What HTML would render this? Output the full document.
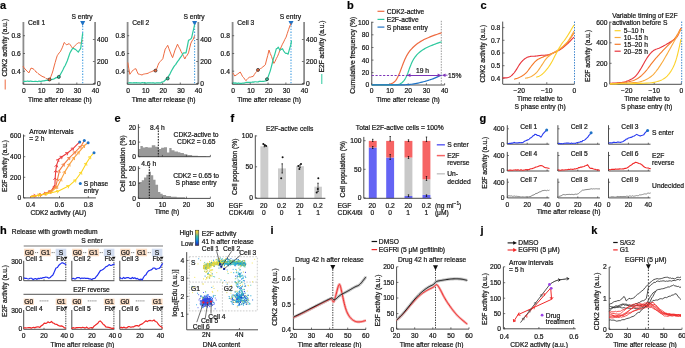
<!DOCTYPE html>
<html><head><meta charset="utf-8"><style>
html,body{margin:0;padding:0;background:#fff;}
body{width:685px;height:348px;overflow:hidden;}
svg{display:block;font-family:"Liberation Sans", sans-serif;will-change:transform;}
text{stroke:#222;stroke-width:0.22px;}
</style></head><body>
<svg width="685" height="348" viewBox="0 0 685 348">
<rect width="685" height="348" fill="#fff"/>
<text x="0.00" y="8.94" font-size="11" font-weight="bold" fill="#000">a</text>
<line x1="23.40" y1="22.00" x2="23.40" y2="84.30" stroke="#8c8c8c" stroke-width="1.8"/>
<line x1="95.10" y1="22.00" x2="95.10" y2="84.30" stroke="#8c8c8c" stroke-width="1.8"/>
<line x1="23.20" y1="84.30" x2="94.70" y2="84.30" stroke="#3a3a3a" stroke-width="0.9"/>
<text x="28.00" y="24.70" font-size="6.7" fill="#111">Cell 1</text>
<text x="20.70" y="38.10" font-size="6.7" text-anchor="end" fill="#111">0.8</text>
<line x1="23.20" y1="35.70" x2="25.00" y2="35.70" stroke="#3a3a3a" stroke-width="0.7"/>
<text x="20.70" y="55.90" font-size="6.7" text-anchor="end" fill="#111">0.6</text>
<line x1="23.20" y1="53.50" x2="25.00" y2="53.50" stroke="#3a3a3a" stroke-width="0.7"/>
<text x="20.70" y="73.60" font-size="6.7" text-anchor="end" fill="#111">0.4</text>
<line x1="23.20" y1="71.20" x2="25.00" y2="71.20" stroke="#3a3a3a" stroke-width="0.7"/>
<text x="97.00" y="41.90" font-size="6.7" fill="#111">400</text>
<line x1="92.90" y1="39.50" x2="94.70" y2="39.50" stroke="#3a3a3a" stroke-width="0.7"/>
<text x="97.00" y="63.90" font-size="6.7" fill="#111">200</text>
<line x1="92.90" y1="61.50" x2="94.70" y2="61.50" stroke="#3a3a3a" stroke-width="0.7"/>
<text x="97.00" y="85.90" font-size="6.7" fill="#111">0</text>
<line x1="92.90" y1="83.50" x2="94.70" y2="83.50" stroke="#3a3a3a" stroke-width="0.7"/>
<text x="23.90" y="93.00" font-size="6.7" text-anchor="middle" fill="#111">0</text>
<line x1="23.20" y1="84.30" x2="23.20" y2="82.50" stroke="#3a3a3a" stroke-width="0.7"/>
<text x="41.78" y="93.00" font-size="6.7" text-anchor="middle" fill="#111">10</text>
<line x1="41.08" y1="84.30" x2="41.08" y2="82.50" stroke="#3a3a3a" stroke-width="0.7"/>
<text x="59.65" y="93.00" font-size="6.7" text-anchor="middle" fill="#111">20</text>
<line x1="58.95" y1="84.30" x2="58.95" y2="82.50" stroke="#3a3a3a" stroke-width="0.7"/>
<text x="77.53" y="93.00" font-size="6.7" text-anchor="middle" fill="#111">30</text>
<line x1="76.83" y1="84.30" x2="76.83" y2="82.50" stroke="#3a3a3a" stroke-width="0.7"/>
<text x="95.40" y="93.00" font-size="6.7" text-anchor="middle" fill="#111">40</text>
<line x1="94.70" y1="84.30" x2="94.70" y2="82.50" stroke="#3a3a3a" stroke-width="0.7"/>
<text x="59.95" y="101.60" font-size="6.7" text-anchor="middle" fill="#111">Time after release (h)</text>
<line x1="127.60" y1="22.00" x2="127.60" y2="84.30" stroke="#8c8c8c" stroke-width="1.8"/>
<line x1="198.30" y1="22.00" x2="198.30" y2="84.30" stroke="#8c8c8c" stroke-width="1.8"/>
<line x1="127.40" y1="84.30" x2="197.90" y2="84.30" stroke="#3a3a3a" stroke-width="0.9"/>
<text x="132.20" y="24.70" font-size="6.7" fill="#111">Cell 2</text>
<text x="124.90" y="38.10" font-size="6.7" text-anchor="end" fill="#111">0.8</text>
<line x1="127.40" y1="35.70" x2="129.20" y2="35.70" stroke="#3a3a3a" stroke-width="0.7"/>
<text x="124.90" y="55.90" font-size="6.7" text-anchor="end" fill="#111">0.6</text>
<line x1="127.40" y1="53.50" x2="129.20" y2="53.50" stroke="#3a3a3a" stroke-width="0.7"/>
<text x="124.90" y="73.60" font-size="6.7" text-anchor="end" fill="#111">0.4</text>
<line x1="127.40" y1="71.20" x2="129.20" y2="71.20" stroke="#3a3a3a" stroke-width="0.7"/>
<text x="200.20" y="41.90" font-size="6.7" fill="#111">400</text>
<line x1="196.10" y1="39.50" x2="197.90" y2="39.50" stroke="#3a3a3a" stroke-width="0.7"/>
<text x="200.20" y="63.90" font-size="6.7" fill="#111">200</text>
<line x1="196.10" y1="61.50" x2="197.90" y2="61.50" stroke="#3a3a3a" stroke-width="0.7"/>
<text x="200.20" y="85.90" font-size="6.7" fill="#111">0</text>
<line x1="196.10" y1="83.50" x2="197.90" y2="83.50" stroke="#3a3a3a" stroke-width="0.7"/>
<text x="128.10" y="93.00" font-size="6.7" text-anchor="middle" fill="#111">0</text>
<line x1="127.40" y1="84.30" x2="127.40" y2="82.50" stroke="#3a3a3a" stroke-width="0.7"/>
<text x="145.72" y="93.00" font-size="6.7" text-anchor="middle" fill="#111">10</text>
<line x1="145.03" y1="84.30" x2="145.03" y2="82.50" stroke="#3a3a3a" stroke-width="0.7"/>
<text x="163.35" y="93.00" font-size="6.7" text-anchor="middle" fill="#111">20</text>
<line x1="162.65" y1="84.30" x2="162.65" y2="82.50" stroke="#3a3a3a" stroke-width="0.7"/>
<text x="180.97" y="93.00" font-size="6.7" text-anchor="middle" fill="#111">30</text>
<line x1="180.28" y1="84.30" x2="180.28" y2="82.50" stroke="#3a3a3a" stroke-width="0.7"/>
<text x="198.60" y="93.00" font-size="6.7" text-anchor="middle" fill="#111">40</text>
<line x1="197.90" y1="84.30" x2="197.90" y2="82.50" stroke="#3a3a3a" stroke-width="0.7"/>
<text x="163.65" y="101.60" font-size="6.7" text-anchor="middle" fill="#111">Time after release (h)</text>
<line x1="232.60" y1="22.00" x2="232.60" y2="84.30" stroke="#8c8c8c" stroke-width="1.8"/>
<line x1="304.10" y1="22.00" x2="304.10" y2="84.30" stroke="#8c8c8c" stroke-width="1.8"/>
<line x1="232.40" y1="84.30" x2="303.70" y2="84.30" stroke="#3a3a3a" stroke-width="0.9"/>
<text x="237.20" y="24.70" font-size="6.7" fill="#111">Cell 3</text>
<text x="229.90" y="38.10" font-size="6.7" text-anchor="end" fill="#111">0.8</text>
<line x1="232.40" y1="35.70" x2="234.20" y2="35.70" stroke="#3a3a3a" stroke-width="0.7"/>
<text x="229.90" y="55.90" font-size="6.7" text-anchor="end" fill="#111">0.6</text>
<line x1="232.40" y1="53.50" x2="234.20" y2="53.50" stroke="#3a3a3a" stroke-width="0.7"/>
<text x="229.90" y="73.60" font-size="6.7" text-anchor="end" fill="#111">0.4</text>
<line x1="232.40" y1="71.20" x2="234.20" y2="71.20" stroke="#3a3a3a" stroke-width="0.7"/>
<text x="306.00" y="41.90" font-size="6.7" fill="#111">400</text>
<line x1="301.90" y1="39.50" x2="303.70" y2="39.50" stroke="#3a3a3a" stroke-width="0.7"/>
<text x="306.00" y="63.90" font-size="6.7" fill="#111">200</text>
<line x1="301.90" y1="61.50" x2="303.70" y2="61.50" stroke="#3a3a3a" stroke-width="0.7"/>
<text x="306.00" y="85.90" font-size="6.7" fill="#111">0</text>
<line x1="301.90" y1="83.50" x2="303.70" y2="83.50" stroke="#3a3a3a" stroke-width="0.7"/>
<text x="233.10" y="93.00" font-size="6.7" text-anchor="middle" fill="#111">0</text>
<line x1="232.40" y1="84.30" x2="232.40" y2="82.50" stroke="#3a3a3a" stroke-width="0.7"/>
<text x="250.92" y="93.00" font-size="6.7" text-anchor="middle" fill="#111">10</text>
<line x1="250.22" y1="84.30" x2="250.22" y2="82.50" stroke="#3a3a3a" stroke-width="0.7"/>
<text x="268.75" y="93.00" font-size="6.7" text-anchor="middle" fill="#111">20</text>
<line x1="268.05" y1="84.30" x2="268.05" y2="82.50" stroke="#3a3a3a" stroke-width="0.7"/>
<text x="286.57" y="93.00" font-size="6.7" text-anchor="middle" fill="#111">30</text>
<line x1="285.88" y1="84.30" x2="285.88" y2="82.50" stroke="#3a3a3a" stroke-width="0.7"/>
<text x="304.40" y="93.00" font-size="6.7" text-anchor="middle" fill="#111">40</text>
<line x1="303.70" y1="84.30" x2="303.70" y2="82.50" stroke="#3a3a3a" stroke-width="0.7"/>
<text x="269.05" y="101.60" font-size="6.7" text-anchor="middle" fill="#111">Time after release (h)</text>
<line x1="82.70" y1="26.00" x2="82.70" y2="84.30" stroke="#3d9be0" stroke-width="1.1" stroke-dasharray="1.3,1.5"/>
<path d="M80.20,21.00 L85.20,21.00 L82.70,26.00 Z" fill="#1f73c6"/>
<text x="71.50" y="19.40" font-size="6.7" fill="#111">S entry</text>
<line x1="194.60" y1="26.00" x2="194.60" y2="84.30" stroke="#3d9be0" stroke-width="1.1" stroke-dasharray="1.3,1.5"/>
<path d="M192.10,21.00 L197.10,21.00 L194.60,26.00 Z" fill="#1f73c6"/>
<text x="183.40" y="19.40" font-size="6.7" fill="#111">S entry</text>
<line x1="291.00" y1="26.00" x2="291.00" y2="84.30" stroke="#3d9be0" stroke-width="1.1" stroke-dasharray="1.3,1.5"/>
<path d="M288.50,21.00 L293.50,21.00 L291.00,26.00 Z" fill="#1f73c6"/>
<text x="279.80" y="19.40" font-size="6.7" fill="#111">S entry</text>
<text transform="translate(4.40,47.70) rotate(-90)" y="2.40" font-size="6.7" text-anchor="middle" fill="#111">CDK2 activity (a.u.)</text>
<line x1="5.20" y1="79.50" x2="5.20" y2="89.50" stroke="#ee6a40" stroke-width="1.0"/>
<text transform="translate(322.00,46.50) rotate(-90)" y="2.40" font-size="6.7" text-anchor="middle" fill="#111">E2F activity (a.u.)</text>
<line x1="321.80" y1="74.00" x2="321.80" y2="84.00" stroke="#2ec99e" stroke-width="1.0"/>
<polyline points="23.00,66.02 24.00,67.90 25.00,68.92 26.00,70.03 27.00,71.10 28.00,72.07 29.00,72.83 30.00,70.26 31.00,68.11 32.00,68.40 33.00,68.77 34.00,69.45 35.00,70.56 36.00,72.04 37.00,72.42 38.00,73.49 39.00,74.29 40.00,74.97 41.00,75.59 42.00,76.29 43.00,76.76 44.00,77.10 45.00,77.53 46.00,78.54 47.00,78.80 48.00,79.04 49.50,79.96 50.85,76.70 52.20,73.16 53.20,69.90 54.20,65.96 55.20,62.42 56.20,58.94 57.20,55.76 58.20,54.25 59.20,52.81 60.20,51.86 61.20,49.92 62.20,47.86 63.20,45.30 64.20,42.48 65.40,43.57 66.60,44.86 67.90,44.26 69.20,43.62 70.37,44.93 71.53,46.74 72.70,48.39 74.00,46.74 75.30,45.29 76.30,44.36 77.30,43.59 78.30,42.82 79.30,42.88 80.30,42.93 81.30,43.35 82.30,40.10" fill="none" stroke="#ee6a40" stroke-width="1.0" stroke-linejoin="round"/>
<polyline points="23.00,81.27 24.00,81.32 25.00,81.44 26.00,81.30 27.00,81.21 28.00,81.08 29.00,81.46 30.00,81.11 31.00,81.11 32.00,81.45 33.00,81.52 34.00,81.49 35.00,81.29 36.00,81.40 37.00,81.49 38.00,81.53 39.00,81.03 40.00,81.42 41.00,81.38 42.00,81.07 43.00,80.95 44.00,80.86 45.00,80.60 46.00,80.41 47.00,80.35 48.00,80.46 49.00,80.44 50.03,79.95 51.07,79.53 52.10,79.45 53.13,79.14 54.17,78.84 55.20,78.16 56.20,77.66 57.20,77.70 58.20,76.98 59.20,76.90 60.20,74.84 61.20,73.05 62.20,71.18 63.20,69.32 64.20,67.08 65.20,65.46 66.20,63.26 67.20,60.96 68.50,57.29 69.80,53.32 71.25,50.62 72.70,48.26 74.00,48.68 75.30,49.35 76.30,50.13 77.30,51.18 78.30,52.13 79.50,50.05 80.70,48.29 81.70,40.79 82.70,33.10" fill="none" stroke="#2ec99e" stroke-width="1.2" stroke-linejoin="round"/>
<circle cx="49.50" cy="79.50" r="1.5" fill="#ee6a40" stroke="#222" stroke-width="0.7"/>
<circle cx="58.80" cy="76.90" r="1.5" fill="#2ec99e" stroke="#222" stroke-width="0.7"/>
<polyline points="127.80,62.41 128.80,68.51 129.80,74.30 131.00,72.69 132.20,71.14 133.40,69.88 134.65,69.10 135.90,68.71 137.10,71.66 138.30,74.13 139.53,74.29 140.77,74.61 142.00,75.02 143.23,74.25 144.47,73.98 145.70,73.73 146.92,73.57 148.15,73.23 149.38,72.44 150.60,72.04 151.80,71.51 153.00,70.96 154.20,70.63 155.45,69.65 156.70,68.92 157.90,65.39 159.10,62.69 160.33,61.52 161.57,60.11 162.80,58.78 164.00,53.73 165.20,49.13 166.45,47.39 167.70,45.29 168.90,48.68 170.10,51.84 171.35,54.94 172.60,57.66 173.80,53.94 175.00,50.10 176.25,47.29 177.50,44.20 178.70,46.78 179.90,48.86 181.10,51.59 182.33,53.79 183.57,56.29 184.80,58.98 186.03,56.57 187.27,55.12 188.50,52.86 189.70,47.82 190.90,43.09 192.10,40.86 193.30,39.16 194.60,35.70" fill="none" stroke="#ee6a40" stroke-width="1.0" stroke-linejoin="round"/>
<polyline points="127.80,82.71 128.84,82.96 129.88,82.70 130.91,82.81 131.95,82.88 132.99,83.00 134.03,82.64 135.06,83.00 136.10,82.62 137.14,82.87 138.18,82.86 139.21,82.92 140.25,83.16 141.29,82.81 142.33,82.62 143.36,82.78 144.40,82.65 145.43,82.95 146.45,83.14 147.47,82.85 148.50,82.89 149.53,82.78 150.55,82.81 151.57,82.97 152.60,82.93 153.62,82.86 154.65,83.14 155.67,83.03 156.70,82.78 157.97,82.86 159.23,82.86 160.50,82.99 161.60,82.15 162.70,81.92 163.80,81.52 165.10,80.23 166.40,79.03 167.70,77.98 168.92,75.64 170.15,73.58 171.38,70.94 172.60,68.85 173.62,67.17 174.63,65.62 175.65,64.65 176.67,62.87 177.68,61.33 178.70,60.16 179.80,58.34 180.90,56.91 182.00,55.29 183.10,53.21 184.55,52.91 186.00,52.92 187.25,46.96 188.50,40.32 189.53,39.84 190.57,39.12 191.60,37.83 192.60,33.41 193.60,29.20 194.60,24.70" fill="none" stroke="#2ec99e" stroke-width="1.2" stroke-linejoin="round"/>
<circle cx="155.50" cy="70.60" r="1.5" fill="#ee6a40" stroke="#222" stroke-width="0.7"/>
<circle cx="167.70" cy="78.50" r="1.5" fill="#2ec99e" stroke="#222" stroke-width="0.7"/>
<polyline points="232.80,72.89 233.80,74.42 234.80,76.03 236.25,75.00 237.70,73.97 238.95,73.04 240.20,72.01 241.40,74.17 242.60,76.61 243.67,77.58 244.73,79.19 245.80,80.67 247.00,79.60 248.20,78.33 249.40,77.02 250.63,77.13 251.87,76.61 253.10,76.51 254.33,74.54 255.57,72.72 256.80,71.34 258.03,70.07 259.27,69.61 260.50,68.51 261.70,67.95 262.90,66.78 264.10,65.96 265.30,64.84 266.53,59.98 267.77,55.31 269.00,50.04 270.25,53.53 271.50,56.40 272.70,60.05 273.90,63.40 275.13,61.28 276.37,58.47 277.60,56.23 278.80,53.23 280.00,49.77 281.20,46.96 282.43,44.19 283.65,41.97 284.88,39.31 286.10,37.12 287.33,33.30 288.57,29.59 289.80,26.04 291.00,23.40" fill="none" stroke="#ee6a40" stroke-width="1.0" stroke-linejoin="round"/>
<polyline points="232.80,82.67 233.95,83.08 235.10,82.95 236.25,83.11 237.40,83.36 238.55,82.97 239.70,83.36 240.78,83.35 241.86,83.28 242.93,83.11 244.01,83.12 245.09,82.72 246.17,82.47 247.24,82.38 248.32,82.47 249.40,82.43 250.49,82.46 251.58,82.26 252.67,81.96 253.76,82.14 254.84,81.76 255.93,81.76 257.02,82.02 258.11,81.93 259.20,81.35 260.26,81.41 261.31,81.47 262.37,81.32 263.43,81.35 264.49,81.21 265.54,80.99 266.60,80.70 267.80,77.74 269.00,74.38 270.20,71.11 271.27,67.09 272.33,63.01 273.40,58.72 274.85,54.11 276.30,48.81 277.30,48.40 278.30,47.18 280.00,50.28 281.25,49.37 282.50,48.70 283.70,50.98 284.90,52.64 285.97,53.47 287.03,53.36 288.10,54.16 289.55,48.84 291.00,44.12 291.50,40.60" fill="none" stroke="#2ec99e" stroke-width="1.2" stroke-linejoin="round"/>
<circle cx="258.00" cy="69.90" r="1.5" fill="#ee6a40" stroke="#222" stroke-width="0.7"/>
<circle cx="267.00" cy="79.20" r="1.5" fill="#2ec99e" stroke="#222" stroke-width="0.7"/>
<text x="347.00" y="8.94" font-size="11" font-weight="bold" fill="#000">b</text>
<line x1="371.70" y1="21.70" x2="371.70" y2="85.00" stroke="#7a7a7a" stroke-width="1.3"/>
<line x1="371.70" y1="85.00" x2="444.60" y2="85.00" stroke="#3a3a3a" stroke-width="0.9"/>
<text x="369.20" y="24.70" font-size="6.7" text-anchor="end" fill="#111">100</text>
<line x1="371.70" y1="22.30" x2="373.50" y2="22.30" stroke="#3a3a3a" stroke-width="0.7"/>
<text x="369.20" y="37.20" font-size="6.7" text-anchor="end" fill="#111">80</text>
<line x1="371.70" y1="34.80" x2="373.50" y2="34.80" stroke="#3a3a3a" stroke-width="0.7"/>
<text x="369.20" y="49.90" font-size="6.7" text-anchor="end" fill="#111">60</text>
<line x1="371.70" y1="47.50" x2="373.50" y2="47.50" stroke="#3a3a3a" stroke-width="0.7"/>
<text x="369.20" y="62.50" font-size="6.7" text-anchor="end" fill="#111">40</text>
<line x1="371.70" y1="60.10" x2="373.50" y2="60.10" stroke="#3a3a3a" stroke-width="0.7"/>
<text x="369.20" y="75.00" font-size="6.7" text-anchor="end" fill="#111">20</text>
<line x1="371.70" y1="72.60" x2="373.50" y2="72.60" stroke="#3a3a3a" stroke-width="0.7"/>
<text x="369.20" y="87.40" font-size="6.7" text-anchor="end" fill="#111">0</text>
<line x1="371.70" y1="85.00" x2="373.50" y2="85.00" stroke="#3a3a3a" stroke-width="0.7"/>
<text x="371.70" y="93.10" font-size="6.7" text-anchor="middle" fill="#111">0</text>
<line x1="371.70" y1="85.00" x2="371.70" y2="83.20" stroke="#3a3a3a" stroke-width="0.7"/>
<text x="389.93" y="93.10" font-size="6.7" text-anchor="middle" fill="#111">10</text>
<line x1="389.93" y1="85.00" x2="389.93" y2="83.20" stroke="#3a3a3a" stroke-width="0.7"/>
<text x="408.16" y="93.10" font-size="6.7" text-anchor="middle" fill="#111">20</text>
<line x1="408.16" y1="85.00" x2="408.16" y2="83.20" stroke="#3a3a3a" stroke-width="0.7"/>
<text x="426.39" y="93.10" font-size="6.7" text-anchor="middle" fill="#111">30</text>
<line x1="426.39" y1="85.00" x2="426.39" y2="83.20" stroke="#3a3a3a" stroke-width="0.7"/>
<text x="444.62" y="93.10" font-size="6.7" text-anchor="middle" fill="#111">40</text>
<line x1="444.62" y1="85.00" x2="444.62" y2="83.20" stroke="#3a3a3a" stroke-width="0.7"/>
<text x="408.00" y="101.70" font-size="6.7" text-anchor="middle" fill="#111">Time after release (h)</text>
<text transform="translate(352.20,55.30) rotate(-90)" y="2.40" font-size="6.7" text-anchor="middle" fill="#111">Cumulative frequency (%)</text>
<line x1="441.30" y1="20.80" x2="441.30" y2="85.00" stroke="#555" stroke-width="0.6" stroke-dasharray="1.5,1.2"/>
<line x1="377.50" y1="11.30" x2="384.40" y2="11.30" stroke="#ee6a40" stroke-width="1.2"/>
<text x="386.70" y="13.70" font-size="6.7" fill="#111">CDK2-active</text>
<line x1="377.50" y1="19.40" x2="384.40" y2="19.40" stroke="#2ec99e" stroke-width="1.2"/>
<text x="386.70" y="21.80" font-size="6.7" fill="#111">E2F-active</text>
<line x1="377.50" y1="27.10" x2="384.40" y2="27.10" stroke="#1f73c6" stroke-width="1.2"/>
<text x="386.70" y="29.50" font-size="6.7" fill="#111">S phase entry</text>
<polyline points="371.70,84.80 371.91,84.80 372.32,84.80 372.95,84.80 373.78,84.80 374.82,84.80 376.06,84.80 377.52,84.80 379.18,84.80 380.70,84.80 382.08,84.79 383.32,84.78 384.43,84.77 385.38,84.75 386.20,84.73 386.88,84.71 387.42,84.69 387.98,84.62 388.56,84.52 389.16,84.39 389.79,84.21 390.43,84.00 391.10,83.75 391.79,83.46 392.51,83.14 393.19,82.75 393.84,82.30 394.46,81.79 395.04,81.21 395.60,80.57 396.13,79.88 396.62,79.11 397.08,78.29 397.53,77.45 397.96,76.60 398.38,75.74 398.79,74.86 399.18,73.98 399.56,73.08 399.92,72.16 400.28,71.24 400.63,70.31 400.98,69.38 401.32,68.45 401.68,67.52 402.02,66.59 402.37,65.65 402.72,64.72 403.08,63.78 403.44,62.84 403.82,61.91 404.21,60.97 404.62,60.03 405.04,59.09 405.47,58.16 405.92,57.22 406.38,56.28 406.87,55.36 407.40,54.45 407.95,53.56 408.53,52.69 409.14,51.83 409.78,50.98 410.45,50.16 411.15,49.34 411.88,48.55 412.64,47.76 413.43,46.99 414.25,46.23 415.10,45.49 415.97,44.76 416.88,44.05 417.82,43.35 418.78,42.67 419.78,42.01 420.80,41.37 421.85,40.75 422.93,40.15 424.03,39.58 425.17,39.02 426.33,38.48 427.52,37.95 428.75,37.43 430.00,36.92 431.28,36.41 432.59,35.91 433.93,35.42 435.30,34.94 436.70,34.46 437.92,34.05 438.98,33.69 439.85,33.39 440.55,33.16 441.08,32.98 441.43,32.86 441.60,32.80" fill="none" stroke="#ee6a40" stroke-width="1.2" stroke-linejoin="round"/>
<polyline points="371.70,84.80 372.08,84.80 372.84,84.80 373.98,84.80 375.50,84.80 377.40,84.80 379.67,84.80 382.33,84.80 385.37,84.80 388.07,84.80 390.43,84.79 392.46,84.78 394.14,84.77 395.49,84.75 396.51,84.73 397.18,84.71 397.52,84.69 397.89,84.62 398.28,84.52 398.71,84.39 399.17,84.21 399.65,84.00 400.17,83.75 400.71,83.46 401.29,83.14 401.85,82.75 402.40,82.30 402.94,81.79 403.46,81.21 403.98,80.57 404.48,79.88 404.96,79.11 405.44,78.29 405.90,77.43 406.34,76.55 406.77,75.64 407.18,74.71 407.58,73.74 407.96,72.75 408.32,71.72 408.68,70.68 409.04,69.62 409.42,68.57 409.81,67.52 410.22,66.48 410.64,65.43 411.07,64.38 411.52,63.33 411.98,62.28 412.47,61.25 413.00,60.26 413.55,59.30 414.13,58.37 414.74,57.47 415.38,56.60 416.05,55.76 416.75,54.94 417.48,54.16 418.24,53.40 419.03,52.68 419.85,51.98 420.70,51.30 421.57,50.66 422.48,50.04 423.42,49.46 424.38,48.88 425.38,48.33 426.40,47.79 427.45,47.26 428.53,46.75 429.63,46.26 430.77,45.78 431.93,45.32 433.04,44.88 434.08,44.48 435.07,44.10 436.00,43.75 436.88,43.43 437.69,43.13 438.45,42.87 439.15,42.63 439.76,42.42 440.29,42.25 440.73,42.10 441.08,41.98 441.34,41.89 441.51,41.83 441.60,41.80" fill="none" stroke="#2ec99e" stroke-width="1.2" stroke-linejoin="round"/>
<polyline points="371.70,84.90 372.14,84.90 373.03,84.90 374.35,84.90 376.12,84.90 378.33,84.90 380.99,84.90 384.08,84.90 387.62,84.90 390.75,84.90 393.48,84.90 395.80,84.90 397.72,84.90 399.24,84.90 400.35,84.90 401.05,84.90 401.35,84.90 401.76,84.89 402.28,84.88 402.91,84.85 403.64,84.82 404.49,84.78 405.45,84.74 406.51,84.68 407.69,84.62 408.89,84.53 410.12,84.40 411.38,84.25 412.67,84.07 413.98,83.86 415.33,83.62 416.70,83.35 418.10,83.05 419.47,82.74 420.81,82.43 422.12,82.11 423.40,81.79 424.65,81.46 425.88,81.12 427.07,80.77 428.23,80.42 429.39,80.05 430.56,79.66 431.72,79.25 432.88,78.82 434.04,78.37 435.21,77.90 436.37,77.41 437.53,76.89 438.55,76.45 439.42,76.06 440.15,75.74 440.73,75.48 441.16,75.29 441.45,75.16 441.60,75.10" fill="none" stroke="#1f73c6" stroke-width="1.2" stroke-linejoin="round"/>
<line x1="371.70" y1="75.50" x2="441.30" y2="75.50" stroke="#7d35b8" stroke-width="1.0" stroke-dasharray="2.2,1.6"/>
<line x1="407.00" y1="75.50" x2="441.30" y2="75.50" stroke="#7d35b8" stroke-width="1.0"/>
<path d="M406.8,75.2 L410.5,73.4 L410.5,77.0 Z" fill="#7d35b8"/>
<path d="M441.3,75.2 L437.6,73.4 L437.6,77.0 Z" fill="#7d35b8"/>
<path d="M441.8,75.2 L445.5,73.4 L445.5,77.0 Z" fill="#7d35b8"/>
<line x1="445.00" y1="75.20" x2="447.50" y2="75.20" stroke="#7d35b8" stroke-width="0.9"/>
<text x="422.60" y="73.00" font-size="6.7" text-anchor="middle" fill="#111">19 h</text>
<text x="448.10" y="77.60" font-size="6.7" fill="#111">15%</text>
<text x="480.50" y="8.94" font-size="11" font-weight="bold" fill="#000">c</text>
<line x1="502.70" y1="21.60" x2="502.70" y2="84.00" stroke="#3a3a3a" stroke-width="0.9"/>
<line x1="502.70" y1="84.30" x2="574.50" y2="84.30" stroke="#3a3a3a" stroke-width="0.9"/>
<text x="500.20" y="30.00" font-size="6.7" text-anchor="end" fill="#111">0.8</text>
<line x1="502.70" y1="27.60" x2="504.50" y2="27.60" stroke="#3a3a3a" stroke-width="0.7"/>
<text x="500.20" y="42.70" font-size="6.7" text-anchor="end" fill="#111">0.7</text>
<line x1="502.70" y1="40.30" x2="504.50" y2="40.30" stroke="#3a3a3a" stroke-width="0.7"/>
<text x="500.20" y="55.40" font-size="6.7" text-anchor="end" fill="#111">0.6</text>
<line x1="502.70" y1="53.00" x2="504.50" y2="53.00" stroke="#3a3a3a" stroke-width="0.7"/>
<text x="500.20" y="68.10" font-size="6.7" text-anchor="end" fill="#111">0.5</text>
<line x1="502.70" y1="65.70" x2="504.50" y2="65.70" stroke="#3a3a3a" stroke-width="0.7"/>
<text x="500.20" y="80.70" font-size="6.7" text-anchor="end" fill="#111">0.4</text>
<line x1="502.70" y1="78.30" x2="504.50" y2="78.30" stroke="#3a3a3a" stroke-width="0.7"/>
<text x="519.30" y="92.60" font-size="6.7" text-anchor="middle" fill="#111">−20</text>
<line x1="519.30" y1="84.00" x2="519.30" y2="82.20" stroke="#3a3a3a" stroke-width="0.7"/>
<text x="546.80" y="92.60" font-size="6.7" text-anchor="middle" fill="#111">−10</text>
<line x1="546.80" y1="84.00" x2="546.80" y2="82.20" stroke="#3a3a3a" stroke-width="0.7"/>
<text x="574.40" y="92.60" font-size="6.7" text-anchor="middle" fill="#111">0</text>
<line x1="574.40" y1="84.00" x2="574.40" y2="82.20" stroke="#3a3a3a" stroke-width="0.7"/>
<line x1="574.50" y1="21.60" x2="574.50" y2="84.00" stroke="#1f73c6" stroke-width="0.9" stroke-dasharray="1.4,1.3"/>
<text x="539.80" y="100.90" font-size="6.7" text-anchor="middle" fill="#111">Time relative to</text>
<text x="540.10" y="109.00" font-size="6.7" text-anchor="middle" fill="#111">S phase entry (h)</text>
<text transform="translate(483.00,53.70) rotate(-90)" y="2.40" font-size="6.7" text-anchor="middle" fill="#111">CDK2 activity (a.u.)</text>
<polyline points="502.40,77.90 502.49,77.90 502.67,77.90 502.93,77.90 503.29,77.90 503.74,77.90 504.27,77.90 504.89,77.90 505.61,77.90 506.29,77.86 506.95,77.78 507.58,77.66 508.19,77.49 508.77,77.29 509.32,77.05 509.85,76.76 510.35,76.44 510.85,76.07 511.35,75.67 511.85,75.24 512.35,74.76 512.85,74.25 513.35,73.70 513.85,73.11 514.35,72.49 514.85,71.83 515.35,71.14 515.85,70.42 516.35,69.66 516.85,68.87 517.35,68.05 517.85,67.19 518.35,66.31 518.87,65.45 519.40,64.63 519.94,63.84 520.51,63.08 521.08,62.36 521.68,61.67 522.29,61.01 522.91,60.39 523.54,59.81 524.17,59.28 524.80,58.79 525.43,58.36 526.06,57.97 526.70,57.62 527.33,57.33 527.97,57.08 528.62,56.86 529.29,56.67 529.97,56.51 530.66,56.39 531.37,56.29 532.09,56.23 532.83,56.20 533.58,56.20 534.31,56.18 535.03,56.15 535.73,56.11 536.42,56.04 537.09,55.97 537.75,55.87 538.39,55.76 539.01,55.64 539.65,55.53 540.31,55.43 540.98,55.36 541.67,55.29 542.37,55.25 543.09,55.22 543.83,55.20 544.58,55.20 545.33,55.17 546.08,55.11 546.83,55.01 547.59,54.89 548.35,54.73 549.11,54.54 549.87,54.33 550.63,54.08 551.41,53.80 552.20,53.51 553.00,53.19 553.82,52.86 554.65,52.50 555.50,52.12 556.36,51.71 557.24,51.29 558.11,50.83 558.99,50.33 559.86,49.80 560.74,49.23 561.61,48.62 562.49,47.98 563.36,47.31 564.24,46.59 565.11,45.86 565.97,45.11 566.83,44.33 567.69,43.54 568.54,42.73 569.39,41.89 570.23,41.04 571.07,40.16 571.80,39.40 572.43,38.74 572.95,38.19 573.37,37.76 573.69,37.43 573.90,37.21 574.00,37.10" fill="none" stroke="#e8343c" stroke-width="1.1" stroke-linejoin="round"/>
<polyline points="514.10,79.30 514.19,79.27 514.38,79.21 514.66,79.11 515.04,78.99 515.51,78.83 516.07,78.64 516.73,78.42 517.48,78.17 518.23,77.89 518.98,77.58 519.73,77.24 520.48,76.86 521.23,76.46 521.98,76.02 522.73,75.55 523.48,75.05 524.21,74.50 524.93,73.90 525.64,73.26 526.33,72.57 527.01,71.82 527.68,71.03 528.33,70.19 528.97,69.31 529.60,68.44 530.24,67.58 530.87,66.75 531.50,65.93 532.13,65.13 532.76,64.34 533.39,63.58 534.01,62.83 534.65,62.12 535.31,61.47 535.98,60.86 536.67,60.29 537.37,59.78 538.09,59.31 538.83,58.89 539.58,58.51 540.33,58.15 541.08,57.81 541.83,57.48 542.59,57.17 543.35,56.87 544.11,56.59 544.87,56.33 545.63,56.08 546.39,55.81 547.15,55.53 547.91,55.23 548.67,54.92 549.42,54.59 550.17,54.25 550.92,53.89 551.67,53.51 552.42,53.14 553.17,52.76 553.92,52.39 554.67,52.01 555.42,51.64 556.17,51.26 556.92,50.89 557.67,50.51 558.44,50.09 559.22,49.62 560.02,49.10 560.83,48.53 561.66,47.91 562.50,47.25 563.36,46.53 564.24,45.77 565.11,44.95 565.97,44.06 566.83,43.12 567.69,42.11 568.54,41.04 569.39,39.91 570.23,38.73 571.07,37.48 571.80,36.38 572.43,35.44 572.95,34.66 573.37,34.04 573.69,33.57 573.90,33.26 574.00,33.10" fill="none" stroke="#f57a2a" stroke-width="1.1" stroke-linejoin="round"/>
<polyline points="525.10,78.30 525.18,78.28 525.34,78.25 525.58,78.21 525.90,78.14 526.30,78.07 526.77,77.97 527.33,77.86 527.97,77.74 528.62,77.57 529.29,77.35 529.97,77.08 530.66,76.77 531.37,76.41 532.09,76.00 532.83,75.55 533.58,75.05 534.31,74.50 535.03,73.90 535.73,73.26 536.42,72.57 537.09,71.82 537.75,71.03 538.39,70.19 539.01,69.31 539.64,68.40 540.26,67.49 540.89,66.56 541.51,65.62 542.14,64.66 542.76,63.69 543.39,62.70 544.01,61.70 544.64,60.76 545.27,59.89 545.90,59.08 546.53,58.33 547.16,57.64 547.80,57.01 548.43,56.45 549.07,55.95 549.70,55.47 550.34,55.00 550.97,54.54 551.60,54.11 552.23,53.68 552.86,53.28 553.49,52.89 554.11,52.51 554.75,52.12 555.41,51.71 556.08,51.28 556.77,50.84 557.47,50.38 558.19,49.90 558.92,49.41 559.67,48.89 560.43,48.35 561.18,47.78 561.93,47.18 562.69,46.55 563.45,45.89 564.21,45.20 564.97,44.48 565.73,43.73 566.49,42.91 567.23,42.04 567.97,41.10 568.70,40.10 569.43,39.04 570.14,37.91 570.85,36.73 571.55,35.48 572.16,34.38 572.69,33.44 573.12,32.66 573.47,32.04 573.74,31.57 573.91,31.26 574.00,31.10" fill="none" stroke="#f9aa3c" stroke-width="1.1" stroke-linejoin="round"/>
<polyline points="536.20,77.30 536.28,77.27 536.43,77.21 536.67,77.11 536.98,76.99 537.37,76.83 537.84,76.64 538.39,76.42 539.01,76.17 539.64,75.88 540.26,75.53 540.89,75.14 541.51,74.71 542.14,74.22 542.76,73.69 543.39,73.11 544.01,72.49 544.64,71.83 545.27,71.14 545.90,70.42 546.53,69.66 547.16,68.87 547.80,68.05 548.43,67.19 549.07,66.31 549.70,65.37 550.34,64.40 550.97,63.37 551.60,62.30 552.23,61.19 552.86,60.03 553.49,58.83 554.11,57.58 554.74,56.34 555.36,55.12 555.99,53.91 556.61,52.72 557.24,51.54 557.86,50.37 558.49,49.22 559.11,48.08 559.74,46.99 560.36,45.95 560.99,44.96 561.61,44.02 562.24,43.12 562.86,42.27 563.49,41.48 564.11,40.73 564.78,39.86 565.49,38.89 566.24,37.81 567.03,36.62 567.87,35.31 568.75,33.90 569.67,32.37 570.63,30.73 571.47,29.30 572.20,28.07 572.80,27.05 573.28,26.23 573.64,25.61 573.88,25.20 574.00,25.00" fill="none" stroke="#fcd22a" stroke-width="1.1" stroke-linejoin="round"/>
<line x1="609.80" y1="21.60" x2="609.80" y2="84.10" stroke="#3a3a3a" stroke-width="0.9"/>
<line x1="609.80" y1="84.30" x2="681.70" y2="84.30" stroke="#3a3a3a" stroke-width="0.9"/>
<text x="607.50" y="24.60" font-size="6.7" text-anchor="end" fill="#111">600</text>
<line x1="609.80" y1="22.20" x2="611.60" y2="22.20" stroke="#3a3a3a" stroke-width="0.7"/>
<text x="607.50" y="45.20" font-size="6.7" text-anchor="end" fill="#111">400</text>
<line x1="609.80" y1="42.80" x2="611.60" y2="42.80" stroke="#3a3a3a" stroke-width="0.7"/>
<text x="607.50" y="65.70" font-size="6.7" text-anchor="end" fill="#111">200</text>
<line x1="609.80" y1="63.30" x2="611.60" y2="63.30" stroke="#3a3a3a" stroke-width="0.7"/>
<text x="607.50" y="86.50" font-size="6.7" text-anchor="end" fill="#111">0</text>
<line x1="609.80" y1="84.10" x2="611.60" y2="84.10" stroke="#3a3a3a" stroke-width="0.7"/>
<text x="626.70" y="92.60" font-size="6.7" text-anchor="middle" fill="#111">−20</text>
<line x1="626.70" y1="84.10" x2="626.70" y2="82.30" stroke="#3a3a3a" stroke-width="0.7"/>
<text x="654.20" y="92.60" font-size="6.7" text-anchor="middle" fill="#111">−10</text>
<line x1="654.20" y1="84.10" x2="654.20" y2="82.30" stroke="#3a3a3a" stroke-width="0.7"/>
<text x="681.40" y="92.60" font-size="6.7" text-anchor="middle" fill="#111">0</text>
<line x1="681.40" y1="84.10" x2="681.40" y2="82.30" stroke="#3a3a3a" stroke-width="0.7"/>
<line x1="681.70" y1="21.60" x2="681.70" y2="84.10" stroke="#1f73c6" stroke-width="0.9" stroke-dasharray="1.4,1.3"/>
<text x="647.00" y="100.90" font-size="6.7" text-anchor="middle" fill="#111">Time relative to</text>
<text x="646.70" y="109.00" font-size="6.7" text-anchor="middle" fill="#111">S phase entry (h)</text>
<text transform="translate(588.00,55.90) rotate(-90)" y="2.40" font-size="6.7" text-anchor="middle" fill="#111">E2F activity (a.u.)</text>
<text x="612.20" y="18.00" font-size="6.7" fill="#111">Variable timing of E2F</text>
<text x="612.20" y="24.90" font-size="6.7" fill="#111">activation before S</text>
<line x1="614.60" y1="30.70" x2="620.70" y2="30.70" stroke="#fcd22a" stroke-width="1.2"/>
<text x="623.70" y="33.10" font-size="6.7" fill="#111">5–10 h</text>
<line x1="614.60" y1="37.50" x2="620.70" y2="37.50" stroke="#f9aa3c" stroke-width="1.2"/>
<text x="623.70" y="39.90" font-size="6.7" fill="#111">10–15 h</text>
<line x1="614.60" y1="44.30" x2="620.70" y2="44.30" stroke="#f57a2a" stroke-width="1.2"/>
<text x="623.70" y="46.70" font-size="6.7" fill="#111">15–20 h</text>
<line x1="614.60" y1="51.20" x2="620.70" y2="51.20" stroke="#e8343c" stroke-width="1.2"/>
<text x="623.70" y="53.60" font-size="6.7" fill="#111">20–25 h</text>
<polyline points="610.00,83.30 610.17,83.29 610.52,83.27 611.04,83.24 611.73,83.21 612.60,83.16 613.64,83.10 614.86,83.04 616.24,82.96 617.55,82.88 618.78,82.78 619.93,82.66 621.00,82.54 621.99,82.40 622.90,82.25 623.73,82.09 624.48,81.91 625.26,81.70 626.07,81.44 626.92,81.14 627.80,80.81 628.72,80.43 629.66,80.01 630.64,79.55 631.66,79.05 632.64,78.47 633.58,77.82 634.50,77.08 635.38,76.27 636.23,75.38 637.04,74.41 637.83,73.36 638.58,72.24 639.33,71.08 640.08,69.89 640.83,68.67 641.58,67.41 642.33,66.12 643.08,64.80 643.83,63.44 644.58,62.06 645.33,60.73 646.08,59.47 646.83,58.28 647.58,57.15 648.33,56.08 649.08,55.08 649.83,54.14 650.58,53.26 651.33,52.47 652.08,51.75 652.83,51.11 653.59,50.54 654.35,50.06 655.11,49.65 655.87,49.33 656.63,49.08 657.39,48.81 658.15,48.52 658.91,48.22 659.67,47.90 660.42,47.57 661.17,47.21 661.92,46.84 662.67,46.46 663.46,46.04 664.27,45.59 665.11,45.12 665.99,44.61 666.89,44.07 667.83,43.51 668.80,42.91 669.80,42.29 670.74,41.69 671.62,41.13 672.43,40.60 673.19,40.10 673.89,39.63 674.52,39.19 675.09,38.79 675.61,38.41 676.11,37.94 676.61,37.38 677.10,36.72 677.58,35.96 678.05,35.11 678.52,34.16 678.98,33.12 679.43,31.98 679.82,30.99 680.16,30.13 680.44,29.42 680.66,28.85 680.83,28.43 680.94,28.14 681.00,28.00" fill="none" stroke="#e8343c" stroke-width="1.1" stroke-linejoin="round"/>
<polyline points="610.00,83.90 610.30,83.87 610.90,83.81 611.79,83.71 612.98,83.59 614.48,83.43 616.27,83.24 618.36,83.03 620.74,82.78 622.96,82.52 625.00,82.25 626.88,81.97 628.58,81.68 630.10,81.38 631.46,81.08 632.64,80.76 633.66,80.44 634.67,80.04 635.68,79.58 636.68,79.05 637.69,78.45 638.70,77.78 639.70,77.04 640.70,76.24 641.70,75.36 642.70,74.42 643.70,73.42 644.70,72.35 645.70,71.22 646.70,70.03 647.70,68.77 648.70,67.44 649.70,66.06 650.70,64.70 651.70,63.38 652.71,62.09 653.72,60.83 654.72,59.61 655.73,58.42 656.74,57.26 657.76,56.14 658.77,55.03 659.78,53.93 660.78,52.85 661.79,51.78 662.80,50.72 663.80,49.68 664.80,48.66 665.80,47.64 666.77,46.66 667.71,45.72 668.62,44.80 669.50,43.92 670.35,43.07 671.18,42.26 671.97,41.48 672.73,40.73 673.49,39.91 674.23,39.03 674.97,38.09 675.70,37.08 676.43,36.01 677.14,34.88 677.85,33.68 678.55,32.42 679.16,31.31 679.69,30.37 680.12,29.58 680.47,28.95 680.74,28.47 680.91,28.16 681.00,28.00" fill="none" stroke="#f57a2a" stroke-width="1.1" stroke-linejoin="round"/>
<polyline points="610.00,83.90 610.42,83.88 611.28,83.84 612.55,83.79 614.25,83.71 616.38,83.62 618.92,83.51 621.90,83.38 625.30,83.23 628.40,83.06 631.20,82.87 633.70,82.66 635.90,82.44 637.80,82.19 639.40,81.93 640.70,81.65 641.70,81.35 642.70,81.01 643.70,80.63 644.70,80.21 645.70,79.74 646.70,79.24 647.70,78.70 648.70,78.11 649.70,77.49 650.70,76.77 651.70,75.95 652.71,75.04 653.72,74.03 654.72,72.93 655.73,71.74 656.74,70.44 657.76,69.06 658.77,67.62 659.78,66.15 660.78,64.62 661.79,63.05 662.80,61.44 663.80,59.78 664.80,58.08 665.80,56.33 666.77,54.62 667.71,52.96 668.62,51.35 669.50,49.78 670.35,48.25 671.18,46.78 671.97,45.34 672.73,43.96 673.49,42.59 674.23,41.23 674.97,39.90 675.70,38.58 676.43,37.28 677.14,35.99 677.85,34.73 678.55,33.48 679.16,32.38 679.69,31.44 680.12,30.66 680.47,30.04 680.74,29.57 680.91,29.26 681.00,29.10" fill="none" stroke="#f9aa3c" stroke-width="1.1" stroke-linejoin="round"/>
<polyline points="610.00,83.90 610.55,83.89 611.65,83.88 613.30,83.86 615.50,83.84 618.25,83.81 621.55,83.77 625.40,83.72 629.80,83.68 633.84,83.61 637.52,83.52 640.83,83.41 643.79,83.29 646.39,83.14 648.62,82.98 650.49,82.80 652.01,82.60 653.45,82.37 654.84,82.11 656.16,81.81 657.42,81.49 658.61,81.13 659.74,80.74 660.80,80.32 661.80,79.88 662.77,79.37 663.71,78.82 664.61,78.21 665.49,77.54 666.33,76.83 667.14,76.06 667.92,75.24 668.67,74.36 669.41,73.42 670.13,72.42 670.84,71.35 671.53,70.22 672.21,69.03 672.88,67.77 673.53,66.44 674.17,65.06 674.80,63.51 675.42,61.81 676.03,59.96 676.64,57.94 677.24,55.77 677.83,53.45 678.41,50.97 678.99,48.33 679.49,46.02 679.92,44.05 680.28,42.40 680.57,41.08 680.78,40.09 680.93,39.43 681.00,39.10" fill="none" stroke="#fcd22a" stroke-width="1.1" stroke-linejoin="round"/>
<text x="0.00" y="121.54" font-size="11" font-weight="bold" fill="#000">d</text>
<line x1="23.50" y1="134.50" x2="23.50" y2="197.90" stroke="#3a3a3a" stroke-width="0.9"/>
<line x1="23.50" y1="197.90" x2="95.90" y2="197.90" stroke="#3a3a3a" stroke-width="0.9"/>
<text x="21.20" y="138.30" font-size="6.7" text-anchor="end" fill="#111">600</text>
<line x1="23.50" y1="135.90" x2="25.30" y2="135.90" stroke="#3a3a3a" stroke-width="0.7"/>
<text x="21.20" y="159.10" font-size="6.7" text-anchor="end" fill="#111">400</text>
<line x1="23.50" y1="156.70" x2="25.30" y2="156.70" stroke="#3a3a3a" stroke-width="0.7"/>
<text x="21.20" y="179.70" font-size="6.7" text-anchor="end" fill="#111">200</text>
<line x1="23.50" y1="177.30" x2="25.30" y2="177.30" stroke="#3a3a3a" stroke-width="0.7"/>
<text x="21.20" y="200.30" font-size="6.7" text-anchor="end" fill="#111">0</text>
<line x1="23.50" y1="197.90" x2="25.30" y2="197.90" stroke="#3a3a3a" stroke-width="0.7"/>
<text x="30.70" y="206.70" font-size="6.7" text-anchor="middle" fill="#111">0.4</text>
<line x1="30.70" y1="197.90" x2="30.70" y2="196.10" stroke="#3a3a3a" stroke-width="0.7"/>
<text x="59.50" y="206.70" font-size="6.7" text-anchor="middle" fill="#111">0.6</text>
<line x1="59.50" y1="197.90" x2="59.50" y2="196.10" stroke="#3a3a3a" stroke-width="0.7"/>
<text x="88.30" y="206.70" font-size="6.7" text-anchor="middle" fill="#111">0.8</text>
<line x1="88.30" y1="197.90" x2="88.30" y2="196.10" stroke="#3a3a3a" stroke-width="0.7"/>
<text x="58.30" y="215.10" font-size="6.7" text-anchor="middle" fill="#111">CDK2 activity (AU)</text>
<text transform="translate(4.70,166.00) rotate(-90)" y="2.40" font-size="6.7" text-anchor="middle" fill="#111">E2F activity (a.u.)</text>
<text x="29.30" y="134.10" font-size="6.7" fill="#111">Arrow intervals</text>
<text x="29.30" y="141.30" font-size="6.7" fill="#111">= 2 h</text>
<circle cx="80.30" cy="183.40" r="1.5" fill="#1f73c6" stroke="none" stroke-width="0.6"/>
<text x="83.80" y="185.70" font-size="6.7" fill="#111">S phase</text>
<text x="83.80" y="193.00" font-size="6.7" fill="#111">entry</text>
<polyline points="30.60,196.60 36.00,195.60 41.80,194.70 46.50,193.00 51.10,191.00 54.90,185.40 55.20,177.90 55.80,170.40 56.70,164.90 58.60,159.30 62.30,156.50 67.90,152.70 73.50,148.10 79.70,141.90" fill="none" stroke="#ea3a3c" stroke-width="1.1" stroke-linejoin="round"/>
<polyline points="34.24,197.64 36.00,195.60 33.66,194.25" fill="none" stroke="#ea3a3c" stroke-width="0.9"/>
<polyline points="40.19,196.87 41.80,194.70 39.37,193.53" fill="none" stroke="#ea3a3c" stroke-width="0.9"/>
<polyline points="45.20,195.37 46.50,193.00 43.93,192.17" fill="none" stroke="#ea3a3c" stroke-width="0.9"/>
<polyline points="50.71,193.67 51.10,191.00 48.40,191.12" fill="none" stroke="#ea3a3c" stroke-width="0.9"/>
<polyline points="55.92,187.90 54.90,185.40 52.64,186.87" fill="none" stroke="#ea3a3c" stroke-width="0.9"/>
<polyline points="56.79,180.08 55.20,177.90 53.36,179.87" fill="none" stroke="#ea3a3c" stroke-width="0.9"/>
<polyline points="57.27,172.66 55.80,170.40 53.85,172.27" fill="none" stroke="#ea3a3c" stroke-width="0.9"/>
<polyline points="57.86,167.34 56.70,164.90 54.52,166.50" fill="none" stroke="#ea3a3c" stroke-width="0.9"/>
<polyline points="58.88,161.99 58.60,159.30 56.01,160.08" fill="none" stroke="#ea3a3c" stroke-width="0.9"/>
<polyline points="61.60,159.11 62.30,156.50 59.61,156.30" fill="none" stroke="#ea3a3c" stroke-width="0.9"/>
<polyline points="67.27,155.33 67.90,152.70 65.20,152.57" fill="none" stroke="#ea3a3c" stroke-width="0.9"/>
<polyline points="73.13,150.77 73.50,148.10 70.80,148.24" fill="none" stroke="#ea3a3c" stroke-width="0.9"/>
<polyline points="30.60,196.60 41.80,194.70 51.10,191.00 55.80,186.30 57.60,178.80 59.50,170.40 64.20,163.90 69.80,157.40 75.40,151.80 81.00,146.20 84.30,140.60" fill="none" stroke="#f47a40" stroke-width="1.1" stroke-linejoin="round"/>
<polyline points="40.25,196.91 41.80,194.70 39.34,193.59" fill="none" stroke="#f47a40" stroke-width="0.9"/>
<polyline points="50.20,193.55 51.10,191.00 48.43,190.59" fill="none" stroke="#f47a40" stroke-width="0.9"/>
<polyline points="56.34,188.95 55.80,186.30 53.30,187.33" fill="none" stroke="#f47a40" stroke-width="0.9"/>
<polyline points="58.80,181.22 57.60,178.80 55.45,180.44" fill="none" stroke="#f47a40" stroke-width="0.9"/>
<polyline points="60.23,173.00 59.50,170.40 57.08,171.61" fill="none" stroke="#f47a40" stroke-width="0.9"/>
<polyline points="64.26,166.60 64.20,163.90 61.56,164.46" fill="none" stroke="#f47a40" stroke-width="0.9"/>
<polyline points="69.65,160.10 69.80,157.40 67.12,157.76" fill="none" stroke="#f47a40" stroke-width="0.9"/>
<polyline points="75.15,154.49 75.40,151.80 72.71,152.05" fill="none" stroke="#f47a40" stroke-width="0.9"/>
<polyline points="81.05,148.90 81.00,146.20 78.36,146.76" fill="none" stroke="#f47a40" stroke-width="0.9"/>
<polyline points="30.60,196.60 41.80,194.70 52.10,191.00 57.60,186.30 61.40,178.80 65.10,171.40 69.80,163.90 74.40,157.40 79.10,151.80 84.70,145.30 88.10,142.80" fill="none" stroke="#f9a040" stroke-width="1.1" stroke-linejoin="round"/>
<polyline points="40.22,196.89 41.80,194.70 39.35,193.56" fill="none" stroke="#f9a040" stroke-width="0.9"/>
<polyline points="51.07,193.50 52.10,191.00 49.46,190.46" fill="none" stroke="#f9a040" stroke-width="0.9"/>
<polyline points="57.71,189.00 57.60,186.30 54.97,186.91" fill="none" stroke="#f9a040" stroke-width="0.9"/>
<polyline points="62.00,181.43 61.40,178.80 58.93,179.88" fill="none" stroke="#f9a040" stroke-width="0.9"/>
<polyline points="65.58,174.06 65.10,171.40 62.58,172.37" fill="none" stroke="#f9a040" stroke-width="0.9"/>
<polyline points="70.08,166.59 69.80,163.90 67.22,164.68" fill="none" stroke="#f9a040" stroke-width="0.9"/>
<polyline points="74.50,160.10 74.40,157.40 71.77,158.00" fill="none" stroke="#f9a040" stroke-width="0.9"/>
<polyline points="79.06,154.50 79.10,151.80 76.44,152.27" fill="none" stroke="#f9a040" stroke-width="0.9"/>
<polyline points="84.45,147.99 84.70,145.30 82.01,145.55" fill="none" stroke="#f9a040" stroke-width="0.9"/>
<polyline points="30.60,196.60 40.00,195.00 47.40,193.80 58.60,191.00 69.00,185.80 75.80,179.80 81.50,172.00 86.50,163.00 90.60,156.50 94.00,152.70" fill="none" stroke="#fcd41c" stroke-width="1.1" stroke-linejoin="round"/>
<polyline points="38.23,197.04 40.00,195.00 37.66,193.64" fill="none" stroke="#fcd41c" stroke-width="0.9"/>
<polyline points="45.73,195.92 47.40,193.80 45.00,192.55" fill="none" stroke="#fcd41c" stroke-width="0.9"/>
<polyline points="57.25,193.34 58.60,191.00 56.05,190.11" fill="none" stroke="#fcd41c" stroke-width="0.9"/>
<polyline points="68.20,188.38 69.00,185.80 66.32,185.49" fill="none" stroke="#fcd41c" stroke-width="0.9"/>
<polyline points="75.68,182.50 75.80,179.80 73.13,180.19" fill="none" stroke="#fcd41c" stroke-width="0.9"/>
<polyline points="81.83,174.68 81.50,172.00 78.93,172.83" fill="none" stroke="#fcd41c" stroke-width="0.9"/>
<polyline points="86.93,165.67 86.50,163.00 83.96,163.92" fill="none" stroke="#fcd41c" stroke-width="0.9"/>
<polyline points="90.77,159.19 90.60,156.50 87.98,157.17" fill="none" stroke="#fcd41c" stroke-width="0.9"/>
<circle cx="79.70" cy="141.90" r="1.5" fill="#1f73c6" stroke="none" stroke-width="0.6"/>
<circle cx="84.30" cy="140.60" r="1.5" fill="#1f73c6" stroke="none" stroke-width="0.6"/>
<circle cx="88.10" cy="142.80" r="1.5" fill="#1f73c6" stroke="none" stroke-width="0.6"/>
<circle cx="94.00" cy="152.70" r="1.5" fill="#1f73c6" stroke="none" stroke-width="0.6"/>
<text x="114.50" y="121.54" font-size="11" font-weight="bold" fill="#000">e</text>
<path d="M138.60,156.70 L138.60,149.00 L140.40,149.00 L140.40,146.10 L142.80,146.10 L142.80,147.60 L145.30,147.60 L145.30,147.00 L147.70,147.00 L147.70,147.60 L151.80,147.60 L151.80,145.30 L155.30,145.30 L155.30,146.70 L158.20,146.70 L158.20,149.00 L161.10,149.00 L161.10,147.80 L164.00,147.80 L164.00,147.30 L167.00,147.30 L167.00,152.50 L169.30,152.50 L169.30,148.10 L171.60,148.10 L171.60,150.20 L174.50,150.20 L174.50,151.40 L178.00,151.40 L178.00,152.30 L180.40,152.30 L180.40,153.10 L183.90,153.10 L183.90,154.30 L187.40,154.30 L187.40,155.10 L192.10,155.10 L192.10,155.80 L197.90,155.80 L197.90,156.30 L206.10,156.30 L206.10,156.70 Z" fill="#999999"/>
<path d="M138.60,198.40 L138.60,182.07 L141.75,182.07 L141.75,180.23 L144.05,180.23 L144.05,177.47 L146.34,177.47 L146.34,174.71 L148.64,174.71 L148.64,171.72 L150.94,171.72 L150.94,175.17 L153.24,175.17 L153.24,179.77 L155.54,179.77 L155.54,184.83 L158.07,184.83 L158.07,191.95 L160.37,191.95 L160.37,193.79 L162.67,193.79 L162.67,194.94 L166.11,194.94 L166.11,196.09 L170.94,196.09 L170.94,196.78 L176.69,196.78 L176.69,197.24 L184.97,197.24 L184.97,198.40 Z" fill="#999999"/>
<line x1="138.40" y1="124.20" x2="138.40" y2="156.70" stroke="#3a3a3a" stroke-width="0.9"/>
<line x1="138.40" y1="156.70" x2="210.40" y2="156.70" stroke="#3a3a3a" stroke-width="0.9"/>
<line x1="138.40" y1="166.20" x2="138.40" y2="198.40" stroke="#3a3a3a" stroke-width="0.9"/>
<line x1="138.40" y1="198.40" x2="210.40" y2="198.40" stroke="#3a3a3a" stroke-width="0.9"/>
<text x="136.10" y="129.80" font-size="6.7" text-anchor="end" fill="#111">20</text>
<line x1="138.40" y1="127.40" x2="140.20" y2="127.40" stroke="#3a3a3a" stroke-width="0.7"/>
<text x="136.10" y="144.50" font-size="6.7" text-anchor="end" fill="#111">10</text>
<line x1="138.40" y1="142.10" x2="140.20" y2="142.10" stroke="#3a3a3a" stroke-width="0.7"/>
<text x="136.10" y="159.10" font-size="6.7" text-anchor="end" fill="#111">0</text>
<line x1="138.40" y1="156.70" x2="140.20" y2="156.70" stroke="#3a3a3a" stroke-width="0.7"/>
<text x="136.10" y="170.80" font-size="6.7" text-anchor="end" fill="#111">20</text>
<line x1="138.40" y1="168.40" x2="140.20" y2="168.40" stroke="#3a3a3a" stroke-width="0.7"/>
<text x="136.10" y="185.80" font-size="6.7" text-anchor="end" fill="#111">10</text>
<line x1="138.40" y1="183.40" x2="140.20" y2="183.40" stroke="#3a3a3a" stroke-width="0.7"/>
<text x="136.10" y="200.80" font-size="6.7" text-anchor="end" fill="#111">0</text>
<line x1="138.40" y1="198.40" x2="140.20" y2="198.40" stroke="#3a3a3a" stroke-width="0.7"/>
<text x="138.40" y="206.60" font-size="6.7" text-anchor="middle" fill="#111">0</text>
<line x1="138.40" y1="198.40" x2="138.40" y2="196.60" stroke="#3a3a3a" stroke-width="0.7"/>
<line x1="138.40" y1="156.70" x2="138.40" y2="154.90" stroke="#3a3a3a" stroke-width="0.7"/>
<text x="162.40" y="206.60" font-size="6.7" text-anchor="middle" fill="#111">10</text>
<line x1="162.40" y1="198.40" x2="162.40" y2="196.60" stroke="#3a3a3a" stroke-width="0.7"/>
<line x1="162.40" y1="156.70" x2="162.40" y2="154.90" stroke="#3a3a3a" stroke-width="0.7"/>
<text x="186.40" y="206.60" font-size="6.7" text-anchor="middle" fill="#111">20</text>
<line x1="186.40" y1="198.40" x2="186.40" y2="196.60" stroke="#3a3a3a" stroke-width="0.7"/>
<line x1="186.40" y1="156.70" x2="186.40" y2="154.90" stroke="#3a3a3a" stroke-width="0.7"/>
<text x="210.40" y="206.60" font-size="6.7" text-anchor="middle" fill="#111">30</text>
<line x1="210.40" y1="198.40" x2="210.40" y2="196.60" stroke="#3a3a3a" stroke-width="0.7"/>
<line x1="210.40" y1="156.70" x2="210.40" y2="154.90" stroke="#3a3a3a" stroke-width="0.7"/>
<text x="167.00" y="214.10" font-size="6.7" text-anchor="middle" fill="#111">Time (h)</text>
<text transform="translate(122.60,163.60) rotate(-90)" y="2.40" font-size="6.7" text-anchor="middle" fill="#111">Cell population (%)</text>
<line x1="158.30" y1="130.50" x2="158.30" y2="156.70" stroke="#111" stroke-width="1.0" stroke-dasharray="1.6,1.2"/>
<text x="157.40" y="129.80" font-size="6.7" text-anchor="middle" fill="#111">8.4 h</text>
<line x1="149.30" y1="166.50" x2="149.30" y2="198.40" stroke="#111" stroke-width="1.0" stroke-dasharray="1.6,1.2"/>
<text x="148.70" y="166.10" font-size="6.7" text-anchor="middle" fill="#111">4.6 h</text>
<text x="196.10" y="136.80" font-size="6.7" text-anchor="middle" fill="#111">CDK2-active to</text>
<text x="196.30" y="144.30" font-size="6.7" text-anchor="middle" fill="#111">CDK2 = 0.65</text>
<text x="196.10" y="178.00" font-size="6.7" text-anchor="middle" fill="#111">CDK2 = 0.65 to</text>
<text x="196.10" y="185.40" font-size="6.7" text-anchor="middle" fill="#111">S phase entry</text>
<text x="230.50" y="121.54" font-size="11" font-weight="bold" fill="#000">f</text>
<text x="289.70" y="130.70" font-size="6.7" text-anchor="middle" fill="#111">E2F-active cells</text>
<rect x="260.40" y="146.30" width="7.90" height="52.00" fill="#cccccc"/>
<rect x="278.00" y="168.40" width="8.00" height="29.90" fill="#cccccc"/>
<rect x="296.00" y="166.20" width="7.90" height="32.10" fill="#cccccc"/>
<rect x="314.40" y="186.70" width="7.50" height="11.60" fill="#cccccc"/>
<line x1="255.30" y1="135.30" x2="255.30" y2="198.30" stroke="#3a3a3a" stroke-width="0.9"/>
<line x1="255.30" y1="198.30" x2="325.40" y2="198.30" stroke="#3a3a3a" stroke-width="0.9"/>
<text x="253.00" y="138.30" font-size="6.7" text-anchor="end" fill="#111">100</text>
<line x1="255.30" y1="135.90" x2="257.10" y2="135.90" stroke="#3a3a3a" stroke-width="0.7"/>
<text x="253.00" y="169.20" font-size="6.7" text-anchor="end" fill="#111">50</text>
<line x1="255.30" y1="166.80" x2="257.10" y2="166.80" stroke="#3a3a3a" stroke-width="0.7"/>
<text x="253.00" y="200.20" font-size="6.7" text-anchor="end" fill="#111">0</text>
<line x1="255.30" y1="197.80" x2="257.10" y2="197.80" stroke="#3a3a3a" stroke-width="0.7"/>
<text transform="translate(234.60,166.80) rotate(-90)" y="2.40" font-size="6.7" text-anchor="middle" fill="#111">Cell population (%)</text>
<line x1="264.40" y1="144.80" x2="264.40" y2="146.80" stroke="#111" stroke-width="0.7"/>
<line x1="263.70" y1="144.80" x2="265.10" y2="144.80" stroke="#111" stroke-width="0.8"/>
<line x1="263.70" y1="146.80" x2="265.10" y2="146.80" stroke="#111" stroke-width="0.8"/>
<circle cx="263.30" cy="144.10" r="1.0" fill="#111" stroke="none" stroke-width="0.6"/>
<circle cx="265.00" cy="145.20" r="1.0" fill="#111" stroke="none" stroke-width="0.6"/>
<circle cx="266.20" cy="145.90" r="1.0" fill="#111" stroke="none" stroke-width="0.6"/>
<line x1="282.20" y1="163.80" x2="282.20" y2="173.00" stroke="#111" stroke-width="0.7"/>
<line x1="281.50" y1="163.80" x2="282.90" y2="163.80" stroke="#111" stroke-width="0.8"/>
<line x1="281.50" y1="173.00" x2="282.90" y2="173.00" stroke="#111" stroke-width="0.8"/>
<circle cx="282.60" cy="157.20" r="1.0" fill="#111" stroke="none" stroke-width="0.6"/>
<circle cx="281.20" cy="178.20" r="1.0" fill="#111" stroke="none" stroke-width="0.6"/>
<line x1="300.00" y1="164.80" x2="300.00" y2="167.50" stroke="#111" stroke-width="0.7"/>
<line x1="299.30" y1="164.80" x2="300.70" y2="164.80" stroke="#111" stroke-width="0.8"/>
<line x1="299.30" y1="167.50" x2="300.70" y2="167.50" stroke="#111" stroke-width="0.8"/>
<circle cx="298.30" cy="166.00" r="1.0" fill="#111" stroke="none" stroke-width="0.6"/>
<circle cx="301.00" cy="164.10" r="1.0" fill="#111" stroke="none" stroke-width="0.6"/>
<circle cx="299.40" cy="169.00" r="1.0" fill="#111" stroke="none" stroke-width="0.6"/>
<line x1="318.00" y1="183.20" x2="318.00" y2="191.50" stroke="#111" stroke-width="0.7"/>
<line x1="317.30" y1="183.20" x2="318.70" y2="183.20" stroke="#111" stroke-width="0.8"/>
<line x1="317.30" y1="191.50" x2="318.70" y2="191.50" stroke="#111" stroke-width="0.8"/>
<circle cx="318.30" cy="178.20" r="1.0" fill="#111" stroke="none" stroke-width="0.6"/>
<circle cx="317.80" cy="189.00" r="1.0" fill="#111" stroke="none" stroke-width="0.6"/>
<circle cx="316.70" cy="192.40" r="1.0" fill="#111" stroke="none" stroke-width="0.6"/>
<text x="263.80" y="207.60" font-size="6.7" text-anchor="middle" fill="#111">20</text>
<text x="281.70" y="207.60" font-size="6.7" text-anchor="middle" fill="#111">0.2</text>
<text x="299.70" y="207.60" font-size="6.7" text-anchor="middle" fill="#111">20</text>
<text x="318.00" y="207.60" font-size="6.7" text-anchor="middle" fill="#111">0.2</text>
<text x="263.80" y="215.20" font-size="6.7" text-anchor="middle" fill="#111">0</text>
<text x="281.70" y="215.20" font-size="6.7" text-anchor="middle" fill="#111">0</text>
<text x="299.70" y="215.20" font-size="6.7" text-anchor="middle" fill="#111">1</text>
<text x="318.00" y="215.20" font-size="6.7" text-anchor="middle" fill="#111">1</text>
<text x="228.80" y="207.60" font-size="6.7" fill="#111">EGF</text>
<text x="228.80" y="215.20" font-size="6.7" fill="#111">CDK4/6i</text>
<text x="399.80" y="130.40" font-size="6.7" text-anchor="middle" fill="#111">Total E2F-active cells = 100%</text>
<rect x="368.80" y="147.50" width="7.90" height="50.80" fill="#6464f4"/>
<rect x="368.80" y="140.90" width="7.90" height="6.60" fill="#f66464"/>
<rect x="386.20" y="157.55" width="7.90" height="40.75" fill="#6464f4"/>
<rect x="386.20" y="140.90" width="7.90" height="16.65" fill="#f66464"/>
<rect x="404.50" y="196.00" width="7.90" height="2.30" fill="#6464f4"/>
<rect x="404.50" y="157.55" width="7.90" height="38.46" fill="#c8c8c8"/>
<rect x="404.50" y="140.90" width="7.90" height="16.65" fill="#f66464"/>
<rect x="422.50" y="194.86" width="7.90" height="3.44" fill="#6464f4"/>
<rect x="422.50" y="179.36" width="7.90" height="15.50" fill="#c8c8c8"/>
<rect x="422.50" y="140.90" width="7.90" height="38.46" fill="#f66464"/>
<line x1="363.80" y1="136.90" x2="363.80" y2="198.30" stroke="#3a3a3a" stroke-width="0.9"/>
<line x1="363.80" y1="198.30" x2="431.40" y2="198.30" stroke="#3a3a3a" stroke-width="0.9"/>
<text x="361.50" y="143.10" font-size="6.7" text-anchor="end" fill="#111">100</text>
<line x1="363.80" y1="140.70" x2="365.60" y2="140.70" stroke="#3a3a3a" stroke-width="0.7"/>
<text x="361.50" y="171.70" font-size="6.7" text-anchor="end" fill="#111">50</text>
<line x1="363.80" y1="169.30" x2="365.60" y2="169.30" stroke="#3a3a3a" stroke-width="0.7"/>
<text x="361.50" y="200.30" font-size="6.7" text-anchor="end" fill="#111">0</text>
<line x1="363.80" y1="197.90" x2="365.60" y2="197.90" stroke="#3a3a3a" stroke-width="0.7"/>
<text transform="translate(342.50,169.20) rotate(-90)" y="2.40" font-size="6.7" text-anchor="middle" fill="#111">Cell population (%)</text>
<line x1="372.70" y1="139.30" x2="372.70" y2="141.50" stroke="#111" stroke-width="0.7"/>
<line x1="372.00" y1="139.30" x2="373.40" y2="139.30" stroke="#111" stroke-width="0.8"/>
<line x1="372.00" y1="141.50" x2="373.40" y2="141.50" stroke="#111" stroke-width="0.8"/>
<line x1="390.20" y1="136.50" x2="390.20" y2="141.00" stroke="#111" stroke-width="0.7"/>
<line x1="389.50" y1="136.50" x2="390.90" y2="136.50" stroke="#111" stroke-width="0.8"/>
<line x1="389.50" y1="141.00" x2="390.90" y2="141.00" stroke="#111" stroke-width="0.8"/>
<line x1="408.50" y1="139.80" x2="408.50" y2="141.50" stroke="#111" stroke-width="0.7"/>
<line x1="407.80" y1="139.80" x2="409.20" y2="139.80" stroke="#111" stroke-width="0.8"/>
<line x1="407.80" y1="141.50" x2="409.20" y2="141.50" stroke="#111" stroke-width="0.8"/>
<line x1="426.50" y1="137.00" x2="426.50" y2="141.50" stroke="#111" stroke-width="0.7"/>
<line x1="425.80" y1="137.00" x2="427.20" y2="137.00" stroke="#111" stroke-width="0.8"/>
<line x1="425.80" y1="141.50" x2="427.20" y2="141.50" stroke="#111" stroke-width="0.8"/>
<line x1="372.70" y1="146.50" x2="372.70" y2="148.50" stroke="#111" stroke-width="0.7"/>
<line x1="372.00" y1="146.50" x2="373.40" y2="146.50" stroke="#111" stroke-width="0.8"/>
<line x1="372.00" y1="148.50" x2="373.40" y2="148.50" stroke="#111" stroke-width="0.8"/>
<line x1="390.20" y1="154.50" x2="390.20" y2="159.50" stroke="#111" stroke-width="0.7"/>
<line x1="389.50" y1="154.50" x2="390.90" y2="154.50" stroke="#111" stroke-width="0.8"/>
<line x1="389.50" y1="159.50" x2="390.90" y2="159.50" stroke="#111" stroke-width="0.8"/>
<line x1="408.50" y1="156.50" x2="408.50" y2="158.50" stroke="#111" stroke-width="0.7"/>
<line x1="407.80" y1="156.50" x2="409.20" y2="156.50" stroke="#111" stroke-width="0.8"/>
<line x1="407.80" y1="158.50" x2="409.20" y2="158.50" stroke="#111" stroke-width="0.8"/>
<line x1="426.50" y1="176.50" x2="426.50" y2="180.50" stroke="#111" stroke-width="0.7"/>
<line x1="425.80" y1="176.50" x2="427.20" y2="176.50" stroke="#111" stroke-width="0.8"/>
<line x1="425.80" y1="180.50" x2="427.20" y2="180.50" stroke="#111" stroke-width="0.8"/>
<line x1="408.50" y1="194.80" x2="408.50" y2="196.50" stroke="#111" stroke-width="0.7"/>
<line x1="407.80" y1="194.80" x2="409.20" y2="194.80" stroke="#111" stroke-width="0.8"/>
<line x1="407.80" y1="196.50" x2="409.20" y2="196.50" stroke="#111" stroke-width="0.8"/>
<line x1="426.50" y1="194.80" x2="426.50" y2="196.50" stroke="#111" stroke-width="0.7"/>
<line x1="425.80" y1="194.80" x2="427.20" y2="194.80" stroke="#111" stroke-width="0.8"/>
<line x1="425.80" y1="196.50" x2="427.20" y2="196.50" stroke="#111" stroke-width="0.8"/>
<text x="372.30" y="207.60" font-size="6.7" text-anchor="middle" fill="#111">20</text>
<text x="390.20" y="207.60" font-size="6.7" text-anchor="middle" fill="#111">0.2</text>
<text x="408.20" y="207.60" font-size="6.7" text-anchor="middle" fill="#111">20</text>
<text x="426.40" y="207.60" font-size="6.7" text-anchor="middle" fill="#111">0.2</text>
<text x="372.30" y="215.20" font-size="6.7" text-anchor="middle" fill="#111">0</text>
<text x="390.20" y="215.20" font-size="6.7" text-anchor="middle" fill="#111">0</text>
<text x="408.20" y="215.20" font-size="6.7" text-anchor="middle" fill="#111">1</text>
<text x="426.40" y="215.20" font-size="6.7" text-anchor="middle" fill="#111">1</text>
<text x="434.90" y="207.60" font-size="6.7" fill="#111">(ng ml</text>
<text x="453.60" y="205.12" font-size="4.8" fill="#111">−1</text>
<text x="459.00" y="207.60" font-size="6.7" fill="#111">)</text>
<text x="434.90" y="215.20" font-size="6.7" fill="#111">(μM)</text>
<line x1="436.80" y1="144.80" x2="444.90" y2="144.80" stroke="#6464f4" stroke-width="1.5"/>
<line x1="436.80" y1="155.60" x2="444.90" y2="155.60" stroke="#f66464" stroke-width="1.5"/>
<line x1="436.80" y1="173.80" x2="444.90" y2="173.80" stroke="#c8c8c8" stroke-width="1.5"/>
<text x="447.20" y="147.20" font-size="6.7" fill="#111">S enter</text>
<text x="447.20" y="158.20" font-size="6.7" fill="#111">E2F</text>
<text x="447.20" y="164.70" font-size="6.7" fill="#111">reverse</text>
<text x="447.20" y="176.00" font-size="6.7" fill="#111">Un-</text>
<text x="447.20" y="183.50" font-size="6.7" fill="#111">decided</text>
<text x="337.60" y="207.60" font-size="6.7" fill="#111">EGF</text>
<text x="337.60" y="215.20" font-size="6.7" fill="#111">CDK4/6i</text>
<text x="479.50" y="121.54" font-size="11" font-weight="bold" fill="#000">g</text>
<line x1="507.30" y1="125.20" x2="507.30" y2="144.20" stroke="#3a3a3a" stroke-width="0.9"/>
<line x1="507.30" y1="144.20" x2="549.30" y2="144.20" stroke="#3a3a3a" stroke-width="0.9"/>
<line x1="507.30" y1="128.80" x2="508.90" y2="128.80" stroke="#3a3a3a" stroke-width="0.7"/>
<line x1="507.30" y1="144.20" x2="507.30" y2="142.70" stroke="#3a3a3a" stroke-width="0.7"/>
<line x1="527.20" y1="144.20" x2="527.20" y2="142.70" stroke="#3a3a3a" stroke-width="0.7"/>
<line x1="547.10" y1="144.20" x2="547.10" y2="142.70" stroke="#3a3a3a" stroke-width="0.7"/>
<text x="528.70" y="128.90" font-size="6.7" text-anchor="middle" fill="#111">Cell 1</text>
<line x1="557.90" y1="125.20" x2="557.90" y2="144.20" stroke="#3a3a3a" stroke-width="0.9"/>
<line x1="557.90" y1="144.20" x2="599.90" y2="144.20" stroke="#3a3a3a" stroke-width="0.9"/>
<line x1="557.90" y1="128.80" x2="559.50" y2="128.80" stroke="#3a3a3a" stroke-width="0.7"/>
<line x1="557.90" y1="144.20" x2="557.90" y2="142.70" stroke="#3a3a3a" stroke-width="0.7"/>
<line x1="577.80" y1="144.20" x2="577.80" y2="142.70" stroke="#3a3a3a" stroke-width="0.7"/>
<line x1="597.70" y1="144.20" x2="597.70" y2="142.70" stroke="#3a3a3a" stroke-width="0.7"/>
<text x="579.30" y="128.90" font-size="6.7" text-anchor="middle" fill="#111">Cell 2</text>
<line x1="608.50" y1="125.20" x2="608.50" y2="144.20" stroke="#3a3a3a" stroke-width="0.9"/>
<line x1="608.50" y1="144.20" x2="650.50" y2="144.20" stroke="#3a3a3a" stroke-width="0.9"/>
<line x1="608.50" y1="128.80" x2="610.10" y2="128.80" stroke="#3a3a3a" stroke-width="0.7"/>
<line x1="608.50" y1="144.20" x2="608.50" y2="142.70" stroke="#3a3a3a" stroke-width="0.7"/>
<line x1="628.40" y1="144.20" x2="628.40" y2="142.70" stroke="#3a3a3a" stroke-width="0.7"/>
<line x1="648.30" y1="144.20" x2="648.30" y2="142.70" stroke="#3a3a3a" stroke-width="0.7"/>
<text x="629.90" y="128.90" font-size="6.7" text-anchor="middle" fill="#111">Cell 3</text>
<text x="504.40" y="131.40" font-size="6.7" text-anchor="end" fill="#111">400</text>
<text x="504.40" y="146.60" font-size="6.7" text-anchor="end" fill="#111">0</text>
<line x1="507.30" y1="151.90" x2="507.30" y2="171.00" stroke="#3a3a3a" stroke-width="0.9"/>
<line x1="507.30" y1="171.00" x2="549.30" y2="171.00" stroke="#3a3a3a" stroke-width="0.9"/>
<line x1="507.30" y1="155.50" x2="508.90" y2="155.50" stroke="#3a3a3a" stroke-width="0.7"/>
<line x1="507.30" y1="171.00" x2="507.30" y2="169.50" stroke="#3a3a3a" stroke-width="0.7"/>
<line x1="527.20" y1="171.00" x2="527.20" y2="169.50" stroke="#3a3a3a" stroke-width="0.7"/>
<line x1="547.10" y1="171.00" x2="547.10" y2="169.50" stroke="#3a3a3a" stroke-width="0.7"/>
<text x="528.70" y="155.60" font-size="6.7" text-anchor="middle" fill="#111">Cell 4</text>
<line x1="557.90" y1="151.90" x2="557.90" y2="171.00" stroke="#3a3a3a" stroke-width="0.9"/>
<line x1="557.90" y1="171.00" x2="599.90" y2="171.00" stroke="#3a3a3a" stroke-width="0.9"/>
<line x1="557.90" y1="155.50" x2="559.50" y2="155.50" stroke="#3a3a3a" stroke-width="0.7"/>
<line x1="557.90" y1="171.00" x2="557.90" y2="169.50" stroke="#3a3a3a" stroke-width="0.7"/>
<line x1="577.80" y1="171.00" x2="577.80" y2="169.50" stroke="#3a3a3a" stroke-width="0.7"/>
<line x1="597.70" y1="171.00" x2="597.70" y2="169.50" stroke="#3a3a3a" stroke-width="0.7"/>
<text x="579.30" y="155.60" font-size="6.7" text-anchor="middle" fill="#111">Cell 5</text>
<line x1="608.50" y1="151.90" x2="608.50" y2="171.00" stroke="#3a3a3a" stroke-width="0.9"/>
<line x1="608.50" y1="171.00" x2="650.50" y2="171.00" stroke="#3a3a3a" stroke-width="0.9"/>
<line x1="608.50" y1="155.50" x2="610.10" y2="155.50" stroke="#3a3a3a" stroke-width="0.7"/>
<line x1="608.50" y1="171.00" x2="608.50" y2="169.50" stroke="#3a3a3a" stroke-width="0.7"/>
<line x1="628.40" y1="171.00" x2="628.40" y2="169.50" stroke="#3a3a3a" stroke-width="0.7"/>
<line x1="648.30" y1="171.00" x2="648.30" y2="169.50" stroke="#3a3a3a" stroke-width="0.7"/>
<text x="629.90" y="155.60" font-size="6.7" text-anchor="middle" fill="#111">Cell 6</text>
<text x="504.40" y="158.10" font-size="6.7" text-anchor="end" fill="#111">400</text>
<text x="504.40" y="173.40" font-size="6.7" text-anchor="end" fill="#111">0</text>
<line x1="507.30" y1="178.60" x2="507.30" y2="197.90" stroke="#3a3a3a" stroke-width="0.9"/>
<line x1="507.30" y1="197.90" x2="549.30" y2="197.90" stroke="#3a3a3a" stroke-width="0.9"/>
<line x1="507.30" y1="182.20" x2="508.90" y2="182.20" stroke="#3a3a3a" stroke-width="0.7"/>
<line x1="507.30" y1="197.90" x2="507.30" y2="196.40" stroke="#3a3a3a" stroke-width="0.7"/>
<line x1="527.20" y1="197.90" x2="527.20" y2="196.40" stroke="#3a3a3a" stroke-width="0.7"/>
<line x1="547.10" y1="197.90" x2="547.10" y2="196.40" stroke="#3a3a3a" stroke-width="0.7"/>
<text x="528.70" y="182.30" font-size="6.7" text-anchor="middle" fill="#111">Cell 7</text>
<line x1="557.90" y1="178.60" x2="557.90" y2="197.90" stroke="#3a3a3a" stroke-width="0.9"/>
<line x1="557.90" y1="197.90" x2="599.90" y2="197.90" stroke="#3a3a3a" stroke-width="0.9"/>
<line x1="557.90" y1="182.20" x2="559.50" y2="182.20" stroke="#3a3a3a" stroke-width="0.7"/>
<line x1="557.90" y1="197.90" x2="557.90" y2="196.40" stroke="#3a3a3a" stroke-width="0.7"/>
<line x1="577.80" y1="197.90" x2="577.80" y2="196.40" stroke="#3a3a3a" stroke-width="0.7"/>
<line x1="597.70" y1="197.90" x2="597.70" y2="196.40" stroke="#3a3a3a" stroke-width="0.7"/>
<text x="579.30" y="182.30" font-size="6.7" text-anchor="middle" fill="#111">Cell 8</text>
<line x1="608.50" y1="178.60" x2="608.50" y2="197.90" stroke="#3a3a3a" stroke-width="0.9"/>
<line x1="608.50" y1="197.90" x2="650.50" y2="197.90" stroke="#3a3a3a" stroke-width="0.9"/>
<line x1="608.50" y1="182.20" x2="610.10" y2="182.20" stroke="#3a3a3a" stroke-width="0.7"/>
<line x1="608.50" y1="197.90" x2="608.50" y2="196.40" stroke="#3a3a3a" stroke-width="0.7"/>
<line x1="628.40" y1="197.90" x2="628.40" y2="196.40" stroke="#3a3a3a" stroke-width="0.7"/>
<line x1="648.30" y1="197.90" x2="648.30" y2="196.40" stroke="#3a3a3a" stroke-width="0.7"/>
<text x="629.90" y="182.30" font-size="6.7" text-anchor="middle" fill="#111">Cell 9</text>
<text x="504.40" y="184.80" font-size="6.7" text-anchor="end" fill="#111">400</text>
<text x="504.40" y="200.30" font-size="6.7" text-anchor="end" fill="#111">0</text>
<text x="507.30" y="206.60" font-size="6.7" text-anchor="middle" fill="#111">0</text>
<text x="527.20" y="206.60" font-size="6.7" text-anchor="middle" fill="#111">20</text>
<text x="547.10" y="206.60" font-size="6.7" text-anchor="middle" fill="#111">40</text>
<text x="557.90" y="206.60" font-size="6.7" text-anchor="middle" fill="#111">0</text>
<text x="577.80" y="206.60" font-size="6.7" text-anchor="middle" fill="#111">20</text>
<text x="597.70" y="206.60" font-size="6.7" text-anchor="middle" fill="#111">40</text>
<text x="608.50" y="206.60" font-size="6.7" text-anchor="middle" fill="#111">0</text>
<text x="628.40" y="206.60" font-size="6.7" text-anchor="middle" fill="#111">20</text>
<text x="648.30" y="206.60" font-size="6.7" text-anchor="middle" fill="#111">40</text>
<text x="568.60" y="214.20" font-size="6.7" text-anchor="middle" fill="#111">Time after release (h)</text>
<text transform="translate(485.00,162.80) rotate(-90)" y="2.40" font-size="6.7" text-anchor="middle" fill="#111">E2F activity (a.u.)</text>
<text x="652.10" y="134.50" font-size="6.7" fill="#111">S enter</text>
<text x="652.10" y="158.30" font-size="6.7" fill="#111">E2F</text>
<text x="652.10" y="164.60" font-size="6.7" fill="#111">reverse</text>
<text x="652.10" y="187.70" font-size="6.7" fill="#111">Undecided</text>
<polyline points="507.70,143.49 508.75,143.45 509.80,143.37 510.85,143.36 511.90,143.10 512.95,143.11 514.00,142.37 515.02,142.68 516.05,143.01 517.08,142.80 518.10,142.98 519.12,142.43 520.15,142.68 521.18,142.52 522.20,142.73 523.37,142.19 524.53,141.23 525.70,140.80 526.88,140.15 528.05,139.89 529.23,139.09 530.40,137.96 531.55,137.48 532.70,136.10 533.85,135.51 535.00,134.24 536.20,134.50 537.40,135.46 538.57,135.53 539.73,136.07 540.90,137.14 542.07,135.49 543.23,133.52 544.40,132.42 545.55,131.08 546.70,130.00" fill="none" stroke="#2a3cf0" stroke-width="1.1" stroke-linejoin="round"/>
<circle cx="546.70" cy="130.00" r="1.5" fill="#1f73c6" stroke="none" stroke-width="0.6"/>
<polyline points="557.90,143.52 558.95,143.19 560.00,143.71 561.05,143.53 562.10,143.73 563.15,143.68 564.20,143.26 565.25,143.30 566.30,143.17 567.35,143.15 568.40,143.10 569.45,143.26 570.50,143.47 571.55,143.05 572.60,143.52 573.65,143.29 574.70,143.27 575.71,143.35 576.73,142.84 577.74,142.46 578.76,142.30 579.77,142.19 580.79,141.46 581.80,141.83 582.95,140.47 584.10,140.27 585.25,139.64 586.40,138.36 587.58,137.43 588.75,135.66 589.92,134.33 591.10,132.80" fill="none" stroke="#2a3cf0" stroke-width="1.1" stroke-linejoin="round"/>
<circle cx="591.10" cy="132.80" r="1.5" fill="#1f73c6" stroke="none" stroke-width="0.6"/>
<polyline points="608.60,143.06 609.78,142.84 610.96,142.70 612.14,143.00 613.32,142.23 614.50,142.38 615.50,142.50 616.50,142.51 617.50,142.09 618.50,142.10 619.50,142.22 620.50,142.39 621.50,141.93 622.66,141.67 623.82,141.01 624.98,140.35 626.14,139.08 627.30,139.01 628.46,137.95 629.62,137.67 630.78,137.40 631.94,137.15 633.10,136.29 634.30,136.06 635.50,135.16 636.70,134.37 637.87,135.01 639.03,135.54 640.20,136.10 641.37,135.52 642.53,135.27 643.70,134.85 645.00,132.93 646.30,131.52 647.60,130.50" fill="none" stroke="#2a3cf0" stroke-width="1.1" stroke-linejoin="round"/>
<circle cx="647.60" cy="130.50" r="1.5" fill="#1f73c6" stroke="none" stroke-width="0.6"/>
<polyline points="507.70,170.54 508.71,170.20 509.73,170.09 510.75,169.96 511.76,170.19 512.77,170.33 513.79,170.05 514.80,170.01 515.82,169.73 516.84,170.31 517.85,169.67 518.87,169.98 519.88,170.20 520.89,169.68 521.91,170.08 522.92,170.21 523.94,169.97 524.96,170.06 525.97,169.56 526.99,169.77 528.00,169.55 529.00,169.70 530.00,168.97 531.00,168.74 532.00,168.78 533.00,168.33 534.00,168.08 535.00,167.37 536.18,167.01 537.36,166.80 538.54,166.25 539.72,165.73 540.90,165.43 542.05,165.73 543.20,166.36 544.35,167.27 545.50,167.72 546.50,167.79 547.50,168.00 548.50,168.19 549.50,168.60" fill="none" stroke="#f02828" stroke-width="1.1" stroke-linejoin="round"/>
<polyline points="557.90,169.91 558.95,169.97 560.00,170.25 561.05,170.23 562.10,169.80 563.15,170.03 564.20,169.94 565.25,169.81 566.30,169.71 567.35,169.71 568.40,169.35 569.45,169.52 570.50,169.15 571.55,169.21 572.60,169.34 573.65,169.21 574.70,168.86 575.73,169.02 576.75,168.53 577.77,168.19 578.80,167.51 579.83,167.60 580.85,167.10 581.88,167.11 582.90,166.67 584.08,166.45 585.25,165.85 586.42,165.48 587.60,164.69 588.75,166.45 589.90,168.07 590.91,168.36 591.92,168.26 592.93,168.83 593.94,169.08 594.95,169.18 595.96,169.61 596.97,169.83 597.98,169.75 598.99,169.99 600.00,170.20" fill="none" stroke="#f02828" stroke-width="1.1" stroke-linejoin="round"/>
<polyline points="608.60,169.27 609.63,169.68 610.66,169.70 611.69,169.33 612.72,169.42 613.75,169.39 614.78,169.34 615.81,168.90 616.84,169.27 617.86,169.08 618.89,169.09 619.92,168.86 620.95,168.95 621.98,169.00 623.01,168.85 624.04,168.86 625.07,168.32 626.10,168.36 627.28,167.72 628.46,167.03 629.64,165.88 630.82,165.37 632.00,164.49 633.17,163.45 634.33,163.11 635.50,162.31 636.67,162.54 637.85,162.94 639.03,163.42 640.20,163.68 641.35,164.56 642.50,165.32 643.65,166.50 644.80,167.32 645.98,167.72 647.16,167.94 648.34,167.94 649.52,168.64 650.70,168.60" fill="none" stroke="#f02828" stroke-width="1.1" stroke-linejoin="round"/>
<polyline points="507.70,195.55 508.71,195.89 509.73,195.86 510.75,196.02 511.76,195.87 512.77,196.43 513.79,196.17 514.80,196.00 515.82,196.46 516.84,196.16 517.85,196.53 518.87,196.45 519.88,196.68 520.89,197.00 521.91,196.96 522.92,196.74 523.94,197.08 524.96,197.02 525.97,196.89 526.99,196.79 528.00,197.17 529.00,196.74 530.00,196.62 531.00,196.23 532.00,195.58 533.00,195.00 534.00,194.98 535.00,193.95 536.00,193.53 537.00,193.35 538.00,192.88 539.00,192.05 540.00,191.89 541.00,191.57 542.00,190.71 543.07,190.65 544.14,190.41 545.21,190.35 546.29,190.73 547.36,190.22 548.43,190.52 549.50,190.10" fill="none" stroke="#8a8a8a" stroke-width="1.0" stroke-linejoin="round"/>
<polyline points="557.90,197.39 558.94,196.69 559.98,195.97 561.02,196.00 562.06,195.18 563.10,194.64 564.10,194.54 565.10,194.98 566.10,194.61 567.10,194.44 568.10,194.54 569.10,194.26 570.10,194.59 571.10,194.43 572.10,194.30 573.10,194.61 574.10,194.61 575.10,194.02 576.10,194.35 577.10,194.14 578.26,193.76 579.42,192.82 580.58,191.60 581.74,190.78 582.90,189.86 583.92,190.29 584.95,189.66 585.98,189.73 587.00,189.48 588.02,189.45 589.05,189.27 590.08,189.22 591.10,188.63 592.21,189.08 593.33,188.76 594.44,188.92 595.55,188.79 596.66,188.76 597.77,188.92 598.89,188.88 600.00,188.90" fill="none" stroke="#8a8a8a" stroke-width="1.0" stroke-linejoin="round"/>
<polyline points="608.60,197.00 609.63,197.23 610.67,197.07 611.70,196.64 612.74,196.74 613.77,196.84 614.81,197.11 615.84,197.05 616.88,196.76 617.91,196.34 618.95,196.83 619.98,196.54 621.02,196.60 622.05,196.65 623.08,196.55 624.12,196.40 625.15,196.65 626.19,196.24 627.22,196.19 628.26,196.47 629.29,195.96 630.33,195.99 631.36,196.32 632.40,195.73 633.43,196.23 634.47,196.08 635.50,195.85 636.51,195.55 637.53,195.70 638.54,195.59 639.55,194.85 640.57,194.88 641.58,194.73 642.59,194.50 643.61,194.18 644.62,193.86 645.63,193.96 646.65,193.92 647.66,193.20 648.67,193.11 649.69,193.32 650.70,192.90" fill="none" stroke="#8a8a8a" stroke-width="1.0" stroke-linejoin="round"/>
<text x="0.00" y="233.74" font-size="11" font-weight="bold" fill="#000">h</text>
<text x="11.80" y="234.20" font-size="6.7" fill="#111">Release with growth medium</text>
<text x="92.00" y="243.10" font-size="6.7" text-anchor="middle" fill="#111">S enter</text>
<line x1="23.70" y1="246.00" x2="163.00" y2="246.00" stroke="#777" stroke-width="1.2"/>
<text x="91.50" y="292.20" font-size="6.7" text-anchor="middle" fill="#111">E2F reverse</text>
<line x1="23.50" y1="294.40" x2="163.00" y2="294.40" stroke="#777" stroke-width="1.2"/>
<rect x="24.10" y="248.70" width="10.10" height="7.60" fill="#fadcc4"/>
<text x="29.15" y="254.80" font-size="6.7" text-anchor="middle" fill="#111">G0</text>
<rect x="39.90" y="248.70" width="11.10" height="7.60" fill="#fadcc4"/>
<text x="45.45" y="254.80" font-size="6.7" text-anchor="middle" fill="#111">G1</text>
<rect x="55.70" y="248.70" width="10.60" height="7.60" fill="#d3ddf0"/>
<text x="61.00" y="254.80" font-size="6.7" text-anchor="middle" fill="#111">S</text>
<line x1="35.20" y1="252.60" x2="38.70" y2="252.60" stroke="#444" stroke-width="0.8" stroke-dasharray="1,0.9"/>
<line x1="51.70" y1="252.60" x2="55.20" y2="252.60" stroke="#444" stroke-width="0.8" stroke-dasharray="1,0.9"/>
<rect x="23.70" y="298.60" width="10.10" height="6.40" fill="#fadcc4"/>
<text x="28.75" y="304.20" font-size="6.7" text-anchor="middle" fill="#111">G0</text>
<rect x="55.70" y="298.60" width="10.80" height="6.40" fill="#fadcc4"/>
<text x="61.10" y="304.20" font-size="6.7" text-anchor="middle" fill="#111">G1</text>
<line x1="39.70" y1="300.90" x2="48.70" y2="300.90" stroke="#444" stroke-width="0.8" stroke-dasharray="1,0.9"/>
<line x1="23.70" y1="260.80" x2="23.70" y2="280.70" stroke="#3a3a3a" stroke-width="0.9"/>
<line x1="23.70" y1="280.70" x2="66.30" y2="280.70" stroke="#3a3a3a" stroke-width="0.9"/>
<line x1="44.00" y1="280.70" x2="44.00" y2="279.20" stroke="#3a3a3a" stroke-width="0.7"/>
<line x1="65.80" y1="259.80" x2="65.80" y2="280.70" stroke="#111" stroke-width="0.8" stroke-dasharray="1.3,1"/>
<text x="25.50" y="260.70" font-size="6.7" fill="#111">Cell 1</text>
<text x="56.30" y="260.70" font-size="6.7" fill="#111">Fix</text>
<path d="M64.20,256.70 L67.40,256.70 L65.80,259.70 Z" fill="#111"/>
<line x1="23.70" y1="310.00" x2="23.70" y2="329.30" stroke="#3a3a3a" stroke-width="0.9"/>
<line x1="23.70" y1="329.30" x2="66.30" y2="329.30" stroke="#3a3a3a" stroke-width="0.9"/>
<line x1="44.00" y1="329.30" x2="44.00" y2="327.80" stroke="#3a3a3a" stroke-width="0.7"/>
<line x1="65.80" y1="309.00" x2="65.80" y2="329.30" stroke="#111" stroke-width="0.8" stroke-dasharray="1.3,1"/>
<text x="25.50" y="310.60" font-size="6.7" fill="#111">Cell 4</text>
<text x="56.30" y="310.60" font-size="6.7" fill="#111">Fix</text>
<path d="M64.20,306.60 L67.40,306.60 L65.80,309.60 Z" fill="#111"/>
<rect x="72.20" y="248.70" width="10.10" height="7.60" fill="#fadcc4"/>
<text x="77.25" y="254.80" font-size="6.7" text-anchor="middle" fill="#111">G0</text>
<rect x="88.00" y="248.70" width="11.10" height="7.60" fill="#fadcc4"/>
<text x="93.55" y="254.80" font-size="6.7" text-anchor="middle" fill="#111">G1</text>
<rect x="103.80" y="248.70" width="10.60" height="7.60" fill="#d3ddf0"/>
<text x="109.10" y="254.80" font-size="6.7" text-anchor="middle" fill="#111">S</text>
<line x1="83.30" y1="252.60" x2="86.80" y2="252.60" stroke="#444" stroke-width="0.8" stroke-dasharray="1,0.9"/>
<line x1="99.80" y1="252.60" x2="103.30" y2="252.60" stroke="#444" stroke-width="0.8" stroke-dasharray="1,0.9"/>
<rect x="71.80" y="298.60" width="10.10" height="6.40" fill="#fadcc4"/>
<text x="76.85" y="304.20" font-size="6.7" text-anchor="middle" fill="#111">G0</text>
<rect x="103.80" y="298.60" width="10.80" height="6.40" fill="#fadcc4"/>
<text x="109.20" y="304.20" font-size="6.7" text-anchor="middle" fill="#111">G1</text>
<line x1="87.80" y1="300.90" x2="96.80" y2="300.90" stroke="#444" stroke-width="0.8" stroke-dasharray="1,0.9"/>
<line x1="71.80" y1="260.80" x2="71.80" y2="280.70" stroke="#3a3a3a" stroke-width="0.9"/>
<line x1="71.80" y1="280.70" x2="114.40" y2="280.70" stroke="#3a3a3a" stroke-width="0.9"/>
<line x1="92.10" y1="280.70" x2="92.10" y2="279.20" stroke="#3a3a3a" stroke-width="0.7"/>
<line x1="113.90" y1="259.80" x2="113.90" y2="280.70" stroke="#111" stroke-width="0.8" stroke-dasharray="1.3,1"/>
<text x="73.60" y="260.70" font-size="6.7" fill="#111">Cell 2</text>
<text x="104.40" y="260.70" font-size="6.7" fill="#111">Fix</text>
<path d="M112.30,256.70 L115.50,256.70 L113.90,259.70 Z" fill="#111"/>
<line x1="71.80" y1="310.00" x2="71.80" y2="329.30" stroke="#3a3a3a" stroke-width="0.9"/>
<line x1="71.80" y1="329.30" x2="114.40" y2="329.30" stroke="#3a3a3a" stroke-width="0.9"/>
<line x1="92.10" y1="329.30" x2="92.10" y2="327.80" stroke="#3a3a3a" stroke-width="0.7"/>
<line x1="113.90" y1="309.00" x2="113.90" y2="329.30" stroke="#111" stroke-width="0.8" stroke-dasharray="1.3,1"/>
<text x="73.60" y="310.60" font-size="6.7" fill="#111">Cell 5</text>
<text x="104.40" y="310.60" font-size="6.7" fill="#111">Fix</text>
<path d="M112.30,306.60 L115.50,306.60 L113.90,309.60 Z" fill="#111"/>
<rect x="120.20" y="248.70" width="10.10" height="7.60" fill="#fadcc4"/>
<text x="125.25" y="254.80" font-size="6.7" text-anchor="middle" fill="#111">G0</text>
<rect x="136.00" y="248.70" width="11.10" height="7.60" fill="#fadcc4"/>
<text x="141.55" y="254.80" font-size="6.7" text-anchor="middle" fill="#111">G1</text>
<rect x="151.80" y="248.70" width="10.60" height="7.60" fill="#d3ddf0"/>
<text x="157.10" y="254.80" font-size="6.7" text-anchor="middle" fill="#111">S</text>
<line x1="131.30" y1="252.60" x2="134.80" y2="252.60" stroke="#444" stroke-width="0.8" stroke-dasharray="1,0.9"/>
<line x1="147.80" y1="252.60" x2="151.30" y2="252.60" stroke="#444" stroke-width="0.8" stroke-dasharray="1,0.9"/>
<rect x="119.80" y="298.60" width="10.10" height="6.40" fill="#fadcc4"/>
<text x="124.85" y="304.20" font-size="6.7" text-anchor="middle" fill="#111">G0</text>
<rect x="151.80" y="298.60" width="10.80" height="6.40" fill="#fadcc4"/>
<text x="157.20" y="304.20" font-size="6.7" text-anchor="middle" fill="#111">G1</text>
<line x1="135.80" y1="300.90" x2="144.80" y2="300.90" stroke="#444" stroke-width="0.8" stroke-dasharray="1,0.9"/>
<line x1="119.80" y1="260.80" x2="119.80" y2="280.70" stroke="#3a3a3a" stroke-width="0.9"/>
<line x1="119.80" y1="280.70" x2="162.40" y2="280.70" stroke="#3a3a3a" stroke-width="0.9"/>
<line x1="140.10" y1="280.70" x2="140.10" y2="279.20" stroke="#3a3a3a" stroke-width="0.7"/>
<line x1="161.90" y1="259.80" x2="161.90" y2="280.70" stroke="#111" stroke-width="0.8" stroke-dasharray="1.3,1"/>
<text x="121.60" y="260.70" font-size="6.7" fill="#111">Cell 3</text>
<text x="152.40" y="260.70" font-size="6.7" fill="#111">Fix</text>
<path d="M160.30,256.70 L163.50,256.70 L161.90,259.70 Z" fill="#111"/>
<line x1="119.80" y1="310.00" x2="119.80" y2="329.30" stroke="#3a3a3a" stroke-width="0.9"/>
<line x1="119.80" y1="329.30" x2="162.40" y2="329.30" stroke="#3a3a3a" stroke-width="0.9"/>
<line x1="140.10" y1="329.30" x2="140.10" y2="327.80" stroke="#3a3a3a" stroke-width="0.7"/>
<line x1="161.90" y1="309.00" x2="161.90" y2="329.30" stroke="#111" stroke-width="0.8" stroke-dasharray="1.3,1"/>
<text x="121.60" y="310.60" font-size="6.7" fill="#111">Cell 6</text>
<text x="152.40" y="310.60" font-size="6.7" fill="#111">Fix</text>
<path d="M160.30,306.60 L163.50,306.60 L161.90,309.60 Z" fill="#111"/>
<text x="22.30" y="263.80" font-size="6.7" text-anchor="end" fill="#111">300</text>
<text x="22.30" y="281.20" font-size="6.7" text-anchor="end" fill="#111">0</text>
<text x="22.30" y="312.90" font-size="6.7" text-anchor="end" fill="#111">300</text>
<text x="22.30" y="330.80" font-size="6.7" text-anchor="end" fill="#111">0</text>
<text x="23.70" y="337.70" font-size="6.7" text-anchor="middle" fill="#111">0</text>
<text x="44.00" y="337.70" font-size="6.7" text-anchor="middle" fill="#111">20</text>
<text x="64.30" y="337.70" font-size="6.7" text-anchor="middle" fill="#111">40</text>
<text x="71.80" y="337.70" font-size="6.7" text-anchor="middle" fill="#111">0</text>
<text x="92.10" y="337.70" font-size="6.7" text-anchor="middle" fill="#111">20</text>
<text x="112.40" y="337.70" font-size="6.7" text-anchor="middle" fill="#111">40</text>
<text x="119.80" y="337.70" font-size="6.7" text-anchor="middle" fill="#111">0</text>
<text x="140.10" y="337.70" font-size="6.7" text-anchor="middle" fill="#111">20</text>
<text x="160.40" y="337.70" font-size="6.7" text-anchor="middle" fill="#111">40</text>
<text x="82.40" y="346.90" font-size="6.7" text-anchor="middle" fill="#111">Time after release (h)</text>
<text transform="translate(4.80,291.00) rotate(-90)" y="2.40" font-size="6.7" text-anchor="middle" fill="#111">E2F activity (a.u.)</text>
<polyline points="23.70,277.71 24.95,278.34 26.20,278.25 27.45,278.78 28.70,278.99 30.15,278.25 31.60,278.27 33.05,279.61 34.50,278.84 35.75,278.53 37.00,279.39 38.25,278.33 39.50,278.60 40.70,278.06 41.90,278.31 43.10,277.58 44.40,277.55 45.70,277.15 47.25,277.23 48.80,278.16 50.25,277.46 51.70,275.95 52.75,275.19 53.80,273.14 54.90,270.55 56.00,268.00 57.45,267.50 58.90,265.16 60.30,264.08 61.70,262.87 63.00,262.97 64.30,263.63 65.15,263.94 66.00,265.20" fill="none" stroke="#2030f0" stroke-width="1.2" stroke-linejoin="round"/>
<polyline points="72.00,278.85 73.23,278.26 74.46,278.94 75.69,278.80 76.91,277.57 78.14,277.57 79.37,277.63 80.60,278.70 81.83,278.00 83.07,278.39 84.30,278.00 85.53,278.41 86.77,278.33 88.00,278.38 89.23,278.83 90.47,278.93 91.70,279.51 93.30,278.57 94.90,278.34 96.20,276.63 97.50,275.24 98.80,273.16 100.40,270.64 102.00,269.94 103.30,269.16 104.60,268.14 105.90,266.70 107.50,266.12 109.10,264.57 110.65,265.50 112.20,265.11 113.40,264.28 114.60,264.20" fill="none" stroke="#2030f0" stroke-width="1.2" stroke-linejoin="round"/>
<polyline points="119.80,277.35 121.07,278.53 122.33,278.73 123.60,277.38 124.87,278.45 126.13,277.87 127.40,277.48 128.67,277.69 129.93,278.40 131.20,278.56 132.42,277.45 133.64,278.44 134.87,277.72 136.09,278.86 137.31,278.41 138.53,279.37 139.76,279.65 140.98,279.07 142.20,279.95 143.40,277.51 144.60,275.77 145.93,274.85 147.27,272.30 148.60,270.85 150.17,270.23 151.73,269.60 153.30,267.98 154.63,267.98 155.97,269.39 157.30,268.72 158.85,268.49 160.40,267.19 161.60,264.82 162.80,263.40" fill="none" stroke="#2030f0" stroke-width="1.2" stroke-linejoin="round"/>
<polyline points="23.50,327.94 24.85,327.91 26.20,327.97 27.55,327.77 28.90,327.59 30.12,327.68 31.33,328.16 32.55,327.51 33.77,327.40 34.98,327.83 36.20,327.11 38.00,326.75 39.80,327.32 41.30,325.73 42.80,324.87 44.30,323.17 45.50,323.34 46.70,323.15 47.90,321.88 49.10,322.61 50.30,322.46 51.50,321.44 52.73,322.89 53.97,323.25 55.20,324.17 56.70,324.28 58.20,325.41 59.70,326.06 61.50,325.88 63.30,326.84 64.65,328.01 66.00,328.00" fill="none" stroke="#f02828" stroke-width="1.2" stroke-linejoin="round"/>
<polyline points="71.60,328.79 72.81,327.67 74.02,327.92 75.23,328.07 76.44,327.61 77.66,327.62 78.87,327.49 80.08,327.51 81.29,327.80 82.50,327.30 83.80,327.49 85.10,328.15 86.40,327.10 87.70,327.99 89.00,328.31 90.30,327.74 91.60,327.68 92.80,327.79 94.00,326.17 95.20,325.33 96.55,324.30 97.90,323.30 99.05,321.50 100.20,320.93 101.75,322.35 103.30,324.50 104.53,325.11 105.77,326.93 107.00,327.10 108.80,327.36 110.60,327.83 111.80,328.48 113.00,328.13 114.20,328.50" fill="none" stroke="#f02828" stroke-width="1.2" stroke-linejoin="round"/>
<polyline points="120.00,327.69 121.37,327.37 122.74,327.83 124.11,327.16 125.49,327.93 126.86,327.82 128.23,326.68 129.60,326.67 130.90,327.29 132.20,326.87 133.50,326.95 134.80,326.08 136.10,325.59 137.40,325.66 138.70,326.24 139.90,324.86 141.10,324.37 142.30,323.88 144.10,322.33 145.90,320.76 147.40,321.63 148.90,320.58 150.40,320.46 152.20,320.96 154.00,319.97 155.40,321.48 156.80,322.00 158.60,324.63 160.40,326.44 161.50,326.73 162.60,328.50" fill="none" stroke="#f02828" stroke-width="1.2" stroke-linejoin="round"/>
<text x="270.50" y="233.74" font-size="11" font-weight="bold" fill="#000">i</text>
<defs><linearGradient id="parula" x1="0" y1="1" x2="0" y2="0"><stop offset="0" stop-color="#352a87"/><stop offset="0.2" stop-color="#0f5cdd"/><stop offset="0.4" stop-color="#1aa0d0"/><stop offset="0.6" stop-color="#3cbc9c"/><stop offset="0.8" stop-color="#c8bd5a"/><stop offset="1" stop-color="#f9e020"/></linearGradient></defs>
<rect x="195.3" y="230.2" width="3.5" height="15.3" fill="url(#parula)" stroke="#222" stroke-width="0.5"/>
<text x="193.30" y="234.50" font-size="6.7" text-anchor="end" fill="#111">High</text>
<text x="193.30" y="246.30" font-size="6.7" text-anchor="end" fill="#111">Low</text>
<text x="201.70" y="236.40" font-size="6.7" fill="#111">E2F activity</text>
<text x="201.70" y="243.80" font-size="6.7" fill="#111">41 h after release</text>
<line x1="186.70" y1="252.10" x2="186.70" y2="329.80" stroke="#3a3a3a" stroke-width="0.9"/>
<line x1="186.70" y1="329.80" x2="258.00" y2="329.80" stroke="#3a3a3a" stroke-width="0.9"/>
<text x="184.20" y="262.90" font-size="6.7" text-anchor="end" fill="#111">4</text>
<line x1="186.70" y1="260.50" x2="188.50" y2="260.50" stroke="#3a3a3a" stroke-width="0.7"/>
<text x="184.20" y="280.60" font-size="6.7" text-anchor="end" fill="#111">3</text>
<line x1="186.70" y1="278.20" x2="188.50" y2="278.20" stroke="#3a3a3a" stroke-width="0.7"/>
<text x="184.20" y="298.90" font-size="6.7" text-anchor="end" fill="#111">2</text>
<line x1="186.70" y1="296.50" x2="188.50" y2="296.50" stroke="#3a3a3a" stroke-width="0.7"/>
<text x="184.20" y="316.60" font-size="6.7" text-anchor="end" fill="#111">1</text>
<line x1="186.70" y1="314.20" x2="188.50" y2="314.20" stroke="#3a3a3a" stroke-width="0.7"/>
<text x="206.20" y="337.10" font-size="6.7" text-anchor="middle" fill="#111">2N</text>
<line x1="206.20" y1="329.80" x2="206.20" y2="328.00" stroke="#3a3a3a" stroke-width="0.7"/>
<text x="239.40" y="337.10" font-size="6.7" text-anchor="middle" fill="#111">4N</text>
<line x1="239.40" y1="329.80" x2="239.40" y2="328.00" stroke="#3a3a3a" stroke-width="0.7"/>
<text x="221.40" y="346.70" font-size="6.7" text-anchor="middle" fill="#111">DNA content</text>
<text transform="translate(174.9,293) rotate(-90)" y="2.4" font-size="6.7" text-anchor="middle" fill="#111">log<tspan font-size="4.6" dy="1">10</tspan><tspan dy="-1">[Edu (a.u.)]</tspan></text>
<rect x="189.3" y="256.7" width="68" height="54.2" fill="none" stroke="#aaa" stroke-width="0.6" stroke-dasharray="1.6,1.4"/>
<line x1="189.30" y1="282.10" x2="257.30" y2="282.10" stroke="#aaa" stroke-width="0.6" stroke-dasharray="1.6,1.4"/>
<line x1="222.40" y1="282.10" x2="222.40" y2="310.90" stroke="#aaa" stroke-width="0.6" stroke-dasharray="1.6,1.4"/>
<rect x="216.76" y="263.84" width="1.0" height="1.0" fill="#f2e23a"/>
<rect x="225.77" y="261.12" width="1.0" height="1.0" fill="#18a8d8"/>
<rect x="204.59" y="265.74" width="1.0" height="1.0" fill="#f2e23a"/>
<rect x="221.04" y="262.23" width="1.0" height="1.0" fill="#3cbcb0"/>
<rect x="229.67" y="263.27" width="1.0" height="1.0" fill="#18a8d8"/>
<rect x="244.49" y="266.41" width="1.0" height="1.0" fill="#3cbcb0"/>
<rect x="209.13" y="265.54" width="1.0" height="1.0" fill="#40bca8"/>
<rect x="210.68" y="262.23" width="1.0" height="1.0" fill="#f2e23a"/>
<rect x="226.28" y="261.93" width="1.0" height="1.0" fill="#3cbcb0"/>
<rect x="231.92" y="260.33" width="1.0" height="1.0" fill="#c8c850"/>
<rect x="222.26" y="260.91" width="1.0" height="1.0" fill="#a8c45c"/>
<rect x="213.37" y="261.71" width="1.0" height="1.0" fill="#40bca8"/>
<rect x="234.00" y="260.67" width="1.0" height="1.0" fill="#3cbcb0"/>
<rect x="220.77" y="261.95" width="1.0" height="1.0" fill="#18a8d8"/>
<rect x="204.67" y="264.97" width="1.0" height="1.0" fill="#d8cc48"/>
<rect x="240.21" y="261.66" width="1.0" height="1.0" fill="#c8c850"/>
<rect x="227.65" y="258.64" width="1.0" height="1.0" fill="#80c070"/>
<rect x="223.15" y="261.37" width="1.0" height="1.0" fill="#1a70e0"/>
<rect x="230.50" y="264.22" width="1.0" height="1.0" fill="#3cbcb0"/>
<rect x="219.40" y="261.95" width="1.0" height="1.0" fill="#d8cc48"/>
<rect x="210.14" y="264.65" width="1.0" height="1.0" fill="#a8c45c"/>
<rect x="208.50" y="264.82" width="1.0" height="1.0" fill="#40bca8"/>
<rect x="206.42" y="263.74" width="1.0" height="1.0" fill="#40bca8"/>
<rect x="237.82" y="262.93" width="1.0" height="1.0" fill="#18a8d8"/>
<rect x="218.25" y="265.11" width="1.0" height="1.0" fill="#3cbcb0"/>
<rect x="210.49" y="264.28" width="1.0" height="1.0" fill="#d8cc48"/>
<rect x="228.04" y="261.39" width="1.0" height="1.0" fill="#18a8d8"/>
<rect x="218.69" y="258.82" width="1.0" height="1.0" fill="#c8c850"/>
<rect x="224.91" y="259.84" width="1.0" height="1.0" fill="#3cbcb0"/>
<rect x="241.23" y="263.35" width="1.0" height="1.0" fill="#1a70e0"/>
<rect x="219.68" y="261.50" width="1.0" height="1.0" fill="#d8cc48"/>
<rect x="205.65" y="266.78" width="1.0" height="1.0" fill="#f2e23a"/>
<rect x="217.45" y="262.47" width="1.0" height="1.0" fill="#f2e23a"/>
<rect x="207.31" y="264.99" width="1.0" height="1.0" fill="#40bca8"/>
<rect x="229.10" y="262.08" width="1.0" height="1.0" fill="#18a8d8"/>
<rect x="218.48" y="264.34" width="1.0" height="1.0" fill="#1890d8"/>
<rect x="222.80" y="261.04" width="1.0" height="1.0" fill="#3cbcb0"/>
<rect x="217.56" y="262.16" width="1.0" height="1.0" fill="#f2e23a"/>
<rect x="203.98" y="268.26" width="1.0" height="1.0" fill="#f2e23a"/>
<rect x="226.08" y="263.26" width="1.0" height="1.0" fill="#80c070"/>
<rect x="239.69" y="262.08" width="1.0" height="1.0" fill="#18a8d8"/>
<rect x="210.10" y="264.53" width="1.0" height="1.0" fill="#a8c45c"/>
<rect x="217.01" y="262.98" width="1.0" height="1.0" fill="#1890d8"/>
<rect x="239.24" y="263.34" width="1.0" height="1.0" fill="#1a70e0"/>
<rect x="212.64" y="262.14" width="1.0" height="1.0" fill="#f2e23a"/>
<rect x="204.19" y="266.21" width="1.0" height="1.0" fill="#a8c45c"/>
<rect x="243.65" y="260.02" width="1.0" height="1.0" fill="#80c070"/>
<rect x="243.59" y="262.64" width="1.0" height="1.0" fill="#3cbcb0"/>
<rect x="211.36" y="264.49" width="1.0" height="1.0" fill="#40bca8"/>
<rect x="238.72" y="260.12" width="1.0" height="1.0" fill="#1a70e0"/>
<rect x="206.60" y="263.72" width="1.0" height="1.0" fill="#a8c45c"/>
<rect x="234.88" y="260.81" width="1.0" height="1.0" fill="#1a70e0"/>
<rect x="217.13" y="263.76" width="1.0" height="1.0" fill="#18a8d8"/>
<rect x="220.06" y="264.28" width="1.0" height="1.0" fill="#f2e23a"/>
<rect x="208.40" y="266.73" width="1.0" height="1.0" fill="#40bca8"/>
<rect x="209.21" y="266.51" width="1.0" height="1.0" fill="#a8c45c"/>
<rect x="217.89" y="261.60" width="1.0" height="1.0" fill="#f2e23a"/>
<rect x="244.26" y="262.43" width="1.0" height="1.0" fill="#80c070"/>
<rect x="221.44" y="263.77" width="1.0" height="1.0" fill="#3cbcb0"/>
<rect x="213.70" y="262.96" width="1.0" height="1.0" fill="#d8cc48"/>
<rect x="214.02" y="262.49" width="1.0" height="1.0" fill="#40bca8"/>
<rect x="218.04" y="260.41" width="1.0" height="1.0" fill="#40bca8"/>
<rect x="220.88" y="263.43" width="1.0" height="1.0" fill="#18a8d8"/>
<rect x="225.25" y="263.09" width="1.0" height="1.0" fill="#3cbcb0"/>
<rect x="203.17" y="267.14" width="1.0" height="1.0" fill="#d8cc48"/>
<rect x="233.82" y="260.39" width="1.0" height="1.0" fill="#18a8d8"/>
<rect x="226.61" y="261.58" width="1.0" height="1.0" fill="#c8c850"/>
<rect x="213.56" y="262.86" width="1.0" height="1.0" fill="#d8cc48"/>
<rect x="226.87" y="261.63" width="1.0" height="1.0" fill="#18a8d8"/>
<rect x="229.03" y="259.61" width="1.0" height="1.0" fill="#c8c850"/>
<rect x="222.22" y="260.06" width="1.0" height="1.0" fill="#80c070"/>
<rect x="232.72" y="264.11" width="1.0" height="1.0" fill="#3cbcb0"/>
<rect x="226.78" y="264.12" width="1.0" height="1.0" fill="#3cbcb0"/>
<rect x="208.17" y="264.37" width="1.0" height="1.0" fill="#f2e23a"/>
<rect x="206.11" y="264.39" width="1.0" height="1.0" fill="#40bca8"/>
<rect x="209.56" y="263.98" width="1.0" height="1.0" fill="#f2e23a"/>
<rect x="240.52" y="263.66" width="1.0" height="1.0" fill="#80c070"/>
<rect x="219.93" y="257.49" width="1.0" height="1.0" fill="#40bca8"/>
<rect x="209.86" y="262.71" width="1.0" height="1.0" fill="#f2e23a"/>
<rect x="211.32" y="262.91" width="1.0" height="1.0" fill="#f2e23a"/>
<rect x="226.55" y="261.17" width="1.0" height="1.0" fill="#18a8d8"/>
<rect x="229.52" y="260.86" width="1.0" height="1.0" fill="#80c070"/>
<rect x="236.51" y="262.64" width="1.0" height="1.0" fill="#3cbcb0"/>
<rect x="204.68" y="266.44" width="1.0" height="1.0" fill="#f2e23a"/>
<rect x="220.95" y="264.24" width="1.0" height="1.0" fill="#3cbcb0"/>
<rect x="209.35" y="266.22" width="1.0" height="1.0" fill="#a8c45c"/>
<rect x="206.80" y="267.54" width="1.0" height="1.0" fill="#f2e23a"/>
<rect x="206.08" y="267.64" width="1.0" height="1.0" fill="#40bca8"/>
<rect x="206.56" y="265.84" width="1.0" height="1.0" fill="#40bca8"/>
<rect x="222.29" y="260.72" width="1.0" height="1.0" fill="#1890d8"/>
<rect x="214.38" y="264.36" width="1.0" height="1.0" fill="#f2e23a"/>
<rect x="207.65" y="265.35" width="1.0" height="1.0" fill="#f2e23a"/>
<rect x="216.26" y="261.82" width="1.0" height="1.0" fill="#f2e23a"/>
<rect x="224.25" y="262.16" width="1.0" height="1.0" fill="#f2e23a"/>
<rect x="213.64" y="265.70" width="1.0" height="1.0" fill="#d8cc48"/>
<rect x="211.05" y="260.53" width="1.0" height="1.0" fill="#f2e23a"/>
<rect x="237.80" y="260.54" width="1.0" height="1.0" fill="#1a70e0"/>
<rect x="219.71" y="259.77" width="1.0" height="1.0" fill="#1890d8"/>
<rect x="217.56" y="263.58" width="1.0" height="1.0" fill="#c8c850"/>
<rect x="220.20" y="261.70" width="1.0" height="1.0" fill="#f2e23a"/>
<rect x="206.01" y="265.63" width="1.0" height="1.0" fill="#f2e23a"/>
<rect x="206.59" y="267.13" width="1.0" height="1.0" fill="#a8c45c"/>
<rect x="214.98" y="263.01" width="1.0" height="1.0" fill="#d8cc48"/>
<rect x="209.70" y="263.30" width="1.0" height="1.0" fill="#1890d8"/>
<rect x="244.34" y="262.46" width="1.0" height="1.0" fill="#80c070"/>
<rect x="216.16" y="262.65" width="1.0" height="1.0" fill="#f2e23a"/>
<rect x="223.17" y="260.64" width="1.0" height="1.0" fill="#18a8d8"/>
<rect x="203.21" y="266.78" width="1.0" height="1.0" fill="#f2e23a"/>
<rect x="204.77" y="267.45" width="1.0" height="1.0" fill="#f2e23a"/>
<rect x="227.89" y="258.95" width="1.0" height="1.0" fill="#c8c850"/>
<rect x="233.43" y="262.69" width="1.0" height="1.0" fill="#18a8d8"/>
<rect x="244.85" y="265.09" width="1.0" height="1.0" fill="#c8c850"/>
<rect x="204.86" y="267.77" width="1.0" height="1.0" fill="#d8cc48"/>
<rect x="234.19" y="261.99" width="1.0" height="1.0" fill="#18a8d8"/>
<rect x="224.44" y="262.92" width="1.0" height="1.0" fill="#1a70e0"/>
<rect x="227.82" y="263.18" width="1.0" height="1.0" fill="#c8c850"/>
<rect x="212.77" y="264.29" width="1.0" height="1.0" fill="#f2e23a"/>
<rect x="207.46" y="266.15" width="1.0" height="1.0" fill="#d8cc48"/>
<rect x="229.61" y="260.68" width="1.0" height="1.0" fill="#3cbcb0"/>
<rect x="236.90" y="261.98" width="1.0" height="1.0" fill="#18a8d8"/>
<rect x="231.02" y="263.70" width="1.0" height="1.0" fill="#3cbcb0"/>
<rect x="206.16" y="265.40" width="1.0" height="1.0" fill="#f2e23a"/>
<rect x="234.44" y="263.43" width="1.0" height="1.0" fill="#18a8d8"/>
<rect x="223.36" y="260.59" width="1.0" height="1.0" fill="#c8c850"/>
<rect x="230.32" y="262.18" width="1.0" height="1.0" fill="#3cbcb0"/>
<rect x="234.59" y="261.06" width="1.0" height="1.0" fill="#3cbcb0"/>
<rect x="205.58" y="265.60" width="1.0" height="1.0" fill="#a8c45c"/>
<rect x="231.72" y="261.03" width="1.0" height="1.0" fill="#18a8d8"/>
<rect x="222.82" y="264.01" width="1.0" height="1.0" fill="#f2e23a"/>
<rect x="244.57" y="263.85" width="1.0" height="1.0" fill="#18a8d8"/>
<rect x="237.85" y="263.75" width="1.0" height="1.0" fill="#3cbcb0"/>
<rect x="211.92" y="264.71" width="1.0" height="1.0" fill="#d8cc48"/>
<rect x="209.02" y="260.96" width="1.0" height="1.0" fill="#f2e23a"/>
<rect x="237.86" y="259.02" width="1.0" height="1.0" fill="#1a70e0"/>
<rect x="212.83" y="264.87" width="1.0" height="1.0" fill="#f2e23a"/>
<rect x="203.15" y="265.22" width="1.0" height="1.0" fill="#f2e23a"/>
<rect x="208.98" y="263.91" width="1.0" height="1.0" fill="#40bca8"/>
<rect x="203.07" y="266.91" width="1.0" height="1.0" fill="#f2e23a"/>
<rect x="242.37" y="262.29" width="1.0" height="1.0" fill="#3cbcb0"/>
<rect x="218.82" y="257.90" width="1.0" height="1.0" fill="#d8cc48"/>
<rect x="218.33" y="261.20" width="1.0" height="1.0" fill="#f2e23a"/>
<rect x="207.32" y="265.84" width="1.0" height="1.0" fill="#1890d8"/>
<rect x="213.60" y="263.11" width="1.0" height="1.0" fill="#f2e23a"/>
<rect x="218.87" y="265.19" width="1.0" height="1.0" fill="#40bca8"/>
<rect x="229.81" y="264.47" width="1.0" height="1.0" fill="#18a8d8"/>
<rect x="233.58" y="263.94" width="1.0" height="1.0" fill="#18a8d8"/>
<rect x="234.99" y="261.00" width="1.0" height="1.0" fill="#3cbcb0"/>
<rect x="242.39" y="264.22" width="1.0" height="1.0" fill="#18a8d8"/>
<rect x="215.66" y="262.52" width="1.0" height="1.0" fill="#3cbcb0"/>
<rect x="230.88" y="260.85" width="1.0" height="1.0" fill="#18a8d8"/>
<rect x="210.11" y="264.81" width="1.0" height="1.0" fill="#40bca8"/>
<rect x="224.13" y="262.17" width="1.0" height="1.0" fill="#1890d8"/>
<rect x="222.12" y="262.37" width="1.0" height="1.0" fill="#f2e23a"/>
<rect x="217.53" y="263.35" width="1.0" height="1.0" fill="#f2e23a"/>
<rect x="227.21" y="263.31" width="1.0" height="1.0" fill="#18a8d8"/>
<rect x="220.59" y="260.49" width="1.0" height="1.0" fill="#f2e23a"/>
<rect x="205.64" y="265.17" width="1.0" height="1.0" fill="#f2e23a"/>
<rect x="224.39" y="259.49" width="1.0" height="1.0" fill="#3cbcb0"/>
<rect x="214.52" y="263.08" width="1.0" height="1.0" fill="#f2e23a"/>
<rect x="243.54" y="265.09" width="1.0" height="1.0" fill="#3cbcb0"/>
<rect x="204.37" y="265.55" width="1.0" height="1.0" fill="#d8cc48"/>
<rect x="227.96" y="262.90" width="1.0" height="1.0" fill="#80c070"/>
<rect x="238.09" y="264.65" width="1.0" height="1.0" fill="#3cbcb0"/>
<rect x="207.63" y="266.13" width="1.0" height="1.0" fill="#a8c45c"/>
<rect x="243.01" y="262.81" width="1.0" height="1.0" fill="#1a70e0"/>
<rect x="222.44" y="261.31" width="1.0" height="1.0" fill="#1a70e0"/>
<rect x="212.88" y="265.37" width="1.0" height="1.0" fill="#f2e23a"/>
<rect x="208.44" y="264.80" width="1.0" height="1.0" fill="#a8c45c"/>
<rect x="207.77" y="266.71" width="1.0" height="1.0" fill="#d8cc48"/>
<rect x="219.49" y="262.43" width="1.0" height="1.0" fill="#f2e23a"/>
<rect x="215.81" y="259.09" width="1.0" height="1.0" fill="#d8cc48"/>
<rect x="240.56" y="261.55" width="1.0" height="1.0" fill="#3cbcb0"/>
<rect x="243.83" y="263.04" width="1.0" height="1.0" fill="#3cbcb0"/>
<rect x="224.18" y="260.84" width="1.0" height="1.0" fill="#3cbcb0"/>
<rect x="231.36" y="262.43" width="1.0" height="1.0" fill="#3cbcb0"/>
<rect x="217.37" y="260.46" width="1.0" height="1.0" fill="#f2e23a"/>
<rect x="236.88" y="261.87" width="1.0" height="1.0" fill="#3cbcb0"/>
<rect x="244.22" y="262.45" width="1.0" height="1.0" fill="#3cbcb0"/>
<rect x="212.41" y="263.68" width="1.0" height="1.0" fill="#1890d8"/>
<rect x="224.07" y="261.98" width="1.0" height="1.0" fill="#f2e23a"/>
<rect x="231.28" y="262.27" width="1.0" height="1.0" fill="#18a8d8"/>
<rect x="212.05" y="264.52" width="1.0" height="1.0" fill="#f2e23a"/>
<rect x="205.56" y="263.36" width="1.0" height="1.0" fill="#40bca8"/>
<rect x="234.14" y="265.14" width="1.0" height="1.0" fill="#18a8d8"/>
<rect x="210.88" y="266.32" width="1.0" height="1.0" fill="#f2e23a"/>
<rect x="231.24" y="260.41" width="1.0" height="1.0" fill="#18a8d8"/>
<rect x="210.19" y="265.46" width="1.0" height="1.0" fill="#f2e23a"/>
<rect x="243.61" y="266.10" width="1.0" height="1.0" fill="#3cbcb0"/>
<rect x="218.16" y="263.52" width="1.0" height="1.0" fill="#18a8d8"/>
<rect x="205.09" y="264.63" width="1.0" height="1.0" fill="#40bca8"/>
<rect x="211.20" y="261.84" width="1.0" height="1.0" fill="#f2e23a"/>
<rect x="220.46" y="262.92" width="1.0" height="1.0" fill="#3cbcb0"/>
<rect x="204.48" y="269.42" width="1.0" height="1.0" fill="#f2e23a"/>
<rect x="234.76" y="262.83" width="1.0" height="1.0" fill="#3cbcb0"/>
<rect x="243.70" y="262.50" width="1.0" height="1.0" fill="#1a70e0"/>
<rect x="216.45" y="262.61" width="1.0" height="1.0" fill="#a8c45c"/>
<rect x="241.95" y="260.54" width="1.0" height="1.0" fill="#3cbcb0"/>
<rect x="212.94" y="259.74" width="1.0" height="1.0" fill="#1890d8"/>
<rect x="219.43" y="262.09" width="1.0" height="1.0" fill="#d8cc48"/>
<rect x="242.44" y="264.16" width="1.0" height="1.0" fill="#1a70e0"/>
<rect x="237.97" y="262.45" width="1.0" height="1.0" fill="#18a8d8"/>
<rect x="216.58" y="260.91" width="1.0" height="1.0" fill="#f2e23a"/>
<rect x="211.39" y="263.91" width="1.0" height="1.0" fill="#f2e23a"/>
<rect x="204.44" y="265.06" width="1.0" height="1.0" fill="#1890d8"/>
<rect x="240.55" y="263.81" width="1.0" height="1.0" fill="#3cbcb0"/>
<rect x="207.10" y="262.93" width="1.0" height="1.0" fill="#f2e23a"/>
<rect x="212.95" y="261.65" width="1.0" height="1.0" fill="#a8c45c"/>
<rect x="234.79" y="263.00" width="1.0" height="1.0" fill="#3cbcb0"/>
<rect x="238.74" y="261.76" width="1.0" height="1.0" fill="#18a8d8"/>
<rect x="234.37" y="262.05" width="1.0" height="1.0" fill="#3cbcb0"/>
<rect x="209.52" y="265.94" width="1.0" height="1.0" fill="#f2e23a"/>
<rect x="219.83" y="263.82" width="1.0" height="1.0" fill="#f2e23a"/>
<rect x="237.36" y="259.44" width="1.0" height="1.0" fill="#3cbcb0"/>
<rect x="223.18" y="262.85" width="1.0" height="1.0" fill="#80c070"/>
<rect x="204.72" y="266.00" width="1.0" height="1.0" fill="#f2e23a"/>
<rect x="244.35" y="260.54" width="1.0" height="1.0" fill="#18a8d8"/>
<rect x="239.81" y="261.38" width="1.0" height="1.0" fill="#1a70e0"/>
<rect x="243.19" y="264.82" width="1.0" height="1.0" fill="#c8c850"/>
<rect x="212.25" y="263.08" width="1.0" height="1.0" fill="#f2e23a"/>
<rect x="213.83" y="261.46" width="1.0" height="1.0" fill="#f2e23a"/>
<rect x="203.48" y="265.67" width="1.0" height="1.0" fill="#f2e23a"/>
<rect x="216.27" y="263.44" width="1.0" height="1.0" fill="#d8cc48"/>
<rect x="205.69" y="267.03" width="1.0" height="1.0" fill="#d8cc48"/>
<rect x="230.17" y="262.18" width="1.0" height="1.0" fill="#c8c850"/>
<rect x="220.42" y="261.69" width="1.0" height="1.0" fill="#1890d8"/>
<rect x="216.28" y="261.38" width="1.0" height="1.0" fill="#f2e23a"/>
<rect x="239.73" y="263.90" width="1.0" height="1.0" fill="#3cbcb0"/>
<rect x="233.94" y="261.70" width="1.0" height="1.0" fill="#80c070"/>
<rect x="221.01" y="262.53" width="1.0" height="1.0" fill="#80c070"/>
<rect x="222.59" y="261.83" width="1.0" height="1.0" fill="#d8cc48"/>
<rect x="230.23" y="261.97" width="1.0" height="1.0" fill="#c8c850"/>
<rect x="218.76" y="261.36" width="1.0" height="1.0" fill="#f2e23a"/>
<rect x="225.15" y="262.14" width="1.0" height="1.0" fill="#18a8d8"/>
<rect x="237.20" y="263.02" width="1.0" height="1.0" fill="#3cbcb0"/>
<rect x="243.08" y="264.91" width="1.0" height="1.0" fill="#3cbcb0"/>
<rect x="242.36" y="260.56" width="1.0" height="1.0" fill="#c8c850"/>
<rect x="238.04" y="263.58" width="1.0" height="1.0" fill="#3cbcb0"/>
<rect x="220.19" y="263.59" width="1.0" height="1.0" fill="#3cbcb0"/>
<rect x="212.27" y="262.17" width="1.0" height="1.0" fill="#f2e23a"/>
<rect x="208.23" y="264.94" width="1.0" height="1.0" fill="#40bca8"/>
<rect x="204.75" y="263.86" width="1.0" height="1.0" fill="#f2e23a"/>
<rect x="238.62" y="263.77" width="1.0" height="1.0" fill="#c8c850"/>
<rect x="229.65" y="260.87" width="1.0" height="1.0" fill="#c8c850"/>
<rect x="221.09" y="260.98" width="1.0" height="1.0" fill="#18a8d8"/>
<rect x="203.99" y="265.23" width="1.0" height="1.0" fill="#f2e23a"/>
<rect x="235.45" y="262.12" width="1.0" height="1.0" fill="#3cbcb0"/>
<rect x="223.11" y="262.26" width="1.0" height="1.0" fill="#f2e23a"/>
<rect x="206.90" y="263.69" width="1.0" height="1.0" fill="#f2e23a"/>
<rect x="230.05" y="263.54" width="1.0" height="1.0" fill="#1a70e0"/>
<rect x="224.74" y="263.19" width="1.0" height="1.0" fill="#18a8d8"/>
<rect x="243.41" y="265.23" width="1.0" height="1.0" fill="#80c070"/>
<rect x="234.11" y="262.06" width="1.0" height="1.0" fill="#80c070"/>
<rect x="223.90" y="264.80" width="1.0" height="1.0" fill="#3cbcb0"/>
<rect x="236.51" y="262.45" width="1.0" height="1.0" fill="#18a8d8"/>
<rect x="235.14" y="263.51" width="1.0" height="1.0" fill="#3cbcb0"/>
<rect x="237.66" y="263.21" width="1.0" height="1.0" fill="#80c070"/>
<rect x="211.85" y="263.61" width="1.0" height="1.0" fill="#f2e23a"/>
<rect x="204.57" y="266.64" width="1.0" height="1.0" fill="#1890d8"/>
<rect x="231.89" y="262.22" width="1.0" height="1.0" fill="#1a70e0"/>
<rect x="207.89" y="262.92" width="1.0" height="1.0" fill="#f2e23a"/>
<rect x="240.10" y="260.69" width="1.0" height="1.0" fill="#80c070"/>
<rect x="207.45" y="267.28" width="1.0" height="1.0" fill="#f2e23a"/>
<rect x="236.90" y="261.58" width="1.0" height="1.0" fill="#c8c850"/>
<rect x="218.31" y="262.43" width="1.0" height="1.0" fill="#3cbcb0"/>
<rect x="234.60" y="264.37" width="1.0" height="1.0" fill="#3cbcb0"/>
<rect x="230.17" y="263.41" width="1.0" height="1.0" fill="#c8c850"/>
<rect x="216.29" y="263.06" width="1.0" height="1.0" fill="#f2e23a"/>
<rect x="229.18" y="259.77" width="1.0" height="1.0" fill="#80c070"/>
<rect x="208.61" y="265.07" width="1.0" height="1.0" fill="#f2e23a"/>
<rect x="203.11" y="266.44" width="1.0" height="1.0" fill="#f2e23a"/>
<rect x="212.53" y="261.84" width="1.0" height="1.0" fill="#f2e23a"/>
<rect x="229.52" y="260.61" width="1.0" height="1.0" fill="#80c070"/>
<rect x="213.35" y="263.75" width="1.0" height="1.0" fill="#d8cc48"/>
<rect x="240.03" y="262.84" width="1.0" height="1.0" fill="#3cbcb0"/>
<rect x="203.49" y="265.53" width="1.0" height="1.0" fill="#f2e23a"/>
<rect x="230.44" y="258.12" width="1.0" height="1.0" fill="#1a70e0"/>
<rect x="213.56" y="263.67" width="1.0" height="1.0" fill="#d8cc48"/>
<rect x="220.25" y="262.02" width="1.0" height="1.0" fill="#a8c45c"/>
<rect x="203.52" y="263.32" width="1.0" height="1.0" fill="#f2e23a"/>
<rect x="211.48" y="262.47" width="1.0" height="1.0" fill="#d8cc48"/>
<rect x="237.57" y="262.69" width="1.0" height="1.0" fill="#18a8d8"/>
<rect x="205.06" y="268.08" width="1.0" height="1.0" fill="#a8c45c"/>
<rect x="203.27" y="268.20" width="1.0" height="1.0" fill="#d8cc48"/>
<rect x="234.52" y="260.68" width="1.0" height="1.0" fill="#3cbcb0"/>
<rect x="212.87" y="264.79" width="1.0" height="1.0" fill="#a8c45c"/>
<rect x="232.54" y="262.87" width="1.0" height="1.0" fill="#3cbcb0"/>
<rect x="226.54" y="259.00" width="1.0" height="1.0" fill="#18a8d8"/>
<rect x="214.28" y="260.68" width="1.0" height="1.0" fill="#f2e23a"/>
<rect x="240.40" y="263.76" width="1.0" height="1.0" fill="#3cbcb0"/>
<rect x="234.61" y="264.05" width="1.0" height="1.0" fill="#18a8d8"/>
<rect x="240.41" y="262.08" width="1.0" height="1.0" fill="#80c070"/>
<rect x="229.80" y="260.63" width="1.0" height="1.0" fill="#80c070"/>
<rect x="222.95" y="262.90" width="1.0" height="1.0" fill="#80c070"/>
<rect x="221.58" y="261.50" width="1.0" height="1.0" fill="#18a8d8"/>
<rect x="212.01" y="263.28" width="1.0" height="1.0" fill="#40bca8"/>
<rect x="209.15" y="265.29" width="1.0" height="1.0" fill="#1890d8"/>
<rect x="217.66" y="262.63" width="1.0" height="1.0" fill="#f2e23a"/>
<rect x="232.44" y="259.99" width="1.0" height="1.0" fill="#1a70e0"/>
<rect x="205.80" y="264.58" width="1.0" height="1.0" fill="#40bca8"/>
<rect x="237.83" y="262.57" width="1.0" height="1.0" fill="#80c070"/>
<rect x="241.86" y="263.59" width="1.0" height="1.0" fill="#3cbcb0"/>
<rect x="207.76" y="267.90" width="1.0" height="1.0" fill="#40bca8"/>
<rect x="229.95" y="262.38" width="1.0" height="1.0" fill="#3cbcb0"/>
<rect x="207.24" y="267.30" width="1.0" height="1.0" fill="#f2e23a"/>
<rect x="216.56" y="262.34" width="1.0" height="1.0" fill="#f2e23a"/>
<rect x="215.01" y="262.64" width="1.0" height="1.0" fill="#f2e23a"/>
<rect x="243.97" y="260.51" width="1.0" height="1.0" fill="#c8c850"/>
<rect x="204.32" y="265.00" width="1.0" height="1.0" fill="#a8c45c"/>
<rect x="217.74" y="261.86" width="1.0" height="1.0" fill="#3cbcb0"/>
<rect x="239.65" y="264.79" width="1.0" height="1.0" fill="#3cbcb0"/>
<rect x="203.06" y="267.66" width="1.0" height="1.0" fill="#1890d8"/>
<rect x="203.19" y="265.11" width="1.0" height="1.0" fill="#a8c45c"/>
<rect x="210.84" y="262.67" width="1.0" height="1.0" fill="#40bca8"/>
<rect x="214.07" y="264.32" width="1.0" height="1.0" fill="#f2e23a"/>
<rect x="232.73" y="260.83" width="1.0" height="1.0" fill="#c8c850"/>
<rect x="206.44" y="266.08" width="1.0" height="1.0" fill="#a8c45c"/>
<rect x="229.69" y="260.48" width="1.0" height="1.0" fill="#18a8d8"/>
<rect x="240.84" y="265.39" width="1.0" height="1.0" fill="#3cbcb0"/>
<rect x="211.76" y="263.51" width="1.0" height="1.0" fill="#d8cc48"/>
<rect x="219.12" y="262.96" width="1.0" height="1.0" fill="#d8cc48"/>
<rect x="225.59" y="261.54" width="1.0" height="1.0" fill="#c8c850"/>
<rect x="217.81" y="261.97" width="1.0" height="1.0" fill="#40bca8"/>
<rect x="231.14" y="261.41" width="1.0" height="1.0" fill="#18a8d8"/>
<rect x="235.87" y="261.18" width="1.0" height="1.0" fill="#18a8d8"/>
<rect x="240.62" y="262.72" width="1.0" height="1.0" fill="#18a8d8"/>
<rect x="232.88" y="262.05" width="1.0" height="1.0" fill="#3cbcb0"/>
<rect x="213.52" y="262.46" width="1.0" height="1.0" fill="#f2e23a"/>
<rect x="216.94" y="264.05" width="1.0" height="1.0" fill="#a8c45c"/>
<rect x="207.33" y="265.89" width="1.0" height="1.0" fill="#f2e23a"/>
<rect x="244.81" y="264.34" width="1.0" height="1.0" fill="#18a8d8"/>
<rect x="211.34" y="263.44" width="1.0" height="1.0" fill="#f2e23a"/>
<rect x="219.50" y="263.57" width="1.0" height="1.0" fill="#a8c45c"/>
<rect x="232.47" y="259.41" width="1.0" height="1.0" fill="#18a8d8"/>
<rect x="209.03" y="263.41" width="1.0" height="1.0" fill="#a8c45c"/>
<rect x="241.59" y="261.08" width="1.0" height="1.0" fill="#1a70e0"/>
<rect x="220.90" y="262.21" width="1.0" height="1.0" fill="#40bca8"/>
<rect x="235.90" y="260.96" width="1.0" height="1.0" fill="#c8c850"/>
<rect x="230.27" y="260.18" width="1.0" height="1.0" fill="#c8c850"/>
<rect x="207.16" y="262.98" width="1.0" height="1.0" fill="#a8c45c"/>
<rect x="229.76" y="261.41" width="1.0" height="1.0" fill="#18a8d8"/>
<rect x="229.42" y="259.51" width="1.0" height="1.0" fill="#80c070"/>
<rect x="210.78" y="262.60" width="1.0" height="1.0" fill="#f2e23a"/>
<rect x="223.82" y="262.00" width="1.0" height="1.0" fill="#18a8d8"/>
<rect x="209.84" y="265.07" width="1.0" height="1.0" fill="#d8cc48"/>
<rect x="207.30" y="263.55" width="1.0" height="1.0" fill="#a8c45c"/>
<rect x="224.77" y="259.71" width="1.0" height="1.0" fill="#18a8d8"/>
<rect x="220.44" y="262.93" width="1.0" height="1.0" fill="#a8c45c"/>
<rect x="219.68" y="262.12" width="1.0" height="1.0" fill="#1890d8"/>
<rect x="218.11" y="263.44" width="1.0" height="1.0" fill="#f2e23a"/>
<rect x="203.57" y="265.32" width="1.0" height="1.0" fill="#a8c45c"/>
<rect x="217.97" y="262.24" width="1.0" height="1.0" fill="#a8c45c"/>
<rect x="242.95" y="262.13" width="1.0" height="1.0" fill="#1a70e0"/>
<rect x="219.66" y="262.25" width="1.0" height="1.0" fill="#a8c45c"/>
<rect x="237.41" y="260.95" width="1.0" height="1.0" fill="#c8c850"/>
<rect x="212.60" y="264.91" width="1.0" height="1.0" fill="#d8cc48"/>
<rect x="237.80" y="262.82" width="1.0" height="1.0" fill="#3cbcb0"/>
<rect x="226.30" y="263.45" width="1.0" height="1.0" fill="#f2e23a"/>
<rect x="239.15" y="262.21" width="1.0" height="1.0" fill="#3cbcb0"/>
<rect x="221.11" y="261.91" width="1.0" height="1.0" fill="#a8c45c"/>
<rect x="214.95" y="263.00" width="1.0" height="1.0" fill="#d8cc48"/>
<rect x="221.21" y="260.42" width="1.0" height="1.0" fill="#18a8d8"/>
<rect x="242.47" y="263.37" width="1.0" height="1.0" fill="#1a70e0"/>
<rect x="241.50" y="263.01" width="1.0" height="1.0" fill="#1a70e0"/>
<rect x="229.91" y="261.64" width="1.0" height="1.0" fill="#80c070"/>
<rect x="230.88" y="261.45" width="1.0" height="1.0" fill="#3cbcb0"/>
<rect x="212.93" y="263.69" width="1.0" height="1.0" fill="#f2e23a"/>
<rect x="241.42" y="263.06" width="1.0" height="1.0" fill="#80c070"/>
<rect x="228.86" y="261.84" width="1.0" height="1.0" fill="#80c070"/>
<rect x="236.49" y="262.47" width="1.0" height="1.0" fill="#c8c850"/>
<rect x="225.56" y="261.39" width="1.0" height="1.0" fill="#80c070"/>
<rect x="226.59" y="261.33" width="1.0" height="1.0" fill="#3cbcb0"/>
<rect x="223.96" y="263.15" width="1.0" height="1.0" fill="#f2e23a"/>
<rect x="223.88" y="259.71" width="1.0" height="1.0" fill="#80c070"/>
<rect x="203.28" y="267.72" width="1.0" height="1.0" fill="#d8cc48"/>
<rect x="231.28" y="262.25" width="1.0" height="1.0" fill="#18a8d8"/>
<rect x="243.83" y="265.30" width="1.0" height="1.0" fill="#c8c850"/>
<rect x="204.21" y="264.66" width="1.0" height="1.0" fill="#1890d8"/>
<rect x="217.04" y="264.30" width="1.0" height="1.0" fill="#d8cc48"/>
<rect x="241.15" y="265.09" width="1.0" height="1.0" fill="#c8c850"/>
<rect x="217.39" y="263.37" width="1.0" height="1.0" fill="#d8cc48"/>
<rect x="225.34" y="261.62" width="1.0" height="1.0" fill="#18a8d8"/>
<rect x="220.95" y="259.24" width="1.0" height="1.0" fill="#3cbcb0"/>
<rect x="238.18" y="260.74" width="1.0" height="1.0" fill="#3cbcb0"/>
<rect x="224.52" y="263.69" width="1.0" height="1.0" fill="#1a70e0"/>
<rect x="217.06" y="261.99" width="1.0" height="1.0" fill="#d8cc48"/>
<rect x="229.98" y="261.51" width="1.0" height="1.0" fill="#1a70e0"/>
<rect x="240.64" y="262.19" width="1.0" height="1.0" fill="#18a8d8"/>
<rect x="203.26" y="268.06" width="1.0" height="1.0" fill="#d8cc48"/>
<rect x="230.97" y="262.25" width="1.0" height="1.0" fill="#c8c850"/>
<rect x="229.21" y="259.79" width="1.0" height="1.0" fill="#c8c850"/>
<rect x="231.94" y="262.02" width="1.0" height="1.0" fill="#18a8d8"/>
<rect x="235.41" y="262.57" width="1.0" height="1.0" fill="#3cbcb0"/>
<rect x="235.92" y="263.75" width="1.0" height="1.0" fill="#18a8d8"/>
<rect x="237.96" y="262.60" width="1.0" height="1.0" fill="#3cbcb0"/>
<rect x="215.84" y="261.60" width="1.0" height="1.0" fill="#f2e23a"/>
<rect x="230.28" y="261.89" width="1.0" height="1.0" fill="#c8c850"/>
<rect x="204.67" y="268.23" width="1.0" height="1.0" fill="#d8cc48"/>
<rect x="242.04" y="262.72" width="1.0" height="1.0" fill="#18a8d8"/>
<rect x="228.16" y="265.30" width="1.0" height="1.0" fill="#18a8d8"/>
<rect x="220.53" y="263.67" width="1.0" height="1.0" fill="#f2e23a"/>
<rect x="209.45" y="264.63" width="1.0" height="1.0" fill="#a8c45c"/>
<rect x="208.17" y="265.54" width="1.0" height="1.0" fill="#40bca8"/>
<rect x="208.48" y="267.18" width="1.0" height="1.0" fill="#f2e23a"/>
<rect x="234.18" y="261.86" width="1.0" height="1.0" fill="#1a70e0"/>
<rect x="233.33" y="263.09" width="1.0" height="1.0" fill="#3cbcb0"/>
<rect x="229.72" y="260.99" width="1.0" height="1.0" fill="#80c070"/>
<rect x="213.80" y="265.56" width="1.0" height="1.0" fill="#f2e23a"/>
<rect x="203.63" y="265.04" width="1.0" height="1.0" fill="#f2e23a"/>
<rect x="216.22" y="262.57" width="1.0" height="1.0" fill="#40bca8"/>
<rect x="223.67" y="262.93" width="1.0" height="1.0" fill="#d8cc48"/>
<rect x="221.65" y="261.43" width="1.0" height="1.0" fill="#1a70e0"/>
<rect x="218.44" y="260.96" width="1.0" height="1.0" fill="#18a8d8"/>
<rect x="219.39" y="262.92" width="1.0" height="1.0" fill="#1a70e0"/>
<rect x="227.09" y="261.28" width="1.0" height="1.0" fill="#80c070"/>
<rect x="232.89" y="262.19" width="1.0" height="1.0" fill="#c8c850"/>
<rect x="244.54" y="264.58" width="1.0" height="1.0" fill="#18a8d8"/>
<rect x="221.21" y="262.96" width="1.0" height="1.0" fill="#c8c850"/>
<rect x="228.58" y="263.56" width="1.0" height="1.0" fill="#3cbcb0"/>
<rect x="203.07" y="266.77" width="1.0" height="1.0" fill="#d8cc48"/>
<rect x="237.68" y="262.45" width="1.0" height="1.0" fill="#1a70e0"/>
<rect x="237.50" y="263.40" width="1.0" height="1.0" fill="#3cbcb0"/>
<rect x="239.18" y="263.17" width="1.0" height="1.0" fill="#80c070"/>
<rect x="217.74" y="264.02" width="1.0" height="1.0" fill="#a8c45c"/>
<rect x="211.52" y="263.86" width="1.0" height="1.0" fill="#f2e23a"/>
<rect x="228.79" y="260.66" width="1.0" height="1.0" fill="#3cbcb0"/>
<rect x="213.83" y="263.25" width="1.0" height="1.0" fill="#d8cc48"/>
<rect x="206.73" y="266.33" width="1.0" height="1.0" fill="#f2e23a"/>
<rect x="227.63" y="263.89" width="1.0" height="1.0" fill="#18a8d8"/>
<rect x="223.25" y="260.81" width="1.0" height="1.0" fill="#3cbcb0"/>
<rect x="210.68" y="263.67" width="1.0" height="1.0" fill="#d8cc48"/>
<rect x="220.11" y="261.15" width="1.0" height="1.0" fill="#f2e23a"/>
<rect x="245.38" y="263.32" width="1.0" height="1.0" fill="#c8c850"/>
<rect x="236.46" y="263.06" width="1.0" height="1.0" fill="#18a8d8"/>
<rect x="225.08" y="261.89" width="1.0" height="1.0" fill="#80c070"/>
<rect x="239.81" y="260.55" width="1.0" height="1.0" fill="#3cbcb0"/>
<rect x="236.12" y="258.65" width="1.0" height="1.0" fill="#1a70e0"/>
<rect x="237.80" y="263.25" width="1.0" height="1.0" fill="#3cbcb0"/>
<rect x="211.54" y="264.11" width="1.0" height="1.0" fill="#f2e23a"/>
<rect x="226.69" y="262.57" width="1.0" height="1.0" fill="#80c070"/>
<rect x="241.67" y="264.74" width="1.0" height="1.0" fill="#18a8d8"/>
<rect x="208.10" y="266.06" width="1.0" height="1.0" fill="#d8cc48"/>
<rect x="230.23" y="263.57" width="1.0" height="1.0" fill="#18a8d8"/>
<rect x="222.05" y="263.85" width="1.0" height="1.0" fill="#1890d8"/>
<rect x="212.42" y="264.72" width="1.0" height="1.0" fill="#f2e23a"/>
<rect x="241.37" y="265.17" width="1.0" height="1.0" fill="#3cbcb0"/>
<rect x="236.42" y="261.39" width="1.0" height="1.0" fill="#80c070"/>
<rect x="205.37" y="267.49" width="1.0" height="1.0" fill="#1890d8"/>
<rect x="231.77" y="260.89" width="1.0" height="1.0" fill="#1a70e0"/>
<rect x="207.48" y="264.64" width="1.0" height="1.0" fill="#f2e23a"/>
<rect x="223.46" y="262.16" width="1.0" height="1.0" fill="#f2e23a"/>
<rect x="231.80" y="263.87" width="1.0" height="1.0" fill="#3cbcb0"/>
<rect x="204.53" y="267.23" width="1.0" height="1.0" fill="#1890d8"/>
<rect x="239.84" y="263.12" width="1.0" height="1.0" fill="#18a8d8"/>
<rect x="207.12" y="267.88" width="1.0" height="1.0" fill="#d8cc48"/>
<rect x="222.22" y="260.24" width="1.0" height="1.0" fill="#d8cc48"/>
<rect x="229.70" y="262.07" width="1.0" height="1.0" fill="#3cbcb0"/>
<rect x="233.33" y="260.81" width="1.0" height="1.0" fill="#80c070"/>
<rect x="214.32" y="262.37" width="1.0" height="1.0" fill="#f2e23a"/>
<rect x="238.68" y="261.82" width="1.0" height="1.0" fill="#18a8d8"/>
<rect x="216.52" y="263.23" width="1.0" height="1.0" fill="#1890d8"/>
<rect x="205.42" y="267.69" width="1.0" height="1.0" fill="#f2e23a"/>
<rect x="223.29" y="261.37" width="1.0" height="1.0" fill="#f2e23a"/>
<rect x="218.48" y="267.55" width="1.0" height="1.0" fill="#1890d8"/>
<rect x="207.15" y="264.49" width="1.0" height="1.0" fill="#f2e23a"/>
<rect x="233.88" y="260.52" width="1.0" height="1.0" fill="#3cbcb0"/>
<rect x="237.30" y="261.61" width="1.0" height="1.0" fill="#3cbcb0"/>
<rect x="238.37" y="261.28" width="1.0" height="1.0" fill="#18a8d8"/>
<rect x="241.76" y="263.28" width="1.0" height="1.0" fill="#3cbcb0"/>
<rect x="210.66" y="264.41" width="1.0" height="1.0" fill="#f2e23a"/>
<rect x="206.37" y="267.32" width="1.0" height="1.0" fill="#d8cc48"/>
<rect x="214.64" y="263.60" width="1.0" height="1.0" fill="#a8c45c"/>
<rect x="237.49" y="261.21" width="1.0" height="1.0" fill="#3cbcb0"/>
<rect x="234.14" y="259.66" width="1.0" height="1.0" fill="#3cbcb0"/>
<rect x="237.45" y="260.61" width="1.0" height="1.0" fill="#80c070"/>
<rect x="223.95" y="264.85" width="1.0" height="1.0" fill="#18a8d8"/>
<rect x="240.06" y="262.44" width="1.0" height="1.0" fill="#1a70e0"/>
<rect x="218.60" y="262.98" width="1.0" height="1.0" fill="#d8cc48"/>
<rect x="203.20" y="265.22" width="1.0" height="1.0" fill="#d8cc48"/>
<rect x="208.13" y="264.32" width="1.0" height="1.0" fill="#40bca8"/>
<rect x="216.64" y="262.24" width="1.0" height="1.0" fill="#a8c45c"/>
<rect x="205.60" y="268.45" width="1.0" height="1.0" fill="#d8cc48"/>
<rect x="224.82" y="259.69" width="1.0" height="1.0" fill="#3cbcb0"/>
<rect x="244.12" y="263.63" width="1.0" height="1.0" fill="#3cbcb0"/>
<rect x="213.64" y="263.43" width="1.0" height="1.0" fill="#f2e23a"/>
<rect x="232.71" y="261.65" width="1.0" height="1.0" fill="#c8c850"/>
<rect x="227.50" y="259.10" width="1.0" height="1.0" fill="#3cbcb0"/>
<rect x="239.95" y="262.42" width="1.0" height="1.0" fill="#3cbcb0"/>
<rect x="223.98" y="260.36" width="1.0" height="1.0" fill="#3cbcb0"/>
<rect x="220.24" y="263.29" width="1.0" height="1.0" fill="#40bca8"/>
<rect x="209.26" y="262.32" width="1.0" height="1.0" fill="#f2e23a"/>
<rect x="238.11" y="263.56" width="1.0" height="1.0" fill="#18a8d8"/>
<rect x="238.69" y="260.80" width="1.0" height="1.0" fill="#80c070"/>
<rect x="236.02" y="261.29" width="1.0" height="1.0" fill="#18a8d8"/>
<rect x="221.51" y="264.51" width="1.0" height="1.0" fill="#40bca8"/>
<rect x="237.64" y="262.40" width="1.0" height="1.0" fill="#18a8d8"/>
<rect x="243.71" y="264.41" width="1.0" height="1.0" fill="#18a8d8"/>
<rect x="229.89" y="260.20" width="1.0" height="1.0" fill="#3cbcb0"/>
<rect x="221.40" y="261.52" width="1.0" height="1.0" fill="#f2e23a"/>
<rect x="244.21" y="264.08" width="1.0" height="1.0" fill="#c8c850"/>
<rect x="237.39" y="264.40" width="1.0" height="1.0" fill="#3cbcb0"/>
<rect x="230.27" y="261.20" width="1.0" height="1.0" fill="#3cbcb0"/>
<rect x="226.05" y="263.31" width="1.0" height="1.0" fill="#3cbcb0"/>
<rect x="225.11" y="258.13" width="1.0" height="1.0" fill="#f2e23a"/>
<rect x="215.98" y="262.28" width="1.0" height="1.0" fill="#d8cc48"/>
<rect x="243.63" y="262.17" width="1.0" height="1.0" fill="#18a8d8"/>
<rect x="225.69" y="261.93" width="1.0" height="1.0" fill="#3cbcb0"/>
<rect x="215.48" y="261.81" width="1.0" height="1.0" fill="#f2e23a"/>
<rect x="206.73" y="262.68" width="1.0" height="1.0" fill="#d8cc48"/>
<rect x="227.23" y="260.82" width="1.0" height="1.0" fill="#1a70e0"/>
<rect x="222.59" y="259.72" width="1.0" height="1.0" fill="#18a8d8"/>
<rect x="216.20" y="262.74" width="1.0" height="1.0" fill="#d8cc48"/>
<rect x="219.28" y="261.92" width="1.0" height="1.0" fill="#f2e23a"/>
<rect x="239.63" y="262.59" width="1.0" height="1.0" fill="#18a8d8"/>
<rect x="215.10" y="264.18" width="1.0" height="1.0" fill="#a8c45c"/>
<rect x="209.74" y="267.17" width="1.0" height="1.0" fill="#f2e23a"/>
<rect x="205.64" y="264.61" width="1.0" height="1.0" fill="#a8c45c"/>
<rect x="207.64" y="265.69" width="1.0" height="1.0" fill="#a8c45c"/>
<rect x="209.57" y="263.72" width="1.0" height="1.0" fill="#a8c45c"/>
<rect x="229.19" y="263.04" width="1.0" height="1.0" fill="#18a8d8"/>
<rect x="234.40" y="261.59" width="1.0" height="1.0" fill="#18a8d8"/>
<rect x="236.36" y="261.07" width="1.0" height="1.0" fill="#3cbcb0"/>
<rect x="240.01" y="265.08" width="1.0" height="1.0" fill="#c8c850"/>
<rect x="224.16" y="263.46" width="1.0" height="1.0" fill="#18a8d8"/>
<rect x="236.31" y="263.35" width="1.0" height="1.0" fill="#18a8d8"/>
<rect x="222.22" y="259.41" width="1.0" height="1.0" fill="#f2e23a"/>
<rect x="219.60" y="260.68" width="1.0" height="1.0" fill="#f2e23a"/>
<rect x="236.45" y="262.97" width="1.0" height="1.0" fill="#18a8d8"/>
<rect x="210.83" y="263.77" width="1.0" height="1.0" fill="#d8cc48"/>
<rect x="227.72" y="264.28" width="1.0" height="1.0" fill="#18a8d8"/>
<rect x="238.84" y="264.30" width="1.0" height="1.0" fill="#3cbcb0"/>
<rect x="221.12" y="262.05" width="1.0" height="1.0" fill="#f2e23a"/>
<rect x="227.01" y="258.05" width="1.0" height="1.0" fill="#1a70e0"/>
<rect x="225.89" y="263.27" width="1.0" height="1.0" fill="#18a8d8"/>
<rect x="232.12" y="260.43" width="1.0" height="1.0" fill="#c8c850"/>
<rect x="217.92" y="264.48" width="1.0" height="1.0" fill="#d8cc48"/>
<rect x="207.21" y="264.18" width="1.0" height="1.0" fill="#d8cc48"/>
<rect x="227.40" y="264.23" width="1.0" height="1.0" fill="#18a8d8"/>
<rect x="221.71" y="258.25" width="1.0" height="1.0" fill="#18a8d8"/>
<rect x="225.53" y="261.84" width="1.0" height="1.0" fill="#18a8d8"/>
<rect x="244.58" y="264.43" width="1.0" height="1.0" fill="#3cbcb0"/>
<rect x="241.02" y="261.71" width="1.0" height="1.0" fill="#80c070"/>
<rect x="240.75" y="261.91" width="1.0" height="1.0" fill="#3cbcb0"/>
<rect x="224.74" y="260.55" width="1.0" height="1.0" fill="#3cbcb0"/>
<rect x="229.78" y="260.30" width="1.0" height="1.0" fill="#80c070"/>
<rect x="230.05" y="262.91" width="1.0" height="1.0" fill="#1a70e0"/>
<rect x="216.04" y="262.67" width="1.0" height="1.0" fill="#f2e23a"/>
<rect x="238.79" y="260.39" width="1.0" height="1.0" fill="#3cbcb0"/>
<rect x="224.16" y="260.45" width="1.0" height="1.0" fill="#c8c850"/>
<rect x="225.59" y="263.43" width="1.0" height="1.0" fill="#18a8d8"/>
<rect x="208.16" y="266.32" width="1.0" height="1.0" fill="#f2e23a"/>
<rect x="207.25" y="266.11" width="1.0" height="1.0" fill="#40bca8"/>
<rect x="229.05" y="261.59" width="1.0" height="1.0" fill="#3cbcb0"/>
<rect x="235.75" y="260.80" width="1.0" height="1.0" fill="#18a8d8"/>
<rect x="210.20" y="264.18" width="1.0" height="1.0" fill="#40bca8"/>
<rect x="227.75" y="260.45" width="1.0" height="1.0" fill="#18a8d8"/>
<rect x="205.32" y="267.50" width="1.0" height="1.0" fill="#1890d8"/>
<rect x="221.68" y="260.97" width="1.0" height="1.0" fill="#3cbcb0"/>
<rect x="242.56" y="263.88" width="1.0" height="1.0" fill="#80c070"/>
<rect x="237.68" y="261.44" width="1.0" height="1.0" fill="#80c070"/>
<rect x="224.06" y="262.63" width="1.0" height="1.0" fill="#18a8d8"/>
<rect x="233.53" y="261.85" width="1.0" height="1.0" fill="#80c070"/>
<rect x="223.59" y="261.90" width="1.0" height="1.0" fill="#3cbcb0"/>
<rect x="218.23" y="263.85" width="1.0" height="1.0" fill="#f2e23a"/>
<rect x="226.87" y="262.81" width="1.0" height="1.0" fill="#18a8d8"/>
<rect x="220.14" y="262.70" width="1.0" height="1.0" fill="#40bca8"/>
<rect x="217.93" y="262.38" width="1.0" height="1.0" fill="#f2e23a"/>
<rect x="213.08" y="265.58" width="1.0" height="1.0" fill="#f2e23a"/>
<rect x="209.63" y="264.25" width="1.0" height="1.0" fill="#f2e23a"/>
<rect x="238.49" y="263.38" width="1.0" height="1.0" fill="#1a70e0"/>
<rect x="237.21" y="262.80" width="1.0" height="1.0" fill="#1a70e0"/>
<rect x="219.02" y="263.15" width="1.0" height="1.0" fill="#1890d8"/>
<rect x="224.46" y="261.77" width="1.0" height="1.0" fill="#f2e23a"/>
<rect x="233.03" y="261.36" width="1.0" height="1.0" fill="#c8c850"/>
<rect x="218.64" y="262.27" width="1.0" height="1.0" fill="#f2e23a"/>
<rect x="240.08" y="263.83" width="1.0" height="1.0" fill="#18a8d8"/>
<rect x="214.49" y="263.27" width="1.0" height="1.0" fill="#a8c45c"/>
<rect x="227.13" y="260.86" width="1.0" height="1.0" fill="#3cbcb0"/>
<rect x="210.52" y="264.93" width="1.0" height="1.0" fill="#a8c45c"/>
<rect x="207.63" y="263.79" width="1.0" height="1.0" fill="#d8cc48"/>
<rect x="215.62" y="264.00" width="1.0" height="1.0" fill="#f2e23a"/>
<rect x="208.36" y="264.59" width="1.0" height="1.0" fill="#f2e23a"/>
<rect x="241.63" y="263.35" width="1.0" height="1.0" fill="#80c070"/>
<rect x="208.62" y="264.70" width="1.0" height="1.0" fill="#a8c45c"/>
<rect x="231.20" y="260.54" width="1.0" height="1.0" fill="#c8c850"/>
<rect x="232.72" y="261.58" width="1.0" height="1.0" fill="#18a8d8"/>
<rect x="229.73" y="261.72" width="1.0" height="1.0" fill="#80c070"/>
<rect x="234.20" y="261.58" width="1.0" height="1.0" fill="#3cbcb0"/>
<rect x="209.89" y="264.75" width="1.0" height="1.0" fill="#f2e23a"/>
<rect x="204.67" y="265.43" width="1.0" height="1.0" fill="#f2e23a"/>
<rect x="238.68" y="260.13" width="1.0" height="1.0" fill="#3cbcb0"/>
<rect x="221.48" y="261.26" width="1.0" height="1.0" fill="#3cbcb0"/>
<rect x="238.46" y="262.45" width="1.0" height="1.0" fill="#3cbcb0"/>
<rect x="239.30" y="262.03" width="1.0" height="1.0" fill="#3cbcb0"/>
<rect x="207.73" y="265.33" width="1.0" height="1.0" fill="#40bca8"/>
<rect x="234.85" y="263.72" width="1.0" height="1.0" fill="#18a8d8"/>
<rect x="234.77" y="262.31" width="1.0" height="1.0" fill="#3cbcb0"/>
<rect x="243.22" y="260.17" width="1.0" height="1.0" fill="#c8c850"/>
<rect x="234.39" y="262.71" width="1.0" height="1.0" fill="#18a8d8"/>
<rect x="205.31" y="265.47" width="1.0" height="1.0" fill="#d8cc48"/>
<rect x="242.45" y="264.82" width="1.0" height="1.0" fill="#3cbcb0"/>
<rect x="232.87" y="261.96" width="1.0" height="1.0" fill="#18a8d8"/>
<rect x="244.20" y="262.27" width="1.0" height="1.0" fill="#3cbcb0"/>
<rect x="205.52" y="264.92" width="1.0" height="1.0" fill="#f2e23a"/>
<rect x="216.20" y="264.22" width="1.0" height="1.0" fill="#a8c45c"/>
<rect x="213.11" y="263.51" width="1.0" height="1.0" fill="#f2e23a"/>
<rect x="242.77" y="262.38" width="1.0" height="1.0" fill="#80c070"/>
<rect x="209.03" y="263.38" width="1.0" height="1.0" fill="#40bca8"/>
<rect x="226.30" y="261.50" width="1.0" height="1.0" fill="#c8c850"/>
<rect x="228.44" y="258.92" width="1.0" height="1.0" fill="#1a70e0"/>
<rect x="207.87" y="264.67" width="1.0" height="1.0" fill="#f2e23a"/>
<rect x="205.56" y="265.68" width="1.0" height="1.0" fill="#a8c45c"/>
<rect x="222.04" y="262.76" width="1.0" height="1.0" fill="#d8cc48"/>
<rect x="218.43" y="262.55" width="1.0" height="1.0" fill="#f2e23a"/>
<rect x="245.17" y="263.76" width="1.0" height="1.0" fill="#1a70e0"/>
<rect x="244.66" y="262.96" width="1.0" height="1.0" fill="#18a8d8"/>
<rect x="221.46" y="262.52" width="1.0" height="1.0" fill="#f2e23a"/>
<rect x="242.08" y="261.67" width="1.0" height="1.0" fill="#80c070"/>
<rect x="230.74" y="261.43" width="1.0" height="1.0" fill="#3cbcb0"/>
<rect x="204.18" y="266.87" width="1.0" height="1.0" fill="#f2e23a"/>
<rect x="210.89" y="262.16" width="1.0" height="1.0" fill="#1890d8"/>
<rect x="210.16" y="264.87" width="1.0" height="1.0" fill="#a8c45c"/>
<rect x="216.88" y="263.67" width="1.0" height="1.0" fill="#f2e23a"/>
<rect x="218.66" y="260.86" width="1.0" height="1.0" fill="#40bca8"/>
<rect x="213.17" y="265.27" width="1.0" height="1.0" fill="#d8cc48"/>
<rect x="237.84" y="261.24" width="1.0" height="1.0" fill="#80c070"/>
<rect x="224.01" y="260.69" width="1.0" height="1.0" fill="#3cbcb0"/>
<rect x="227.70" y="263.41" width="1.0" height="1.0" fill="#3cbcb0"/>
<rect x="221.84" y="262.42" width="1.0" height="1.0" fill="#f2e23a"/>
<rect x="221.68" y="262.67" width="1.0" height="1.0" fill="#f2e23a"/>
<rect x="238.73" y="263.91" width="1.0" height="1.0" fill="#18a8d8"/>
<rect x="215.04" y="261.99" width="1.0" height="1.0" fill="#f2e23a"/>
<rect x="217.39" y="260.39" width="1.0" height="1.0" fill="#40bca8"/>
<rect x="241.42" y="263.46" width="1.0" height="1.0" fill="#18a8d8"/>
<rect x="226.94" y="260.85" width="1.0" height="1.0" fill="#3cbcb0"/>
<rect x="216.76" y="258.70" width="1.0" height="1.0" fill="#40bca8"/>
<rect x="239.78" y="266.27" width="1.0" height="1.0" fill="#c8c850"/>
<rect x="237.47" y="264.18" width="1.0" height="1.0" fill="#c8c850"/>
<rect x="215.62" y="259.47" width="1.0" height="1.0" fill="#d8cc48"/>
<rect x="230.51" y="261.01" width="1.0" height="1.0" fill="#80c070"/>
<rect x="204.18" y="267.27" width="1.0" height="1.0" fill="#f2e23a"/>
<rect x="206.62" y="264.70" width="1.0" height="1.0" fill="#d8cc48"/>
<rect x="220.70" y="260.02" width="1.0" height="1.0" fill="#f2e23a"/>
<rect x="207.86" y="266.36" width="1.0" height="1.0" fill="#d8cc48"/>
<rect x="207.77" y="265.80" width="1.0" height="1.0" fill="#f2e23a"/>
<rect x="225.56" y="261.46" width="1.0" height="1.0" fill="#d8cc48"/>
<rect x="212.63" y="262.88" width="1.0" height="1.0" fill="#d8cc48"/>
<rect x="228.01" y="262.75" width="1.0" height="1.0" fill="#3cbcb0"/>
<rect x="221.68" y="263.04" width="1.0" height="1.0" fill="#1a70e0"/>
<rect x="235.17" y="265.23" width="1.0" height="1.0" fill="#1a70e0"/>
<rect x="207.34" y="265.93" width="1.0" height="1.0" fill="#f2e23a"/>
<rect x="210.49" y="276.02" width="1.0" height="1.0" fill="#f2e23a"/>
<rect x="207.36" y="276.04" width="1.0" height="1.0" fill="#f2e23a"/>
<rect x="208.16" y="267.67" width="1.0" height="1.0" fill="#d8cc48"/>
<rect x="209.92" y="269.84" width="1.0" height="1.0" fill="#f2e23a"/>
<rect x="207.44" y="277.27" width="1.0" height="1.0" fill="#d8cc48"/>
<rect x="205.97" y="277.09" width="1.0" height="1.0" fill="#d8cc48"/>
<rect x="211.51" y="269.35" width="1.0" height="1.0" fill="#a8c45c"/>
<rect x="206.00" y="271.26" width="1.0" height="1.0" fill="#a8c45c"/>
<rect x="206.42" y="268.85" width="1.0" height="1.0" fill="#f2e23a"/>
<rect x="204.61" y="275.61" width="1.0" height="1.0" fill="#1890d8"/>
<rect x="207.89" y="274.14" width="1.0" height="1.0" fill="#f2e23a"/>
<rect x="207.41" y="273.54" width="1.0" height="1.0" fill="#40bca8"/>
<rect x="211.46" y="274.93" width="1.0" height="1.0" fill="#f2e23a"/>
<rect x="210.97" y="269.62" width="1.0" height="1.0" fill="#f2e23a"/>
<rect x="209.39" y="268.75" width="1.0" height="1.0" fill="#f2e23a"/>
<rect x="205.76" y="268.71" width="1.0" height="1.0" fill="#40bca8"/>
<rect x="209.01" y="270.69" width="1.0" height="1.0" fill="#a8c45c"/>
<rect x="210.34" y="271.69" width="1.0" height="1.0" fill="#f2e23a"/>
<rect x="209.76" y="275.08" width="1.0" height="1.0" fill="#40bca8"/>
<rect x="206.25" y="277.94" width="1.0" height="1.0" fill="#f2e23a"/>
<rect x="207.37" y="273.02" width="1.0" height="1.0" fill="#40bca8"/>
<rect x="208.96" y="276.30" width="1.0" height="1.0" fill="#f2e23a"/>
<rect x="209.52" y="274.97" width="1.0" height="1.0" fill="#f2e23a"/>
<rect x="211.36" y="272.73" width="1.0" height="1.0" fill="#f2e23a"/>
<rect x="209.13" y="277.10" width="1.0" height="1.0" fill="#d8cc48"/>
<rect x="206.35" y="268.33" width="1.0" height="1.0" fill="#f2e23a"/>
<rect x="208.89" y="273.98" width="1.0" height="1.0" fill="#f2e23a"/>
<rect x="212.14" y="269.37" width="1.0" height="1.0" fill="#f2e23a"/>
<rect x="205.43" y="271.77" width="1.0" height="1.0" fill="#f2e23a"/>
<rect x="208.53" y="267.57" width="1.0" height="1.0" fill="#d8cc48"/>
<rect x="207.80" y="272.55" width="1.0" height="1.0" fill="#1890d8"/>
<rect x="208.35" y="268.00" width="1.0" height="1.0" fill="#f2e23a"/>
<rect x="207.24" y="270.51" width="1.0" height="1.0" fill="#d8cc48"/>
<rect x="206.60" y="270.38" width="1.0" height="1.0" fill="#d8cc48"/>
<rect x="203.06" y="278.41" width="1.0" height="1.0" fill="#f2e23a"/>
<rect x="207.12" y="273.67" width="1.0" height="1.0" fill="#a8c45c"/>
<rect x="210.40" y="274.46" width="1.0" height="1.0" fill="#d8cc48"/>
<rect x="205.52" y="271.49" width="1.0" height="1.0" fill="#f2e23a"/>
<rect x="209.14" y="277.83" width="1.0" height="1.0" fill="#a8c45c"/>
<rect x="204.10" y="270.84" width="1.0" height="1.0" fill="#a8c45c"/>
<rect x="236.84" y="283.38" width="1.0" height="1.0" fill="#18a8d8"/>
<rect x="234.62" y="281.27" width="1.0" height="1.0" fill="#18a8d8"/>
<rect x="238.68" y="275.58" width="1.0" height="1.0" fill="#80c070"/>
<rect x="237.67" y="279.54" width="1.0" height="1.0" fill="#18a8d8"/>
<rect x="237.06" y="276.23" width="1.0" height="1.0" fill="#3cbcb0"/>
<rect x="238.46" y="267.68" width="1.0" height="1.0" fill="#80c070"/>
<rect x="234.92" y="281.72" width="1.0" height="1.0" fill="#18a8d8"/>
<rect x="237.63" y="271.72" width="1.0" height="1.0" fill="#3cbcb0"/>
<rect x="236.45" y="285.67" width="1.0" height="1.0" fill="#c8c850"/>
<rect x="238.63" y="290.94" width="1.0" height="1.0" fill="#18a8d8"/>
<rect x="239.33" y="269.50" width="1.0" height="1.0" fill="#3cbcb0"/>
<rect x="235.74" y="282.01" width="1.0" height="1.0" fill="#80c070"/>
<rect x="234.85" y="278.21" width="1.0" height="1.0" fill="#80c070"/>
<rect x="239.70" y="269.19" width="1.0" height="1.0" fill="#18a8d8"/>
<rect x="238.29" y="273.94" width="1.0" height="1.0" fill="#3cbcb0"/>
<rect x="236.05" y="271.61" width="1.0" height="1.0" fill="#3cbcb0"/>
<rect x="236.60" y="277.49" width="1.0" height="1.0" fill="#3cbcb0"/>
<rect x="235.65" y="282.57" width="1.0" height="1.0" fill="#80c070"/>
<rect x="236.21" y="285.85" width="1.0" height="1.0" fill="#80c070"/>
<rect x="235.94" y="282.53" width="1.0" height="1.0" fill="#3cbcb0"/>
<rect x="238.49" y="276.03" width="1.0" height="1.0" fill="#3cbcb0"/>
<rect x="233.20" y="272.20" width="1.0" height="1.0" fill="#18a8d8"/>
<rect x="239.03" y="290.57" width="1.0" height="1.0" fill="#3cbcb0"/>
<rect x="234.98" y="275.67" width="1.0" height="1.0" fill="#1a70e0"/>
<rect x="235.79" y="284.47" width="1.0" height="1.0" fill="#18a8d8"/>
<rect x="235.36" y="268.94" width="1.0" height="1.0" fill="#18a8d8"/>
<rect x="239.69" y="275.86" width="1.0" height="1.0" fill="#18a8d8"/>
<rect x="237.79" y="282.45" width="1.0" height="1.0" fill="#3cbcb0"/>
<rect x="236.68" y="290.63" width="1.0" height="1.0" fill="#c8c850"/>
<rect x="237.08" y="292.19" width="1.0" height="1.0" fill="#3cbcb0"/>
<rect x="230.84" y="285.07" width="0.9" height="0.9" fill="#f2e23a"/>
<rect x="197.53" y="263.49" width="0.9" height="0.9" fill="#f2e23a"/>
<rect x="240.65" y="260.96" width="0.9" height="0.9" fill="#40bca8"/>
<rect x="218.64" y="278.02" width="0.9" height="0.9" fill="#d8cc48"/>
<rect x="227.07" y="282.53" width="0.9" height="0.9" fill="#d8cc48"/>
<rect x="212.72" y="285.71" width="0.9" height="0.9" fill="#f2e23a"/>
<rect x="237.08" y="286.56" width="0.9" height="0.9" fill="#a8c45c"/>
<rect x="211.34" y="286.91" width="0.9" height="0.9" fill="#1890d8"/>
<rect x="220.55" y="268.12" width="0.9" height="0.9" fill="#d8cc48"/>
<rect x="251.77" y="262.56" width="0.9" height="0.9" fill="#f2e23a"/>
<rect x="222.00" y="282.45" width="0.9" height="0.9" fill="#a8c45c"/>
<rect x="214.75" y="295.15" width="0.9" height="0.9" fill="#f2e23a"/>
<rect x="239.97" y="260.97" width="0.9" height="0.9" fill="#f2e23a"/>
<rect x="200.14" y="259.84" width="0.9" height="0.9" fill="#d8cc48"/>
<rect x="227.09" y="264.46" width="0.9" height="0.9" fill="#1890d8"/>
<rect x="214.95" y="263.22" width="0.9" height="0.9" fill="#f2e23a"/>
<rect x="238.77" y="292.57" width="0.9" height="0.9" fill="#f2e23a"/>
<rect x="193.41" y="287.12" width="0.9" height="0.9" fill="#f2e23a"/>
<rect x="254.42" y="276.51" width="0.9" height="0.9" fill="#d8cc48"/>
<rect x="213.58" y="287.97" width="0.9" height="0.9" fill="#d8cc48"/>
<rect x="212.28" y="291.88" width="0.9" height="0.9" fill="#f2e23a"/>
<rect x="238.49" y="260.04" width="0.9" height="0.9" fill="#d8cc48"/>
<rect x="217.27" y="290.38" width="0.9" height="0.9" fill="#f2e23a"/>
<rect x="227.66" y="273.13" width="0.9" height="0.9" fill="#40bca8"/>
<rect x="252.03" y="281.38" width="0.9" height="0.9" fill="#f2e23a"/>
<rect x="207.67" y="267.52" width="0.9" height="0.9" fill="#f2e23a"/>
<rect x="206.36" y="265.27" width="0.9" height="0.9" fill="#a8c45c"/>
<rect x="232.68" y="268.89" width="0.9" height="0.9" fill="#1890d8"/>
<rect x="205.41" y="279.19" width="0.9" height="0.9" fill="#f2e23a"/>
<rect x="246.79" y="290.58" width="0.9" height="0.9" fill="#f2e23a"/>
<rect x="239.65" y="288.82" width="0.9" height="0.9" fill="#f2e23a"/>
<rect x="212.77" y="276.00" width="0.9" height="0.9" fill="#40bca8"/>
<rect x="201.89" y="283.50" width="0.9" height="0.9" fill="#d8cc48"/>
<rect x="220.55" y="279.56" width="0.9" height="0.9" fill="#40bca8"/>
<rect x="204.98" y="291.13" width="0.9" height="0.9" fill="#f2e23a"/>
<rect x="241.46" y="290.36" width="0.9" height="0.9" fill="#f2e23a"/>
<rect x="246.84" y="295.35" width="0.9" height="0.9" fill="#f2e23a"/>
<rect x="193.11" y="261.79" width="0.9" height="0.9" fill="#1890d8"/>
<rect x="192.15" y="292.19" width="0.9" height="0.9" fill="#f2e23a"/>
<rect x="238.66" y="261.26" width="0.9" height="0.9" fill="#f2e23a"/>
<rect x="235.25" y="260.98" width="0.9" height="0.9" fill="#f2e23a"/>
<rect x="250.33" y="284.77" width="0.9" height="0.9" fill="#40bca8"/>
<rect x="254.25" y="258.80" width="0.9" height="0.9" fill="#f2e23a"/>
<rect x="242.25" y="283.75" width="0.9" height="0.9" fill="#f2e23a"/>
<rect x="223.86" y="266.35" width="0.9" height="0.9" fill="#f2e23a"/>
<rect x="198.26" y="258.31" width="0.9" height="0.9" fill="#1890d8"/>
<rect x="211.81" y="290.94" width="0.9" height="0.9" fill="#f2e23a"/>
<rect x="222.74" y="262.71" width="0.9" height="0.9" fill="#f2e23a"/>
<rect x="203.00" y="283.59" width="0.9" height="0.9" fill="#f2e23a"/>
<rect x="238.80" y="276.58" width="0.9" height="0.9" fill="#f2e23a"/>
<rect x="214.18" y="276.41" width="0.9" height="0.9" fill="#40bca8"/>
<rect x="213.91" y="265.73" width="0.9" height="0.9" fill="#1890d8"/>
<rect x="248.07" y="285.34" width="0.9" height="0.9" fill="#f2e23a"/>
<rect x="202.89" y="267.61" width="0.9" height="0.9" fill="#f2e23a"/>
<rect x="194.31" y="276.88" width="0.9" height="0.9" fill="#f2e23a"/>
<rect x="227.17" y="271.33" width="0.9" height="0.9" fill="#f2e23a"/>
<rect x="235.59" y="282.37" width="0.9" height="0.9" fill="#d8cc48"/>
<rect x="226.67" y="283.78" width="0.9" height="0.9" fill="#1890d8"/>
<rect x="247.49" y="284.82" width="0.9" height="0.9" fill="#f2e23a"/>
<rect x="211.92" y="273.48" width="0.9" height="0.9" fill="#1890d8"/>
<rect x="216.32" y="272.20" width="0.9" height="0.9" fill="#f2e23a"/>
<rect x="200.71" y="295.49" width="0.9" height="0.9" fill="#f2e23a"/>
<rect x="230.45" y="292.75" width="0.9" height="0.9" fill="#f2e23a"/>
<rect x="230.65" y="271.87" width="0.9" height="0.9" fill="#f2e23a"/>
<rect x="204.25" y="261.96" width="0.9" height="0.9" fill="#40bca8"/>
<rect x="241.72" y="292.07" width="0.9" height="0.9" fill="#f2e23a"/>
<rect x="235.98" y="269.88" width="0.9" height="0.9" fill="#d8cc48"/>
<rect x="226.68" y="269.54" width="0.9" height="0.9" fill="#1890d8"/>
<rect x="191.61" y="285.91" width="0.9" height="0.9" fill="#40bca8"/>
<rect x="224.20" y="280.06" width="0.9" height="0.9" fill="#1890d8"/>
<rect x="234.63" y="294.04" width="1.0" height="1.0" fill="#3cbcb0"/>
<rect x="235.38" y="300.50" width="1.0" height="1.0" fill="#1a70e0"/>
<rect x="236.85" y="302.18" width="1.0" height="1.0" fill="#3cbcb0"/>
<rect x="236.93" y="296.32" width="1.0" height="1.0" fill="#2040d0"/>
<rect x="238.57" y="294.05" width="1.0" height="1.0" fill="#3cbcb0"/>
<rect x="245.68" y="303.89" width="1.0" height="1.0" fill="#3cbcb0"/>
<rect x="231.74" y="296.96" width="1.0" height="1.0" fill="#18a8d8"/>
<rect x="241.58" y="294.70" width="1.0" height="1.0" fill="#1a70e0"/>
<rect x="240.94" y="291.17" width="1.0" height="1.0" fill="#3cbcb0"/>
<rect x="240.02" y="289.49" width="1.0" height="1.0" fill="#18a8d8"/>
<rect x="239.48" y="299.54" width="1.0" height="1.0" fill="#3cbcb0"/>
<rect x="239.60" y="282.97" width="1.0" height="1.0" fill="#3cbcb0"/>
<rect x="240.78" y="286.79" width="1.0" height="1.0" fill="#3cbcb0"/>
<rect x="241.67" y="292.69" width="1.0" height="1.0" fill="#18a8d8"/>
<rect x="236.00" y="300.97" width="1.0" height="1.0" fill="#18a8d8"/>
<rect x="237.24" y="300.73" width="1.0" height="1.0" fill="#18a8d8"/>
<rect x="238.16" y="297.51" width="1.0" height="1.0" fill="#18a8d8"/>
<rect x="238.91" y="300.89" width="1.0" height="1.0" fill="#18a8d8"/>
<rect x="237.64" y="273.51" width="1.0" height="1.0" fill="#18a8d8"/>
<rect x="233.08" y="299.20" width="1.0" height="1.0" fill="#3cbcb0"/>
<rect x="233.75" y="295.05" width="1.0" height="1.0" fill="#1a70e0"/>
<rect x="240.95" y="294.01" width="1.0" height="1.0" fill="#c8c850"/>
<rect x="242.90" y="294.74" width="1.0" height="1.0" fill="#2040d0"/>
<rect x="243.23" y="303.12" width="1.0" height="1.0" fill="#3cbcb0"/>
<rect x="238.29" y="297.39" width="1.0" height="1.0" fill="#1a70e0"/>
<rect x="240.95" y="294.18" width="1.0" height="1.0" fill="#2040d0"/>
<rect x="238.69" y="302.37" width="1.0" height="1.0" fill="#3cbcb0"/>
<rect x="240.42" y="299.82" width="1.0" height="1.0" fill="#3cbcb0"/>
<rect x="238.57" y="281.18" width="1.0" height="1.0" fill="#3cbcb0"/>
<rect x="242.40" y="293.61" width="1.0" height="1.0" fill="#1a70e0"/>
<rect x="245.78" y="299.26" width="1.0" height="1.0" fill="#1a70e0"/>
<rect x="239.77" y="296.36" width="1.0" height="1.0" fill="#18a8d8"/>
<rect x="240.32" y="296.61" width="1.0" height="1.0" fill="#18a8d8"/>
<rect x="238.17" y="297.56" width="1.0" height="1.0" fill="#1a70e0"/>
<rect x="238.07" y="298.12" width="1.0" height="1.0" fill="#1a70e0"/>
<rect x="226.35" y="292.12" width="1.0" height="1.0" fill="#c8c850"/>
<rect x="239.16" y="274.70" width="1.0" height="1.0" fill="#18a8d8"/>
<rect x="242.79" y="277.54" width="1.0" height="1.0" fill="#18a8d8"/>
<rect x="239.23" y="304.53" width="1.0" height="1.0" fill="#1a70e0"/>
<rect x="238.28" y="298.51" width="1.0" height="1.0" fill="#3cbcb0"/>
<rect x="241.55" y="289.14" width="1.0" height="1.0" fill="#18a8d8"/>
<rect x="236.90" y="294.89" width="1.0" height="1.0" fill="#3cbcb0"/>
<rect x="238.55" y="295.28" width="1.0" height="1.0" fill="#c8c850"/>
<rect x="237.44" y="301.68" width="1.0" height="1.0" fill="#18a8d8"/>
<rect x="236.84" y="294.69" width="1.0" height="1.0" fill="#1a70e0"/>
<rect x="238.59" y="297.13" width="1.0" height="1.0" fill="#18a8d8"/>
<rect x="247.08" y="299.43" width="1.0" height="1.0" fill="#3cbcb0"/>
<rect x="237.71" y="281.29" width="1.0" height="1.0" fill="#c8c850"/>
<rect x="233.88" y="299.91" width="1.0" height="1.0" fill="#18a8d8"/>
<rect x="239.36" y="273.08" width="1.0" height="1.0" fill="#2040d0"/>
<rect x="237.96" y="299.21" width="1.0" height="1.0" fill="#1a70e0"/>
<rect x="234.70" y="297.37" width="1.0" height="1.0" fill="#c8c850"/>
<rect x="242.34" y="299.95" width="1.0" height="1.0" fill="#18a8d8"/>
<rect x="238.06" y="299.73" width="1.0" height="1.0" fill="#3cbcb0"/>
<rect x="229.19" y="297.66" width="1.0" height="1.0" fill="#1a70e0"/>
<rect x="248.84" y="302.77" width="1.0" height="1.0" fill="#18a8d8"/>
<rect x="241.68" y="277.96" width="1.0" height="1.0" fill="#18a8d8"/>
<rect x="237.19" y="301.84" width="1.0" height="1.0" fill="#18a8d8"/>
<rect x="241.19" y="278.64" width="1.0" height="1.0" fill="#1a70e0"/>
<rect x="239.44" y="280.11" width="1.0" height="1.0" fill="#18a8d8"/>
<rect x="237.56" y="296.18" width="1.0" height="1.0" fill="#3cbcb0"/>
<rect x="232.73" y="299.18" width="1.0" height="1.0" fill="#3cbcb0"/>
<rect x="245.58" y="302.08" width="1.0" height="1.0" fill="#18a8d8"/>
<rect x="243.00" y="293.41" width="1.0" height="1.0" fill="#18a8d8"/>
<rect x="237.55" y="298.01" width="1.0" height="1.0" fill="#2040d0"/>
<rect x="234.46" y="291.44" width="1.0" height="1.0" fill="#1a70e0"/>
<rect x="240.32" y="299.54" width="1.0" height="1.0" fill="#18a8d8"/>
<rect x="241.14" y="290.10" width="1.0" height="1.0" fill="#18a8d8"/>
<rect x="235.82" y="272.21" width="1.0" height="1.0" fill="#3cbcb0"/>
<rect x="237.15" y="285.94" width="1.0" height="1.0" fill="#18a8d8"/>
<rect x="236.42" y="298.77" width="1.0" height="1.0" fill="#1a70e0"/>
<rect x="240.35" y="295.30" width="1.0" height="1.0" fill="#18a8d8"/>
<rect x="243.99" y="300.36" width="1.0" height="1.0" fill="#1a70e0"/>
<rect x="238.41" y="298.21" width="1.0" height="1.0" fill="#3cbcb0"/>
<rect x="238.12" y="296.60" width="1.0" height="1.0" fill="#1a70e0"/>
<rect x="235.02" y="301.45" width="1.0" height="1.0" fill="#18a8d8"/>
<rect x="243.10" y="296.94" width="1.0" height="1.0" fill="#c8c850"/>
<rect x="241.08" y="282.07" width="1.0" height="1.0" fill="#c8c850"/>
<rect x="241.04" y="293.91" width="1.0" height="1.0" fill="#18a8d8"/>
<rect x="239.63" y="300.10" width="1.0" height="1.0" fill="#3cbcb0"/>
<rect x="244.07" y="299.08" width="1.0" height="1.0" fill="#18a8d8"/>
<rect x="243.64" y="298.42" width="1.0" height="1.0" fill="#3cbcb0"/>
<rect x="244.95" y="271.83" width="1.0" height="1.0" fill="#2040d0"/>
<rect x="240.93" y="293.85" width="1.0" height="1.0" fill="#1a70e0"/>
<rect x="239.50" y="296.09" width="1.0" height="1.0" fill="#18a8d8"/>
<rect x="235.43" y="300.48" width="1.0" height="1.0" fill="#18a8d8"/>
<rect x="239.09" y="273.36" width="1.0" height="1.0" fill="#1a70e0"/>
<rect x="238.01" y="297.71" width="1.0" height="1.0" fill="#18a8d8"/>
<rect x="238.01" y="298.95" width="1.0" height="1.0" fill="#1a70e0"/>
<rect x="239.37" y="299.19" width="1.0" height="1.0" fill="#c8c850"/>
<rect x="235.89" y="298.43" width="1.0" height="1.0" fill="#2040d0"/>
<rect x="239.20" y="296.82" width="1.0" height="1.0" fill="#18a8d8"/>
<rect x="240.52" y="297.18" width="1.0" height="1.0" fill="#3cbcb0"/>
<rect x="237.28" y="298.74" width="1.0" height="1.0" fill="#3cbcb0"/>
<rect x="241.97" y="293.44" width="1.0" height="1.0" fill="#1a70e0"/>
<rect x="232.03" y="298.10" width="1.0" height="1.0" fill="#2040d0"/>
<rect x="237.62" y="296.34" width="1.0" height="1.0" fill="#1a70e0"/>
<rect x="243.42" y="288.81" width="1.0" height="1.0" fill="#3cbcb0"/>
<rect x="243.25" y="302.82" width="1.0" height="1.0" fill="#1a70e0"/>
<rect x="238.13" y="301.67" width="1.0" height="1.0" fill="#2040d0"/>
<rect x="230.59" y="300.94" width="1.0" height="1.0" fill="#1a70e0"/>
<rect x="232.78" y="300.63" width="1.0" height="1.0" fill="#c8c850"/>
<rect x="232.79" y="301.94" width="1.0" height="1.0" fill="#2040d0"/>
<rect x="238.21" y="303.69" width="1.0" height="1.0" fill="#18a8d8"/>
<rect x="239.74" y="276.61" width="1.0" height="1.0" fill="#18a8d8"/>
<rect x="239.92" y="301.83" width="1.0" height="1.0" fill="#2040d0"/>
<rect x="238.44" y="294.81" width="1.0" height="1.0" fill="#1a70e0"/>
<rect x="235.30" y="290.82" width="1.0" height="1.0" fill="#c8c850"/>
<rect x="244.84" y="300.50" width="1.0" height="1.0" fill="#c8c850"/>
<rect x="232.73" y="294.48" width="1.0" height="1.0" fill="#1a70e0"/>
<rect x="238.72" y="298.04" width="1.0" height="1.0" fill="#18a8d8"/>
<rect x="238.58" y="280.71" width="1.0" height="1.0" fill="#3cbcb0"/>
<rect x="236.59" y="294.14" width="1.0" height="1.0" fill="#1a70e0"/>
<rect x="246.10" y="300.23" width="1.0" height="1.0" fill="#1a70e0"/>
<rect x="241.30" y="294.82" width="1.0" height="1.0" fill="#18a8d8"/>
<rect x="232.89" y="303.93" width="1.0" height="1.0" fill="#18a8d8"/>
<rect x="241.56" y="301.02" width="1.0" height="1.0" fill="#18a8d8"/>
<rect x="239.95" y="284.93" width="1.0" height="1.0" fill="#c8c850"/>
<rect x="228.76" y="298.02" width="1.0" height="1.0" fill="#3cbcb0"/>
<rect x="241.14" y="275.67" width="1.0" height="1.0" fill="#3cbcb0"/>
<rect x="237.26" y="301.59" width="1.0" height="1.0" fill="#3cbcb0"/>
<rect x="245.23" y="277.02" width="1.0" height="1.0" fill="#3cbcb0"/>
<rect x="231.40" y="295.86" width="1.0" height="1.0" fill="#3cbcb0"/>
<rect x="247.71" y="294.97" width="1.0" height="1.0" fill="#1a70e0"/>
<rect x="236.18" y="295.49" width="1.0" height="1.0" fill="#2040d0"/>
<rect x="236.28" y="294.04" width="1.0" height="1.0" fill="#3cbcb0"/>
<rect x="235.33" y="291.56" width="1.0" height="1.0" fill="#3cbcb0"/>
<rect x="240.96" y="297.83" width="1.0" height="1.0" fill="#c8c850"/>
<rect x="235.12" y="296.73" width="1.0" height="1.0" fill="#1a70e0"/>
<rect x="240.50" y="287.53" width="1.0" height="1.0" fill="#3cbcb0"/>
<rect x="238.35" y="304.65" width="1.0" height="1.0" fill="#18a8d8"/>
<rect x="236.86" y="297.10" width="1.0" height="1.0" fill="#3cbcb0"/>
<rect x="238.88" y="296.31" width="1.0" height="1.0" fill="#1a70e0"/>
<rect x="236.79" y="294.68" width="1.0" height="1.0" fill="#2040d0"/>
<rect x="238.27" y="299.68" width="1.0" height="1.0" fill="#3cbcb0"/>
<rect x="237.39" y="287.11" width="1.0" height="1.0" fill="#1a70e0"/>
<rect x="242.46" y="301.67" width="1.0" height="1.0" fill="#c8c850"/>
<rect x="238.15" y="299.48" width="1.0" height="1.0" fill="#3cbcb0"/>
<rect x="240.40" y="275.07" width="1.0" height="1.0" fill="#3cbcb0"/>
<rect x="236.88" y="297.04" width="1.0" height="1.0" fill="#2040d0"/>
<rect x="242.57" y="275.62" width="1.0" height="1.0" fill="#3cbcb0"/>
<rect x="239.48" y="275.84" width="1.0" height="1.0" fill="#18a8d8"/>
<rect x="243.67" y="295.44" width="1.0" height="1.0" fill="#2040d0"/>
<rect x="242.12" y="300.06" width="1.0" height="1.0" fill="#3cbcb0"/>
<rect x="245.11" y="285.52" width="1.0" height="1.0" fill="#1a70e0"/>
<rect x="243.68" y="302.53" width="1.0" height="1.0" fill="#3cbcb0"/>
<rect x="236.06" y="293.16" width="1.0" height="1.0" fill="#18a8d8"/>
<rect x="244.09" y="295.99" width="1.0" height="1.0" fill="#18a8d8"/>
<rect x="239.05" y="303.66" width="1.0" height="1.0" fill="#18a8d8"/>
<rect x="237.34" y="283.96" width="1.0" height="1.0" fill="#18a8d8"/>
<rect x="247.61" y="301.77" width="1.0" height="1.0" fill="#1a70e0"/>
<rect x="241.80" y="292.89" width="1.0" height="1.0" fill="#18a8d8"/>
<rect x="243.57" y="292.70" width="1.0" height="1.0" fill="#1a70e0"/>
<rect x="230.62" y="298.51" width="1.0" height="1.0" fill="#2040d0"/>
<rect x="235.24" y="296.20" width="1.0" height="1.0" fill="#c8c850"/>
<rect x="243.10" y="300.63" width="1.0" height="1.0" fill="#3cbcb0"/>
<rect x="247.51" y="294.55" width="1.0" height="1.0" fill="#18a8d8"/>
<rect x="231.40" y="301.12" width="1.0" height="1.0" fill="#3cbcb0"/>
<rect x="241.41" y="286.19" width="1.0" height="1.0" fill="#1a70e0"/>
<rect x="236.42" y="296.82" width="1.0" height="1.0" fill="#c8c850"/>
<rect x="240.80" y="296.39" width="1.0" height="1.0" fill="#1a70e0"/>
<rect x="230.31" y="297.97" width="1.0" height="1.0" fill="#c8c850"/>
<rect x="242.18" y="293.69" width="1.0" height="1.0" fill="#c8c850"/>
<rect x="237.59" y="293.06" width="1.0" height="1.0" fill="#1a70e0"/>
<rect x="244.83" y="299.84" width="1.0" height="1.0" fill="#c8c850"/>
<rect x="240.20" y="300.29" width="1.0" height="1.0" fill="#18a8d8"/>
<rect x="247.14" y="297.06" width="1.0" height="1.0" fill="#3cbcb0"/>
<rect x="246.88" y="300.76" width="1.0" height="1.0" fill="#3cbcb0"/>
<rect x="237.88" y="296.69" width="1.0" height="1.0" fill="#18a8d8"/>
<rect x="234.34" y="299.40" width="1.0" height="1.0" fill="#c8c850"/>
<rect x="240.47" y="296.59" width="1.0" height="1.0" fill="#18a8d8"/>
<rect x="237.43" y="300.50" width="1.0" height="1.0" fill="#1a70e0"/>
<rect x="240.29" y="295.82" width="1.0" height="1.0" fill="#c8c850"/>
<rect x="244.25" y="283.32" width="1.0" height="1.0" fill="#18a8d8"/>
<rect x="240.92" y="296.94" width="1.0" height="1.0" fill="#1a70e0"/>
<rect x="240.21" y="295.13" width="1.0" height="1.0" fill="#3cbcb0"/>
<rect x="237.29" y="298.99" width="1.0" height="1.0" fill="#2040d0"/>
<rect x="244.88" y="292.65" width="1.0" height="1.0" fill="#3cbcb0"/>
<rect x="239.33" y="273.07" width="1.0" height="1.0" fill="#3cbcb0"/>
<rect x="239.82" y="297.06" width="1.0" height="1.0" fill="#3cbcb0"/>
<rect x="234.93" y="295.80" width="1.0" height="1.0" fill="#18a8d8"/>
<rect x="241.51" y="294.47" width="1.0" height="1.0" fill="#18a8d8"/>
<rect x="239.03" y="298.85" width="1.0" height="1.0" fill="#1a70e0"/>
<rect x="242.69" y="303.40" width="1.0" height="1.0" fill="#2040d0"/>
<rect x="239.88" y="287.40" width="1.0" height="1.0" fill="#1a70e0"/>
<rect x="239.69" y="298.51" width="1.0" height="1.0" fill="#c8c850"/>
<rect x="237.20" y="296.12" width="1.0" height="1.0" fill="#3cbcb0"/>
<rect x="230.55" y="290.48" width="1.0" height="1.0" fill="#3cbcb0"/>
<rect x="241.33" y="300.76" width="1.0" height="1.0" fill="#c8c850"/>
<rect x="241.34" y="281.51" width="1.0" height="1.0" fill="#18a8d8"/>
<rect x="240.72" y="288.09" width="1.0" height="1.0" fill="#2040d0"/>
<rect x="241.86" y="291.94" width="1.0" height="1.0" fill="#18a8d8"/>
<rect x="240.69" y="294.38" width="1.0" height="1.0" fill="#18a8d8"/>
<rect x="237.51" y="305.16" width="1.0" height="1.0" fill="#1a70e0"/>
<rect x="241.14" y="293.07" width="1.0" height="1.0" fill="#3cbcb0"/>
<rect x="233.63" y="302.01" width="1.0" height="1.0" fill="#c8c850"/>
<rect x="242.47" y="298.19" width="1.0" height="1.0" fill="#1a70e0"/>
<rect x="247.59" y="298.36" width="1.0" height="1.0" fill="#1a70e0"/>
<rect x="248.19" y="299.86" width="1.0" height="1.0" fill="#3cbcb0"/>
<rect x="236.82" y="302.14" width="1.0" height="1.0" fill="#c8c850"/>
<rect x="237.63" y="296.28" width="1.0" height="1.0" fill="#18a8d8"/>
<rect x="242.84" y="279.92" width="1.0" height="1.0" fill="#18a8d8"/>
<rect x="243.00" y="293.78" width="1.0" height="1.0" fill="#1a70e0"/>
<rect x="241.04" y="296.85" width="1.0" height="1.0" fill="#1a70e0"/>
<rect x="240.10" y="294.72" width="1.0" height="1.0" fill="#1a70e0"/>
<rect x="240.30" y="298.31" width="1.0" height="1.0" fill="#1a70e0"/>
<rect x="245.71" y="302.54" width="1.0" height="1.0" fill="#1a70e0"/>
<rect x="246.82" y="298.70" width="1.0" height="1.0" fill="#18a8d8"/>
<rect x="252.12" y="299.46" width="1.0" height="1.0" fill="#1a70e0"/>
<rect x="231.72" y="299.42" width="1.0" height="1.0" fill="#2040d0"/>
<rect x="240.73" y="272.34" width="1.0" height="1.0" fill="#18a8d8"/>
<rect x="242.25" y="297.02" width="1.0" height="1.0" fill="#1a70e0"/>
<rect x="242.00" y="285.55" width="1.0" height="1.0" fill="#18a8d8"/>
<rect x="237.87" y="298.07" width="1.0" height="1.0" fill="#2040d0"/>
<rect x="237.49" y="300.31" width="1.0" height="1.0" fill="#18a8d8"/>
<rect x="246.70" y="302.57" width="1.0" height="1.0" fill="#c8c850"/>
<rect x="242.89" y="271.55" width="1.0" height="1.0" fill="#c8c850"/>
<rect x="241.70" y="294.49" width="1.0" height="1.0" fill="#1a70e0"/>
<rect x="240.03" y="296.74" width="1.0" height="1.0" fill="#18a8d8"/>
<rect x="238.40" y="301.21" width="1.0" height="1.0" fill="#18a8d8"/>
<rect x="247.50" y="298.94" width="1.0" height="1.0" fill="#c8c850"/>
<rect x="243.98" y="301.32" width="1.0" height="1.0" fill="#18a8d8"/>
<rect x="248.55" y="303.78" width="1.0" height="1.0" fill="#3cbcb0"/>
<rect x="245.28" y="300.98" width="1.0" height="1.0" fill="#c8c850"/>
<rect x="239.24" y="273.73" width="1.0" height="1.0" fill="#1a70e0"/>
<rect x="242.20" y="290.82" width="1.0" height="1.0" fill="#1a70e0"/>
<rect x="232.11" y="299.44" width="1.0" height="1.0" fill="#1a70e0"/>
<rect x="240.46" y="294.39" width="1.0" height="1.0" fill="#3cbcb0"/>
<rect x="238.90" y="293.63" width="1.0" height="1.0" fill="#1a70e0"/>
<rect x="231.80" y="303.37" width="1.0" height="1.0" fill="#1a70e0"/>
<rect x="235.24" y="295.29" width="1.0" height="1.0" fill="#3cbcb0"/>
<rect x="236.61" y="275.46" width="1.0" height="1.0" fill="#2040d0"/>
<rect x="238.61" y="295.58" width="1.0" height="1.0" fill="#3cbcb0"/>
<rect x="238.64" y="299.31" width="1.0" height="1.0" fill="#3cbcb0"/>
<rect x="243.90" y="285.89" width="1.0" height="1.0" fill="#c8c850"/>
<rect x="238.96" y="288.06" width="1.0" height="1.0" fill="#18a8d8"/>
<rect x="238.75" y="298.35" width="1.0" height="1.0" fill="#18a8d8"/>
<rect x="238.71" y="291.76" width="1.0" height="1.0" fill="#1a70e0"/>
<rect x="243.82" y="288.98" width="1.0" height="1.0" fill="#3cbcb0"/>
<rect x="241.20" y="295.45" width="1.0" height="1.0" fill="#1a70e0"/>
<rect x="228.64" y="296.01" width="1.0" height="1.0" fill="#18a8d8"/>
<rect x="236.36" y="294.68" width="1.0" height="1.0" fill="#2040d0"/>
<rect x="245.14" y="295.40" width="1.0" height="1.0" fill="#2040d0"/>
<rect x="240.33" y="300.64" width="1.0" height="1.0" fill="#2040d0"/>
<rect x="239.06" y="303.22" width="1.0" height="1.0" fill="#2040d0"/>
<rect x="233.44" y="299.91" width="1.0" height="1.0" fill="#1a70e0"/>
<rect x="239.56" y="295.51" width="1.0" height="1.0" fill="#18a8d8"/>
<rect x="238.44" y="295.89" width="1.0" height="1.0" fill="#18a8d8"/>
<rect x="237.80" y="285.65" width="1.0" height="1.0" fill="#1a70e0"/>
<rect x="236.10" y="297.60" width="1.0" height="1.0" fill="#18a8d8"/>
<rect x="240.97" y="296.82" width="1.0" height="1.0" fill="#18a8d8"/>
<rect x="241.32" y="302.94" width="1.0" height="1.0" fill="#18a8d8"/>
<rect x="238.25" y="298.66" width="1.0" height="1.0" fill="#3cbcb0"/>
<rect x="241.28" y="296.67" width="1.0" height="1.0" fill="#1a70e0"/>
<rect x="235.17" y="300.75" width="1.0" height="1.0" fill="#c8c850"/>
<rect x="237.88" y="299.12" width="1.0" height="1.0" fill="#c8c850"/>
<rect x="239.11" y="286.26" width="1.0" height="1.0" fill="#18a8d8"/>
<rect x="242.94" y="304.65" width="1.0" height="1.0" fill="#18a8d8"/>
<rect x="234.09" y="295.48" width="1.0" height="1.0" fill="#18a8d8"/>
<rect x="249.54" y="303.39" width="1.0" height="1.0" fill="#3cbcb0"/>
<rect x="236.73" y="297.01" width="1.0" height="1.0" fill="#18a8d8"/>
<rect x="240.86" y="296.61" width="1.0" height="1.0" fill="#2040d0"/>
<rect x="239.10" y="296.23" width="1.0" height="1.0" fill="#1a70e0"/>
<rect x="236.01" y="300.99" width="1.0" height="1.0" fill="#18a8d8"/>
<rect x="240.50" y="295.41" width="1.0" height="1.0" fill="#3cbcb0"/>
<rect x="239.96" y="300.14" width="1.0" height="1.0" fill="#18a8d8"/>
<rect x="235.42" y="301.54" width="1.0" height="1.0" fill="#3cbcb0"/>
<rect x="238.34" y="272.61" width="1.0" height="1.0" fill="#18a8d8"/>
<rect x="232.49" y="296.48" width="1.0" height="1.0" fill="#3cbcb0"/>
<rect x="240.31" y="299.37" width="1.0" height="1.0" fill="#3cbcb0"/>
<rect x="240.70" y="298.43" width="1.0" height="1.0" fill="#18a8d8"/>
<rect x="244.10" y="295.61" width="1.0" height="1.0" fill="#2040d0"/>
<rect x="243.21" y="300.11" width="1.0" height="1.0" fill="#1a70e0"/>
<rect x="240.82" y="303.80" width="1.0" height="1.0" fill="#c8c850"/>
<rect x="231.48" y="301.78" width="1.0" height="1.0" fill="#18a8d8"/>
<rect x="237.68" y="299.50" width="1.0" height="1.0" fill="#18a8d8"/>
<rect x="237.27" y="301.26" width="1.0" height="1.0" fill="#1a70e0"/>
<rect x="237.31" y="295.24" width="1.0" height="1.0" fill="#18a8d8"/>
<rect x="240.59" y="296.93" width="1.0" height="1.0" fill="#2040d0"/>
<rect x="241.16" y="298.21" width="1.0" height="1.0" fill="#1a70e0"/>
<rect x="240.08" y="301.68" width="1.0" height="1.0" fill="#1a70e0"/>
<rect x="240.24" y="298.39" width="1.0" height="1.0" fill="#1a70e0"/>
<rect x="244.53" y="301.65" width="1.0" height="1.0" fill="#2040d0"/>
<rect x="245.63" y="299.97" width="1.0" height="1.0" fill="#2040d0"/>
<rect x="236.28" y="298.64" width="1.0" height="1.0" fill="#2040d0"/>
<rect x="245.24" y="298.18" width="1.0" height="1.0" fill="#3cbcb0"/>
<rect x="240.64" y="299.97" width="1.0" height="1.0" fill="#1a70e0"/>
<rect x="243.91" y="280.34" width="1.0" height="1.0" fill="#1a70e0"/>
<rect x="242.47" y="297.23" width="1.0" height="1.0" fill="#3cbcb0"/>
<rect x="244.24" y="296.77" width="1.0" height="1.0" fill="#2040d0"/>
<rect x="241.21" y="304.11" width="1.0" height="1.0" fill="#18a8d8"/>
<rect x="241.33" y="281.54" width="1.0" height="1.0" fill="#3cbcb0"/>
<rect x="250.34" y="295.29" width="1.0" height="1.0" fill="#18a8d8"/>
<rect x="244.83" y="301.25" width="1.0" height="1.0" fill="#18a8d8"/>
<rect x="246.37" y="297.82" width="1.0" height="1.0" fill="#1a70e0"/>
<rect x="244.23" y="299.59" width="1.0" height="1.0" fill="#18a8d8"/>
<rect x="241.74" y="274.78" width="1.0" height="1.0" fill="#18a8d8"/>
<rect x="231.68" y="294.63" width="1.0" height="1.0" fill="#18a8d8"/>
<rect x="242.33" y="301.80" width="1.0" height="1.0" fill="#3cbcb0"/>
<rect x="244.34" y="294.86" width="1.0" height="1.0" fill="#c8c850"/>
<rect x="242.60" y="277.42" width="1.0" height="1.0" fill="#18a8d8"/>
<rect x="239.70" y="273.79" width="1.0" height="1.0" fill="#18a8d8"/>
<rect x="236.78" y="306.36" width="1.0" height="1.0" fill="#c8c850"/>
<rect x="231.28" y="296.82" width="1.0" height="1.0" fill="#c8c850"/>
<rect x="237.37" y="297.87" width="1.0" height="1.0" fill="#18a8d8"/>
<rect x="232.88" y="294.94" width="1.0" height="1.0" fill="#c8c850"/>
<rect x="244.67" y="275.74" width="1.0" height="1.0" fill="#1a70e0"/>
<rect x="243.72" y="297.10" width="1.0" height="1.0" fill="#18a8d8"/>
<rect x="236.41" y="293.09" width="1.0" height="1.0" fill="#18a8d8"/>
<rect x="238.53" y="295.35" width="1.0" height="1.0" fill="#1a70e0"/>
<rect x="236.08" y="301.74" width="1.0" height="1.0" fill="#1a70e0"/>
<rect x="239.79" y="296.75" width="1.0" height="1.0" fill="#2040d0"/>
<rect x="237.33" y="298.38" width="1.0" height="1.0" fill="#2040d0"/>
<rect x="244.04" y="290.91" width="1.0" height="1.0" fill="#2040d0"/>
<rect x="245.43" y="297.71" width="1.0" height="1.0" fill="#1a70e0"/>
<rect x="235.46" y="299.63" width="1.0" height="1.0" fill="#18a8d8"/>
<rect x="241.69" y="299.74" width="1.0" height="1.0" fill="#3cbcb0"/>
<rect x="240.02" y="301.85" width="1.0" height="1.0" fill="#2040d0"/>
<rect x="242.17" y="294.82" width="1.0" height="1.0" fill="#3cbcb0"/>
<rect x="244.79" y="297.38" width="1.0" height="1.0" fill="#1a70e0"/>
<rect x="239.59" y="292.22" width="1.0" height="1.0" fill="#1a70e0"/>
<rect x="244.62" y="285.63" width="1.0" height="1.0" fill="#1a70e0"/>
<rect x="242.28" y="297.54" width="1.0" height="1.0" fill="#1a70e0"/>
<rect x="239.21" y="304.12" width="1.0" height="1.0" fill="#1a70e0"/>
<rect x="239.26" y="290.75" width="1.0" height="1.0" fill="#18a8d8"/>
<rect x="237.99" y="297.60" width="1.0" height="1.0" fill="#18a8d8"/>
<rect x="236.11" y="300.36" width="1.0" height="1.0" fill="#18a8d8"/>
<rect x="245.38" y="297.51" width="1.0" height="1.0" fill="#2040d0"/>
<rect x="246.25" y="303.81" width="1.0" height="1.0" fill="#2040d0"/>
<rect x="246.10" y="295.95" width="1.0" height="1.0" fill="#3cbcb0"/>
<rect x="208.82" y="298.82" width="1.0" height="1.0" fill="#3448f0"/>
<rect x="207.53" y="301.87" width="1.0" height="1.0" fill="#3448f0"/>
<rect x="206.38" y="303.58" width="1.0" height="1.0" fill="#2060f0"/>
<rect x="208.05" y="300.68" width="1.0" height="1.0" fill="#2060f0"/>
<rect x="210.77" y="299.61" width="1.0" height="1.0" fill="#3448f0"/>
<rect x="208.63" y="303.54" width="1.0" height="1.0" fill="#3448f0"/>
<rect x="204.51" y="302.92" width="1.0" height="1.0" fill="#3448f0"/>
<rect x="209.41" y="300.67" width="1.0" height="1.0" fill="#4a40c0"/>
<rect x="204.09" y="301.31" width="1.0" height="1.0" fill="#2060f0"/>
<rect x="204.86" y="302.24" width="1.0" height="1.0" fill="#4a40c0"/>
<rect x="209.95" y="301.41" width="1.0" height="1.0" fill="#3448f0"/>
<rect x="204.11" y="299.53" width="1.0" height="1.0" fill="#3448f0"/>
<rect x="203.02" y="302.02" width="1.0" height="1.0" fill="#3448f0"/>
<rect x="209.34" y="299.91" width="1.0" height="1.0" fill="#3448f0"/>
<rect x="204.50" y="298.59" width="1.0" height="1.0" fill="#2060f0"/>
<rect x="207.54" y="304.47" width="1.0" height="1.0" fill="#3448f0"/>
<rect x="206.84" y="300.20" width="1.0" height="1.0" fill="#2060f0"/>
<rect x="209.73" y="297.44" width="1.0" height="1.0" fill="#3448f0"/>
<rect x="202.16" y="299.78" width="1.0" height="1.0" fill="#3448f0"/>
<rect x="209.69" y="301.87" width="1.0" height="1.0" fill="#4a40c0"/>
<rect x="207.62" y="302.62" width="1.0" height="1.0" fill="#90c060"/>
<rect x="202.21" y="301.52" width="1.0" height="1.0" fill="#3448f0"/>
<rect x="203.77" y="300.87" width="1.0" height="1.0" fill="#2060f0"/>
<rect x="205.10" y="301.59" width="1.0" height="1.0" fill="#3448f0"/>
<rect x="206.46" y="303.96" width="1.0" height="1.0" fill="#18a0e0"/>
<rect x="211.09" y="299.58" width="1.0" height="1.0" fill="#3448f0"/>
<rect x="206.43" y="298.33" width="1.0" height="1.0" fill="#3448f0"/>
<rect x="205.86" y="300.43" width="1.0" height="1.0" fill="#4a40c0"/>
<rect x="202.76" y="301.66" width="1.0" height="1.0" fill="#3448f0"/>
<rect x="206.64" y="299.33" width="1.0" height="1.0" fill="#2060f0"/>
<rect x="206.21" y="301.34" width="1.0" height="1.0" fill="#3448f0"/>
<rect x="208.33" y="300.12" width="1.0" height="1.0" fill="#3448f0"/>
<rect x="201.50" y="296.24" width="1.0" height="1.0" fill="#18a0e0"/>
<rect x="208.03" y="300.24" width="1.0" height="1.0" fill="#3448f0"/>
<rect x="205.14" y="299.84" width="1.0" height="1.0" fill="#3448f0"/>
<rect x="204.35" y="305.79" width="1.0" height="1.0" fill="#3448f0"/>
<rect x="205.30" y="298.01" width="1.0" height="1.0" fill="#3448f0"/>
<rect x="206.80" y="304.33" width="1.0" height="1.0" fill="#4a40c0"/>
<rect x="207.88" y="300.14" width="1.0" height="1.0" fill="#3448f0"/>
<rect x="206.44" y="305.70" width="1.0" height="1.0" fill="#3448f0"/>
<rect x="209.87" y="300.11" width="1.0" height="1.0" fill="#3448f0"/>
<rect x="210.48" y="301.66" width="1.0" height="1.0" fill="#3448f0"/>
<rect x="206.64" y="296.92" width="1.0" height="1.0" fill="#3448f0"/>
<rect x="204.98" y="302.73" width="1.0" height="1.0" fill="#3448f0"/>
<rect x="210.08" y="300.41" width="1.0" height="1.0" fill="#3448f0"/>
<rect x="207.18" y="302.08" width="1.0" height="1.0" fill="#3448f0"/>
<rect x="205.76" y="300.73" width="1.0" height="1.0" fill="#18a0e0"/>
<rect x="200.32" y="295.57" width="1.0" height="1.0" fill="#2060f0"/>
<rect x="207.15" y="300.41" width="1.0" height="1.0" fill="#2060f0"/>
<rect x="208.93" y="300.88" width="1.0" height="1.0" fill="#3448f0"/>
<rect x="204.58" y="302.01" width="1.0" height="1.0" fill="#4a40c0"/>
<rect x="205.67" y="300.12" width="1.0" height="1.0" fill="#3448f0"/>
<rect x="207.73" y="294.41" width="1.0" height="1.0" fill="#3448f0"/>
<rect x="207.59" y="302.18" width="1.0" height="1.0" fill="#3448f0"/>
<rect x="204.12" y="300.93" width="1.0" height="1.0" fill="#3448f0"/>
<rect x="203.53" y="297.44" width="1.0" height="1.0" fill="#18a0e0"/>
<rect x="208.46" y="300.72" width="1.0" height="1.0" fill="#4a40c0"/>
<rect x="205.82" y="297.30" width="1.0" height="1.0" fill="#90c060"/>
<rect x="202.41" y="299.01" width="1.0" height="1.0" fill="#4a40c0"/>
<rect x="210.64" y="300.79" width="1.0" height="1.0" fill="#3448f0"/>
<rect x="208.56" y="299.71" width="1.0" height="1.0" fill="#3448f0"/>
<rect x="208.10" y="301.69" width="1.0" height="1.0" fill="#3448f0"/>
<rect x="211.86" y="297.98" width="1.0" height="1.0" fill="#4a40c0"/>
<rect x="201.75" y="301.17" width="1.0" height="1.0" fill="#4a40c0"/>
<rect x="212.06" y="304.54" width="1.0" height="1.0" fill="#4a40c0"/>
<rect x="205.74" y="301.65" width="1.0" height="1.0" fill="#2060f0"/>
<rect x="204.10" y="297.92" width="1.0" height="1.0" fill="#3448f0"/>
<rect x="209.52" y="299.07" width="1.0" height="1.0" fill="#4a40c0"/>
<rect x="205.40" y="298.61" width="1.0" height="1.0" fill="#4a40c0"/>
<rect x="210.30" y="301.87" width="1.0" height="1.0" fill="#18a0e0"/>
<rect x="204.98" y="300.88" width="1.0" height="1.0" fill="#2060f0"/>
<rect x="201.94" y="305.24" width="1.0" height="1.0" fill="#3448f0"/>
<rect x="207.62" y="299.07" width="1.0" height="1.0" fill="#4a40c0"/>
<rect x="206.68" y="301.89" width="1.0" height="1.0" fill="#3448f0"/>
<rect x="200.66" y="300.10" width="1.0" height="1.0" fill="#3448f0"/>
<rect x="207.72" y="300.76" width="1.0" height="1.0" fill="#4a40c0"/>
<rect x="206.55" y="301.12" width="1.0" height="1.0" fill="#3448f0"/>
<rect x="207.02" y="300.92" width="1.0" height="1.0" fill="#3448f0"/>
<rect x="204.21" y="297.77" width="1.0" height="1.0" fill="#90c060"/>
<rect x="208.81" y="299.86" width="1.0" height="1.0" fill="#18a0e0"/>
<rect x="209.55" y="296.36" width="1.0" height="1.0" fill="#2060f0"/>
<rect x="207.07" y="299.31" width="1.0" height="1.0" fill="#2060f0"/>
<rect x="211.09" y="303.30" width="1.0" height="1.0" fill="#4a40c0"/>
<rect x="208.22" y="298.49" width="1.0" height="1.0" fill="#3448f0"/>
<rect x="205.64" y="303.38" width="1.0" height="1.0" fill="#3448f0"/>
<rect x="203.27" y="299.64" width="1.0" height="1.0" fill="#90c060"/>
<rect x="207.95" y="300.62" width="1.0" height="1.0" fill="#18a0e0"/>
<rect x="204.69" y="303.87" width="1.0" height="1.0" fill="#3448f0"/>
<rect x="206.78" y="300.53" width="1.0" height="1.0" fill="#3448f0"/>
<rect x="203.20" y="296.97" width="1.0" height="1.0" fill="#4a40c0"/>
<rect x="205.26" y="300.03" width="1.0" height="1.0" fill="#2060f0"/>
<rect x="207.50" y="301.49" width="1.0" height="1.0" fill="#18a0e0"/>
<rect x="204.20" y="303.34" width="1.0" height="1.0" fill="#3448f0"/>
<rect x="205.86" y="299.73" width="1.0" height="1.0" fill="#3448f0"/>
<rect x="199.97" y="300.37" width="1.0" height="1.0" fill="#2060f0"/>
<rect x="208.29" y="302.07" width="1.0" height="1.0" fill="#3448f0"/>
<rect x="209.13" y="300.40" width="1.0" height="1.0" fill="#90c060"/>
<rect x="204.69" y="303.82" width="1.0" height="1.0" fill="#4a40c0"/>
<rect x="206.00" y="302.96" width="1.0" height="1.0" fill="#2060f0"/>
<rect x="211.42" y="301.27" width="1.0" height="1.0" fill="#3448f0"/>
<rect x="200.57" y="302.33" width="1.0" height="1.0" fill="#3448f0"/>
<rect x="205.15" y="296.29" width="1.0" height="1.0" fill="#18a0e0"/>
<rect x="205.91" y="303.53" width="1.0" height="1.0" fill="#18a0e0"/>
<rect x="205.10" y="299.86" width="1.0" height="1.0" fill="#2060f0"/>
<rect x="205.45" y="301.76" width="1.0" height="1.0" fill="#2060f0"/>
<rect x="203.32" y="300.90" width="1.0" height="1.0" fill="#3448f0"/>
<rect x="208.17" y="298.54" width="1.0" height="1.0" fill="#3448f0"/>
<rect x="205.75" y="303.01" width="1.0" height="1.0" fill="#2060f0"/>
<rect x="206.09" y="300.98" width="1.0" height="1.0" fill="#3448f0"/>
<rect x="204.01" y="299.64" width="1.0" height="1.0" fill="#2060f0"/>
<rect x="205.82" y="302.22" width="1.0" height="1.0" fill="#2060f0"/>
<rect x="204.97" y="300.33" width="1.0" height="1.0" fill="#2060f0"/>
<rect x="201.58" y="300.57" width="1.0" height="1.0" fill="#4a40c0"/>
<rect x="203.91" y="301.64" width="1.0" height="1.0" fill="#18a0e0"/>
<rect x="205.60" y="300.13" width="1.0" height="1.0" fill="#3448f0"/>
<rect x="206.40" y="301.96" width="1.0" height="1.0" fill="#3448f0"/>
<rect x="202.11" y="297.96" width="1.0" height="1.0" fill="#90c060"/>
<rect x="206.96" y="299.07" width="1.0" height="1.0" fill="#3448f0"/>
<rect x="209.95" y="301.41" width="1.0" height="1.0" fill="#3448f0"/>
<rect x="207.52" y="299.62" width="1.0" height="1.0" fill="#3448f0"/>
<rect x="204.45" y="301.18" width="1.0" height="1.0" fill="#3448f0"/>
<rect x="207.12" y="299.95" width="1.0" height="1.0" fill="#3448f0"/>
<rect x="208.93" y="298.65" width="1.0" height="1.0" fill="#90c060"/>
<rect x="206.37" y="295.72" width="1.0" height="1.0" fill="#3448f0"/>
<rect x="206.56" y="301.95" width="1.0" height="1.0" fill="#3448f0"/>
<rect x="209.42" y="301.42" width="1.0" height="1.0" fill="#2060f0"/>
<rect x="206.92" y="303.19" width="1.0" height="1.0" fill="#3448f0"/>
<rect x="205.43" y="299.17" width="1.0" height="1.0" fill="#2060f0"/>
<rect x="207.14" y="300.02" width="1.0" height="1.0" fill="#18a0e0"/>
<rect x="206.97" y="300.78" width="1.0" height="1.0" fill="#4a40c0"/>
<rect x="205.87" y="300.72" width="1.0" height="1.0" fill="#2060f0"/>
<rect x="203.50" y="302.96" width="1.0" height="1.0" fill="#3448f0"/>
<rect x="204.69" y="300.17" width="1.0" height="1.0" fill="#2060f0"/>
<rect x="209.28" y="300.50" width="1.0" height="1.0" fill="#3448f0"/>
<rect x="199.44" y="298.14" width="1.0" height="1.0" fill="#4a40c0"/>
<rect x="209.94" y="298.21" width="1.0" height="1.0" fill="#3448f0"/>
<rect x="203.82" y="303.61" width="1.0" height="1.0" fill="#3448f0"/>
<rect x="204.84" y="301.45" width="1.0" height="1.0" fill="#18a0e0"/>
<rect x="207.22" y="301.16" width="1.0" height="1.0" fill="#3448f0"/>
<rect x="205.40" y="298.45" width="1.0" height="1.0" fill="#3448f0"/>
<rect x="206.40" y="302.61" width="1.0" height="1.0" fill="#3448f0"/>
<rect x="204.47" y="303.84" width="1.0" height="1.0" fill="#3448f0"/>
<rect x="204.35" y="299.92" width="1.0" height="1.0" fill="#2060f0"/>
<rect x="208.32" y="301.38" width="1.0" height="1.0" fill="#3448f0"/>
<rect x="203.96" y="299.41" width="1.0" height="1.0" fill="#18a0e0"/>
<rect x="207.66" y="299.29" width="1.0" height="1.0" fill="#3448f0"/>
<rect x="205.47" y="301.56" width="1.0" height="1.0" fill="#2060f0"/>
<rect x="204.56" y="302.43" width="1.0" height="1.0" fill="#3448f0"/>
<rect x="206.24" y="301.42" width="1.0" height="1.0" fill="#3448f0"/>
<rect x="204.57" y="302.61" width="1.0" height="1.0" fill="#2060f0"/>
<rect x="206.75" y="300.10" width="1.0" height="1.0" fill="#18a0e0"/>
<rect x="200.17" y="296.28" width="1.0" height="1.0" fill="#3448f0"/>
<rect x="204.08" y="303.09" width="1.0" height="1.0" fill="#3448f0"/>
<rect x="204.69" y="300.95" width="1.0" height="1.0" fill="#3448f0"/>
<rect x="200.66" y="304.72" width="1.0" height="1.0" fill="#4a40c0"/>
<rect x="209.03" y="296.05" width="1.0" height="1.0" fill="#3448f0"/>
<rect x="201.76" y="302.06" width="1.0" height="1.0" fill="#3448f0"/>
<rect x="206.48" y="300.20" width="1.0" height="1.0" fill="#3448f0"/>
<rect x="202.32" y="301.73" width="1.0" height="1.0" fill="#2060f0"/>
<rect x="207.45" y="298.28" width="1.0" height="1.0" fill="#3448f0"/>
<rect x="199.69" y="303.33" width="1.0" height="1.0" fill="#3448f0"/>
<rect x="205.62" y="300.97" width="1.0" height="1.0" fill="#90c060"/>
<rect x="207.96" y="304.44" width="1.0" height="1.0" fill="#3448f0"/>
<rect x="205.86" y="301.54" width="1.0" height="1.0" fill="#3448f0"/>
<rect x="207.40" y="300.94" width="1.0" height="1.0" fill="#3448f0"/>
<rect x="205.06" y="300.76" width="1.0" height="1.0" fill="#3448f0"/>
<rect x="205.36" y="301.73" width="1.0" height="1.0" fill="#3448f0"/>
<rect x="202.58" y="303.19" width="1.0" height="1.0" fill="#3448f0"/>
<rect x="203.52" y="296.82" width="1.0" height="1.0" fill="#18a0e0"/>
<rect x="209.94" y="303.43" width="1.0" height="1.0" fill="#3448f0"/>
<rect x="204.23" y="301.98" width="1.0" height="1.0" fill="#2060f0"/>
<rect x="208.37" y="304.96" width="1.0" height="1.0" fill="#4a40c0"/>
<rect x="206.14" y="300.77" width="1.0" height="1.0" fill="#4a40c0"/>
<rect x="205.97" y="298.19" width="1.0" height="1.0" fill="#2060f0"/>
<rect x="208.06" y="300.69" width="1.0" height="1.0" fill="#90c060"/>
<rect x="203.26" y="305.86" width="1.0" height="1.0" fill="#2060f0"/>
<rect x="204.29" y="300.13" width="1.0" height="1.0" fill="#3448f0"/>
<rect x="208.40" y="304.21" width="1.0" height="1.0" fill="#4a40c0"/>
<rect x="203.28" y="303.92" width="1.0" height="1.0" fill="#2060f0"/>
<rect x="198.55" y="299.46" width="1.0" height="1.0" fill="#3448f0"/>
<rect x="210.13" y="300.01" width="1.0" height="1.0" fill="#18a0e0"/>
<rect x="204.98" y="299.24" width="1.0" height="1.0" fill="#18a0e0"/>
<rect x="206.15" y="305.40" width="1.0" height="1.0" fill="#4a40c0"/>
<rect x="209.10" y="303.21" width="1.0" height="1.0" fill="#2060f0"/>
<rect x="209.68" y="303.44" width="1.0" height="1.0" fill="#3448f0"/>
<rect x="204.02" y="301.86" width="1.0" height="1.0" fill="#4a40c0"/>
<rect x="205.53" y="302.41" width="1.0" height="1.0" fill="#3448f0"/>
<rect x="207.31" y="302.64" width="1.0" height="1.0" fill="#2060f0"/>
<rect x="203.89" y="300.85" width="1.0" height="1.0" fill="#2060f0"/>
<rect x="210.37" y="303.10" width="1.0" height="1.0" fill="#2060f0"/>
<rect x="207.81" y="301.71" width="1.0" height="1.0" fill="#3448f0"/>
<rect x="209.84" y="297.60" width="1.0" height="1.0" fill="#18a0e0"/>
<rect x="210.41" y="303.32" width="1.0" height="1.0" fill="#2060f0"/>
<rect x="205.96" y="302.33" width="1.0" height="1.0" fill="#3448f0"/>
<rect x="201.75" y="302.46" width="1.0" height="1.0" fill="#90c060"/>
<rect x="203.93" y="299.91" width="1.0" height="1.0" fill="#2060f0"/>
<rect x="206.23" y="303.04" width="1.0" height="1.0" fill="#3448f0"/>
<rect x="209.22" y="303.74" width="1.0" height="1.0" fill="#2060f0"/>
<rect x="205.75" y="303.13" width="1.0" height="1.0" fill="#3448f0"/>
<rect x="208.82" y="301.02" width="1.0" height="1.0" fill="#3448f0"/>
<rect x="210.96" y="300.07" width="1.0" height="1.0" fill="#18a0e0"/>
<rect x="206.16" y="301.46" width="1.0" height="1.0" fill="#3448f0"/>
<rect x="205.56" y="297.56" width="1.0" height="1.0" fill="#2060f0"/>
<rect x="206.83" y="298.17" width="1.0" height="1.0" fill="#3448f0"/>
<rect x="211.23" y="303.64" width="1.0" height="1.0" fill="#3448f0"/>
<rect x="209.75" y="302.01" width="1.0" height="1.0" fill="#3448f0"/>
<rect x="208.93" y="303.62" width="1.0" height="1.0" fill="#3448f0"/>
<rect x="211.33" y="301.37" width="1.0" height="1.0" fill="#18a0e0"/>
<rect x="204.00" y="301.86" width="1.0" height="1.0" fill="#2060f0"/>
<rect x="211.78" y="304.72" width="1.0" height="1.0" fill="#2060f0"/>
<rect x="205.16" y="296.77" width="1.0" height="1.0" fill="#3448f0"/>
<rect x="204.91" y="304.97" width="1.0" height="1.0" fill="#4a40c0"/>
<rect x="209.46" y="299.49" width="1.0" height="1.0" fill="#3448f0"/>
<rect x="201.94" y="297.01" width="1.0" height="1.0" fill="#90c060"/>
<rect x="207.15" y="302.15" width="1.0" height="1.0" fill="#2060f0"/>
<rect x="205.26" y="298.89" width="1.0" height="1.0" fill="#3448f0"/>
<rect x="205.08" y="302.62" width="1.0" height="1.0" fill="#3448f0"/>
<rect x="208.31" y="300.76" width="1.0" height="1.0" fill="#2060f0"/>
<rect x="208.57" y="301.22" width="1.0" height="1.0" fill="#3448f0"/>
<rect x="202.41" y="302.59" width="1.0" height="1.0" fill="#90c060"/>
<rect x="204.30" y="302.20" width="1.0" height="1.0" fill="#2060f0"/>
<rect x="205.83" y="303.12" width="1.0" height="1.0" fill="#3448f0"/>
<rect x="205.45" y="300.79" width="1.0" height="1.0" fill="#3448f0"/>
<rect x="206.60" y="302.28" width="1.0" height="1.0" fill="#2060f0"/>
<rect x="207.55" y="296.06" width="1.0" height="1.0" fill="#2060f0"/>
<rect x="203.47" y="297.51" width="1.0" height="1.0" fill="#2060f0"/>
<rect x="211.02" y="296.78" width="1.0" height="1.0" fill="#2060f0"/>
<rect x="204.56" y="299.08" width="1.0" height="1.0" fill="#3448f0"/>
<rect x="208.83" y="302.62" width="1.0" height="1.0" fill="#90c060"/>
<rect x="205.61" y="301.28" width="1.0" height="1.0" fill="#2060f0"/>
<rect x="206.15" y="301.72" width="1.0" height="1.0" fill="#3448f0"/>
<rect x="209.09" y="302.70" width="1.0" height="1.0" fill="#2060f0"/>
<rect x="202.57" y="307.13" width="1.0" height="1.0" fill="#2060f0"/>
<rect x="202.26" y="300.97" width="1.0" height="1.0" fill="#3448f0"/>
<rect x="205.84" y="295.81" width="1.0" height="1.0" fill="#3448f0"/>
<rect x="209.17" y="300.73" width="1.0" height="1.0" fill="#3448f0"/>
<rect x="205.85" y="303.40" width="1.0" height="1.0" fill="#4a40c0"/>
<rect x="203.93" y="302.48" width="1.0" height="1.0" fill="#3448f0"/>
<rect x="206.15" y="301.50" width="1.0" height="1.0" fill="#18a0e0"/>
<rect x="204.91" y="300.50" width="1.0" height="1.0" fill="#3448f0"/>
<rect x="211.53" y="298.45" width="1.0" height="1.0" fill="#3448f0"/>
<rect x="212.30" y="300.73" width="1.0" height="1.0" fill="#4a40c0"/>
<rect x="205.05" y="302.06" width="1.0" height="1.0" fill="#2060f0"/>
<rect x="205.85" y="300.84" width="1.0" height="1.0" fill="#3448f0"/>
<rect x="207.52" y="298.13" width="1.0" height="1.0" fill="#90c060"/>
<rect x="200.31" y="304.07" width="1.0" height="1.0" fill="#2060f0"/>
<rect x="205.85" y="302.88" width="1.0" height="1.0" fill="#2060f0"/>
<rect x="209.68" y="298.01" width="1.0" height="1.0" fill="#3448f0"/>
<rect x="210.49" y="301.81" width="1.0" height="1.0" fill="#3448f0"/>
<rect x="207.23" y="297.64" width="1.0" height="1.0" fill="#3448f0"/>
<rect x="203.44" y="298.12" width="1.0" height="1.0" fill="#2060f0"/>
<rect x="205.94" y="298.65" width="1.0" height="1.0" fill="#3448f0"/>
<rect x="207.76" y="303.15" width="1.0" height="1.0" fill="#3448f0"/>
<rect x="207.01" y="301.07" width="1.0" height="1.0" fill="#4a40c0"/>
<rect x="203.99" y="301.05" width="1.0" height="1.0" fill="#3448f0"/>
<rect x="207.19" y="299.49" width="1.0" height="1.0" fill="#4a40c0"/>
<rect x="207.59" y="301.57" width="1.0" height="1.0" fill="#4a40c0"/>
<rect x="209.96" y="298.51" width="1.0" height="1.0" fill="#18a0e0"/>
<rect x="206.94" y="299.90" width="1.0" height="1.0" fill="#3448f0"/>
<rect x="204.96" y="302.72" width="1.0" height="1.0" fill="#3448f0"/>
<rect x="207.20" y="299.63" width="1.0" height="1.0" fill="#3448f0"/>
<rect x="203.72" y="295.85" width="1.0" height="1.0" fill="#3448f0"/>
<rect x="205.52" y="302.06" width="1.0" height="1.0" fill="#3448f0"/>
<rect x="207.90" y="303.91" width="1.0" height="1.0" fill="#3448f0"/>
<rect x="203.73" y="301.34" width="1.0" height="1.0" fill="#3448f0"/>
<rect x="206.71" y="302.83" width="1.0" height="1.0" fill="#3448f0"/>
<rect x="202.81" y="300.46" width="1.0" height="1.0" fill="#3448f0"/>
<rect x="205.34" y="300.48" width="1.0" height="1.0" fill="#2060f0"/>
<rect x="207.08" y="300.45" width="1.0" height="1.0" fill="#3448f0"/>
<rect x="202.84" y="299.87" width="1.0" height="1.0" fill="#2060f0"/>
<rect x="203.48" y="304.99" width="1.0" height="1.0" fill="#3448f0"/>
<rect x="209.17" y="301.38" width="1.0" height="1.0" fill="#3448f0"/>
<rect x="208.68" y="303.86" width="1.0" height="1.0" fill="#90c060"/>
<rect x="208.16" y="300.12" width="1.0" height="1.0" fill="#2060f0"/>
<rect x="207.83" y="301.38" width="1.0" height="1.0" fill="#2060f0"/>
<rect x="208.69" y="299.84" width="1.0" height="1.0" fill="#3448f0"/>
<rect x="206.66" y="294.52" width="1.0" height="1.0" fill="#18a0e0"/>
<rect x="203.80" y="303.10" width="1.0" height="1.0" fill="#3448f0"/>
<rect x="207.87" y="302.13" width="1.0" height="1.0" fill="#3448f0"/>
<rect x="209.77" y="301.66" width="1.0" height="1.0" fill="#18a0e0"/>
<rect x="203.91" y="301.98" width="1.0" height="1.0" fill="#3448f0"/>
<rect x="203.19" y="299.86" width="1.0" height="1.0" fill="#2060f0"/>
<rect x="206.14" y="300.06" width="1.0" height="1.0" fill="#90c060"/>
<rect x="202.64" y="304.35" width="1.0" height="1.0" fill="#4a40c0"/>
<rect x="207.20" y="302.47" width="1.0" height="1.0" fill="#3448f0"/>
<rect x="207.55" y="297.94" width="1.0" height="1.0" fill="#3448f0"/>
<rect x="203.84" y="300.29" width="1.0" height="1.0" fill="#2060f0"/>
<rect x="203.57" y="299.98" width="1.0" height="1.0" fill="#3448f0"/>
<rect x="213.36" y="301.96" width="1.0" height="1.0" fill="#2060f0"/>
<rect x="206.03" y="303.07" width="1.0" height="1.0" fill="#3448f0"/>
<rect x="203.11" y="303.43" width="1.0" height="1.0" fill="#3448f0"/>
<rect x="202.91" y="298.60" width="1.0" height="1.0" fill="#3448f0"/>
<rect x="208.75" y="302.98" width="1.0" height="1.0" fill="#18a0e0"/>
<rect x="206.66" y="302.93" width="1.0" height="1.0" fill="#18a0e0"/>
<rect x="205.95" y="301.99" width="1.0" height="1.0" fill="#2060f0"/>
<rect x="200.73" y="304.10" width="1.0" height="1.0" fill="#18a0e0"/>
<rect x="205.26" y="299.67" width="1.0" height="1.0" fill="#3448f0"/>
<rect x="205.28" y="299.02" width="1.0" height="1.0" fill="#3448f0"/>
<rect x="206.26" y="298.08" width="1.0" height="1.0" fill="#3448f0"/>
<rect x="205.76" y="300.55" width="1.0" height="1.0" fill="#3448f0"/>
<rect x="209.15" y="298.16" width="1.0" height="1.0" fill="#3448f0"/>
<rect x="207.95" y="299.27" width="1.0" height="1.0" fill="#4a40c0"/>
<rect x="205.57" y="299.90" width="1.0" height="1.0" fill="#3448f0"/>
<rect x="201.49" y="301.03" width="1.0" height="1.0" fill="#3448f0"/>
<rect x="212.15" y="299.71" width="1.0" height="1.0" fill="#3448f0"/>
<rect x="207.58" y="299.96" width="1.0" height="1.0" fill="#3448f0"/>
<rect x="201.18" y="300.82" width="1.0" height="1.0" fill="#3448f0"/>
<rect x="204.14" y="299.82" width="1.0" height="1.0" fill="#3448f0"/>
<rect x="207.80" y="301.11" width="1.0" height="1.0" fill="#3448f0"/>
<rect x="201.61" y="301.39" width="1.0" height="1.0" fill="#2060f0"/>
<rect x="210.71" y="299.60" width="1.0" height="1.0" fill="#2060f0"/>
<rect x="202.57" y="300.89" width="1.0" height="1.0" fill="#3448f0"/>
<rect x="206.95" y="306.51" width="1.0" height="1.0" fill="#3448f0"/>
<rect x="207.39" y="298.24" width="1.0" height="1.0" fill="#4a40c0"/>
<rect x="199.83" y="301.26" width="1.0" height="1.0" fill="#3448f0"/>
<rect x="208.43" y="302.02" width="1.0" height="1.0" fill="#3448f0"/>
<rect x="201.77" y="299.81" width="1.0" height="1.0" fill="#3448f0"/>
<rect x="207.57" y="299.90" width="1.0" height="1.0" fill="#4a40c0"/>
<rect x="200.43" y="302.59" width="1.0" height="1.0" fill="#3448f0"/>
<rect x="203.85" y="298.67" width="1.0" height="1.0" fill="#3448f0"/>
<rect x="212.72" y="301.98" width="1.0" height="1.0" fill="#18a0e0"/>
<rect x="207.84" y="302.19" width="1.0" height="1.0" fill="#18a0e0"/>
<rect x="204.06" y="302.80" width="1.0" height="1.0" fill="#3448f0"/>
<rect x="204.19" y="301.30" width="1.0" height="1.0" fill="#3448f0"/>
<rect x="203.41" y="302.94" width="1.0" height="1.0" fill="#3448f0"/>
<rect x="204.33" y="299.60" width="1.0" height="1.0" fill="#3448f0"/>
<rect x="204.83" y="299.34" width="1.0" height="1.0" fill="#3448f0"/>
<rect x="207.68" y="298.42" width="1.0" height="1.0" fill="#3448f0"/>
<rect x="209.30" y="299.68" width="1.0" height="1.0" fill="#3448f0"/>
<rect x="202.58" y="304.27" width="1.0" height="1.0" fill="#2060f0"/>
<rect x="206.52" y="300.60" width="1.0" height="1.0" fill="#18a0e0"/>
<rect x="207.74" y="302.35" width="1.0" height="1.0" fill="#2060f0"/>
<rect x="204.94" y="299.27" width="1.0" height="1.0" fill="#3448f0"/>
<rect x="204.92" y="299.56" width="1.0" height="1.0" fill="#2060f0"/>
<rect x="209.46" y="299.88" width="1.0" height="1.0" fill="#3448f0"/>
<rect x="205.91" y="300.14" width="1.0" height="1.0" fill="#3448f0"/>
<rect x="208.60" y="301.89" width="1.0" height="1.0" fill="#90c060"/>
<rect x="205.23" y="301.26" width="1.0" height="1.0" fill="#3448f0"/>
<rect x="211.31" y="299.17" width="1.0" height="1.0" fill="#3448f0"/>
<rect x="204.63" y="302.15" width="1.0" height="1.0" fill="#3448f0"/>
<rect x="201.28" y="301.41" width="1.0" height="1.0" fill="#90c060"/>
<rect x="202.96" y="303.03" width="1.0" height="1.0" fill="#3448f0"/>
<rect x="206.89" y="298.30" width="1.0" height="1.0" fill="#4a40c0"/>
<rect x="202.69" y="298.92" width="1.0" height="1.0" fill="#4a40c0"/>
<rect x="205.20" y="302.35" width="1.0" height="1.0" fill="#4a40c0"/>
<rect x="207.28" y="294.55" width="1.0" height="1.0" fill="#3448f0"/>
<rect x="209.11" y="299.52" width="1.0" height="1.0" fill="#3448f0"/>
<rect x="206.44" y="301.80" width="1.0" height="1.0" fill="#3448f0"/>
<rect x="206.65" y="298.61" width="1.0" height="1.0" fill="#3448f0"/>
<rect x="207.32" y="300.21" width="1.0" height="1.0" fill="#90c060"/>
<rect x="202.89" y="302.28" width="1.0" height="1.0" fill="#3448f0"/>
<rect x="208.82" y="297.97" width="1.0" height="1.0" fill="#3448f0"/>
<rect x="209.87" y="302.49" width="1.0" height="1.0" fill="#3448f0"/>
<rect x="204.23" y="298.87" width="1.0" height="1.0" fill="#3448f0"/>
<rect x="203.70" y="305.73" width="1.0" height="1.0" fill="#3448f0"/>
<rect x="209.41" y="303.42" width="1.0" height="1.0" fill="#3448f0"/>
<rect x="208.60" y="300.08" width="1.0" height="1.0" fill="#4a40c0"/>
<rect x="208.13" y="299.79" width="1.0" height="1.0" fill="#90c060"/>
<rect x="208.38" y="299.57" width="1.0" height="1.0" fill="#3448f0"/>
<rect x="208.10" y="299.30" width="1.0" height="1.0" fill="#3448f0"/>
<rect x="202.60" y="299.67" width="1.0" height="1.0" fill="#4a40c0"/>
<rect x="207.10" y="296.99" width="1.0" height="1.0" fill="#3448f0"/>
<rect x="207.35" y="300.95" width="1.0" height="1.0" fill="#3448f0"/>
<rect x="205.35" y="304.23" width="1.0" height="1.0" fill="#2060f0"/>
<rect x="205.00" y="298.51" width="1.0" height="1.0" fill="#3448f0"/>
<rect x="206.06" y="302.47" width="1.0" height="1.0" fill="#2060f0"/>
<rect x="209.44" y="300.83" width="1.0" height="1.0" fill="#3448f0"/>
<rect x="209.88" y="299.98" width="1.0" height="1.0" fill="#3448f0"/>
<rect x="204.92" y="299.91" width="1.0" height="1.0" fill="#3448f0"/>
<rect x="209.14" y="297.97" width="1.0" height="1.0" fill="#3448f0"/>
<rect x="206.39" y="299.81" width="1.0" height="1.0" fill="#3448f0"/>
<rect x="209.79" y="298.16" width="1.0" height="1.0" fill="#2060f0"/>
<rect x="202.86" y="301.41" width="1.0" height="1.0" fill="#4a40c0"/>
<rect x="208.87" y="297.64" width="1.0" height="1.0" fill="#3448f0"/>
<rect x="204.16" y="295.48" width="1.0" height="1.0" fill="#4a40c0"/>
<rect x="208.27" y="300.40" width="1.0" height="1.0" fill="#2060f0"/>
<rect x="204.95" y="306.02" width="1.0" height="1.0" fill="#90c060"/>
<rect x="207.30" y="300.76" width="1.0" height="1.0" fill="#4a40c0"/>
<rect x="203.89" y="302.82" width="1.0" height="1.0" fill="#3448f0"/>
<rect x="210.54" y="305.60" width="1.0" height="1.0" fill="#3448f0"/>
<rect x="213.81" y="303.25" width="0.9" height="0.9" fill="#3448f0"/>
<rect x="214.52" y="295.00" width="0.9" height="0.9" fill="#18a0e0"/>
<rect x="203.00" y="291.99" width="0.9" height="0.9" fill="#3448f0"/>
<rect x="197.00" y="292.78" width="0.9" height="0.9" fill="#18a0e0"/>
<rect x="198.21" y="294.26" width="0.9" height="0.9" fill="#3448f0"/>
<rect x="201.68" y="307.19" width="0.9" height="0.9" fill="#18a0e0"/>
<rect x="214.69" y="308.38" width="0.9" height="0.9" fill="#3448f0"/>
<rect x="213.06" y="296.33" width="0.9" height="0.9" fill="#18a0e0"/>
<rect x="213.39" y="304.00" width="0.9" height="0.9" fill="#3448f0"/>
<rect x="197.56" y="307.28" width="0.9" height="0.9" fill="#3448f0"/>
<rect x="209.02" y="306.20" width="0.9" height="0.9" fill="#3448f0"/>
<rect x="210.93" y="299.44" width="0.9" height="0.9" fill="#18a0e0"/>
<rect x="205.58" y="294.89" width="0.9" height="0.9" fill="#18a0e0"/>
<rect x="201.74" y="304.21" width="0.9" height="0.9" fill="#18a0e0"/>
<rect x="201.00" y="303.37" width="0.9" height="0.9" fill="#3448f0"/>
<rect x="200.48" y="295.24" width="0.9" height="0.9" fill="#18a0e0"/>
<rect x="203.65" y="300.22" width="0.9" height="0.9" fill="#3448f0"/>
<rect x="196.13" y="304.36" width="0.9" height="0.9" fill="#18a0e0"/>
<rect x="214.82" y="297.62" width="0.9" height="0.9" fill="#3448f0"/>
<rect x="203.19" y="304.00" width="0.9" height="0.9" fill="#18a0e0"/>
<rect x="204.48" y="300.47" width="0.9" height="0.9" fill="#3448f0"/>
<rect x="215.76" y="299.57" width="0.9" height="0.9" fill="#3448f0"/>
<rect x="212.86" y="294.91" width="0.9" height="0.9" fill="#18a0e0"/>
<rect x="203.32" y="305.36" width="0.9" height="0.9" fill="#3448f0"/>
<rect x="201.62" y="302.36" width="0.9" height="0.9" fill="#3448f0"/>
<rect x="203.84" y="301.39" width="0.9" height="0.9" fill="#3448f0"/>
<rect x="205.17" y="291.58" width="0.9" height="0.9" fill="#18a0e0"/>
<rect x="201.14" y="305.67" width="0.9" height="0.9" fill="#3448f0"/>
<rect x="208.78" y="302.19" width="0.9" height="0.9" fill="#3448f0"/>
<rect x="212.65" y="296.51" width="0.9" height="0.9" fill="#18a0e0"/>
<circle cx="203.40" cy="302.40" r="1.2" fill="#e02040" stroke="none" stroke-width="0.6"/>
<circle cx="211.00" cy="301.60" r="1.2" fill="#e02040" stroke="none" stroke-width="0.6"/>
<circle cx="207.50" cy="302.80" r="1.1" fill="#e02040" stroke="none" stroke-width="0.6"/>
<circle cx="220.10" cy="264.40" r="1.2" fill="#2030a0" stroke="none" stroke-width="0.6"/>
<circle cx="221.30" cy="266.80" r="1.2" fill="#2030a0" stroke="none" stroke-width="0.6"/>
<circle cx="224.10" cy="268.90" r="1.2" fill="#2030a0" stroke="none" stroke-width="0.6"/>
<text x="190.90" y="264.70" font-size="6.7" fill="#111">S</text>
<text x="191.10" y="290.60" font-size="6.7" fill="#111">G1</text>
<text x="223.80" y="290.60" font-size="6.7" fill="#111">G2</text>
<text x="210.40" y="251.30" font-size="6.7" text-anchor="middle" fill="#111">Cell 1</text>
<text x="231.60" y="251.30" font-size="6.7" text-anchor="middle" fill="#111">Cell 2</text>
<text x="247.80" y="255.40" font-size="6.7" text-anchor="middle" fill="#111">Cell 3</text>
<line x1="216.70" y1="251.30" x2="220.10" y2="264.20" stroke="#111" stroke-width="0.6"/>
<line x1="231.60" y1="251.30" x2="221.30" y2="266.80" stroke="#111" stroke-width="0.6"/>
<line x1="240.50" y1="255.20" x2="224.10" y2="268.90" stroke="#111" stroke-width="0.6"/>
<text x="216.90" y="318.60" font-size="6.7" text-anchor="middle" fill="#111">Cell 4</text>
<text x="209.60" y="323.40" font-size="6.7" text-anchor="middle" fill="#111">Cell 5</text>
<text x="201.20" y="328.70" font-size="6.7" text-anchor="middle" fill="#111">Cell 6</text>
<line x1="196.80" y1="322.20" x2="203.20" y2="303.50" stroke="#111" stroke-width="0.6"/>
<line x1="205.20" y1="318.80" x2="207.60" y2="303.60" stroke="#111" stroke-width="0.6"/>
<line x1="211.00" y1="313.60" x2="211.20" y2="302.60" stroke="#111" stroke-width="0.6"/>
<text x="378.80" y="243.90" font-size="6.7" fill="#111">DMSO</text>
<line x1="371.60" y1="241.50" x2="377.10" y2="241.50" stroke="#111" stroke-width="1.2"/>
<text x="378.80" y="252.00" font-size="6.7" fill="#111">EGFRi (5 μM gefitinib)</text>
<line x1="371.60" y1="249.60" x2="377.10" y2="249.60" stroke="#f02828" stroke-width="1.2"/>
<text x="329.50" y="262.30" font-size="6.7" text-anchor="middle" fill="#111">Drug 42 h after release</text>
<line x1="293.40" y1="266.90" x2="293.40" y2="329.40" stroke="#3a3a3a" stroke-width="0.9"/>
<line x1="293.40" y1="329.40" x2="366.00" y2="329.40" stroke="#3a3a3a" stroke-width="0.9"/>
<text x="291.10" y="281.40" font-size="6.7" text-anchor="end" fill="#111">0.6</text>
<line x1="293.40" y1="279.00" x2="295.20" y2="279.00" stroke="#3a3a3a" stroke-width="0.7"/>
<text x="291.10" y="306.50" font-size="6.7" text-anchor="end" fill="#111">0.5</text>
<line x1="293.40" y1="304.10" x2="295.20" y2="304.10" stroke="#3a3a3a" stroke-width="0.7"/>
<text x="291.10" y="331.90" font-size="6.7" text-anchor="end" fill="#111">0.4</text>
<line x1="293.40" y1="329.50" x2="295.20" y2="329.50" stroke="#3a3a3a" stroke-width="0.7"/>
<text x="293.40" y="337.80" font-size="6.7" text-anchor="middle" fill="#111">20</text>
<line x1="293.40" y1="329.40" x2="293.40" y2="327.60" stroke="#3a3a3a" stroke-width="0.7"/>
<text x="311.50" y="337.80" font-size="6.7" text-anchor="middle" fill="#111">30</text>
<line x1="311.50" y1="329.40" x2="311.50" y2="327.60" stroke="#3a3a3a" stroke-width="0.7"/>
<text x="329.60" y="337.80" font-size="6.7" text-anchor="middle" fill="#111">40</text>
<line x1="329.60" y1="329.40" x2="329.60" y2="327.60" stroke="#3a3a3a" stroke-width="0.7"/>
<text x="347.70" y="337.80" font-size="6.7" text-anchor="middle" fill="#111">50</text>
<line x1="347.70" y1="329.40" x2="347.70" y2="327.60" stroke="#3a3a3a" stroke-width="0.7"/>
<text x="365.80" y="337.80" font-size="6.7" text-anchor="middle" fill="#111">60</text>
<line x1="365.80" y1="329.40" x2="365.80" y2="327.60" stroke="#3a3a3a" stroke-width="0.7"/>
<text x="329.70" y="347.00" font-size="6.7" text-anchor="middle" fill="#111">Time after release (h)</text>
<text transform="translate(274.20,297.00) rotate(-90)" y="2.40" font-size="6.7" text-anchor="middle" fill="#111">CDK2 activity (a.u.)</text>
<line x1="332.80" y1="269.50" x2="332.80" y2="329.40" stroke="#111" stroke-width="0.8" stroke-dasharray="1.4,1.1"/>
<path d="M330.30,265.00 L335.30,265.00 L332.80,270.00 Z" fill="#111"/>
<polyline points="293.40,317.60 293.53,317.54 293.79,317.41 294.19,317.23 294.71,316.98 295.37,316.66 296.16,316.29 297.08,315.85 298.12,315.35 299.18,314.84 300.23,314.33 301.28,313.81 302.34,313.29 303.40,312.76 304.46,312.22 305.52,311.67 306.58,311.12 307.64,310.58 308.70,310.03 309.76,309.48 310.82,308.94 311.87,308.40 312.92,307.86 313.97,307.32 315.03,306.78 316.08,306.24 317.13,305.71 318.18,305.17 319.24,304.63 320.30,304.09 321.36,303.56 322.42,303.02 323.48,302.48 324.49,301.98 325.44,301.50 326.34,301.06 327.18,300.64 327.97,300.26 328.71,299.91 329.39,299.59 330.01,299.31 330.58,299.14 331.08,299.08 331.53,299.15 331.92,299.33 332.25,299.63 332.52,300.04 332.72,300.57 332.88,301.22 333.04,301.68 333.22,301.95 333.42,302.03 333.63,301.92 333.86,301.62 334.10,301.12 334.36,300.44 334.64,299.56 334.92,298.62 335.22,297.61 335.52,296.53 335.83,295.39 336.15,294.18 336.48,292.90 336.82,291.56 337.18,290.14 337.50,288.89 337.81,287.78 338.10,286.83 338.37,286.04 338.62,285.40 338.85,284.92 339.06,284.59 339.24,284.41 339.44,284.39 339.64,284.53 339.84,284.82 340.06,285.26 340.28,285.86 340.50,286.61 340.73,287.52 340.97,288.58 341.23,289.78 341.53,291.10 341.85,292.56 342.20,294.14 342.58,295.86 342.98,297.71 343.42,299.69 343.88,301.81 344.35,303.79 344.83,305.63 345.32,307.35 345.81,308.93 346.31,310.38 346.82,311.69 347.34,312.88 347.86,313.92 348.41,314.91 348.98,315.83 349.57,316.69 350.18,317.48 350.82,318.21 351.47,318.88 352.15,319.48 352.85,320.02 353.55,320.49 354.25,320.89 354.96,321.23 355.67,321.50 356.37,321.70 357.08,321.83 357.79,321.90 358.51,321.90 359.21,321.88 359.90,321.83 360.58,321.76 361.25,321.67 361.90,321.55 362.55,321.41 363.19,321.24 363.81,321.06 364.36,320.89 364.83,320.75 365.22,320.63 365.53,320.54 365.77,320.47 365.92,320.42 366.00,320.40" fill="none" stroke="#f5a8a8" stroke-width="2.6" stroke-linejoin="round"/>
<polyline points="293.40,317.30 293.53,317.24 293.79,317.11 294.19,316.93 294.71,316.68 295.37,316.36 296.16,315.99 297.08,315.55 298.12,315.05 299.18,314.54 300.23,314.03 301.28,313.51 302.34,312.99 303.40,312.46 304.46,311.92 305.52,311.38 306.58,310.83 307.64,310.28 308.70,309.73 309.76,309.18 310.82,308.64 311.87,308.10 312.92,307.56 313.97,307.02 315.03,306.48 316.08,305.94 317.13,305.41 318.18,304.87 319.24,304.33 320.30,303.79 321.36,303.26 322.42,302.72 323.48,302.18 324.49,301.67 325.44,301.20 326.34,300.75 327.18,300.33 327.97,299.94 328.71,299.58 329.39,299.25 330.01,298.95 330.59,298.73 331.12,298.59 331.61,298.54 332.04,298.56 332.43,298.67 332.78,298.86 333.07,299.12 333.32,299.47 333.63,299.69 334.00,299.78 334.42,299.74 334.90,299.56 335.44,299.26 336.04,298.82 336.69,298.25 337.41,297.55 338.14,296.88 338.89,296.25 339.67,295.66 340.46,295.09 341.27,294.57 342.11,294.07 342.96,293.61 343.84,293.19 344.73,292.74 345.65,292.26 346.59,291.75 347.56,291.22 348.54,290.66 349.55,290.08 350.57,289.47 351.62,288.83 352.61,288.25 353.53,287.73 354.39,287.27 355.18,286.86 355.91,286.51 356.58,286.22 357.18,285.99 357.72,285.81 358.29,285.53 358.89,285.13 359.53,284.63 360.20,284.02 360.90,283.30 361.63,282.47 362.40,281.53 363.20,280.47 363.90,279.56 364.50,278.77 365.00,278.11 365.40,277.59 365.70,277.19 365.90,276.93 366.00,276.80" fill="none" stroke="#c4c4c4" stroke-width="3.0" stroke-linejoin="round"/>
<polyline points="293.40,317.60 293.53,317.54 293.79,317.41 294.19,317.23 294.71,316.98 295.37,316.66 296.16,316.29 297.08,315.85 298.12,315.35 299.18,314.84 300.23,314.33 301.28,313.81 302.34,313.29 303.40,312.76 304.46,312.22 305.52,311.67 306.58,311.12 307.64,310.58 308.70,310.03 309.76,309.48 310.82,308.94 311.87,308.40 312.92,307.86 313.97,307.32 315.03,306.78 316.08,306.24 317.13,305.71 318.18,305.17 319.24,304.63 320.30,304.09 321.36,303.56 322.42,303.02 323.48,302.48 324.49,301.98 325.44,301.50 326.34,301.06 327.18,300.64 327.97,300.26 328.71,299.91 329.39,299.59 330.01,299.31 330.58,299.14 331.08,299.08 331.53,299.15 331.92,299.33 332.25,299.63 332.52,300.04 332.72,300.57 332.88,301.22 333.04,301.68 333.22,301.95 333.42,302.03 333.63,301.92 333.86,301.62 334.10,301.12 334.36,300.44 334.64,299.56 334.92,298.62 335.22,297.61 335.52,296.53 335.83,295.39 336.15,294.18 336.48,292.90 336.82,291.56 337.18,290.14 337.50,288.89 337.81,287.78 338.10,286.83 338.37,286.04 338.62,285.40 338.85,284.92 339.06,284.59 339.24,284.41 339.44,284.39 339.64,284.53 339.84,284.82 340.06,285.26 340.28,285.86 340.50,286.61 340.73,287.52 340.97,288.58 341.23,289.78 341.53,291.10 341.85,292.56 342.20,294.14 342.58,295.86 342.98,297.71 343.42,299.69 343.88,301.81 344.35,303.79 344.83,305.63 345.32,307.35 345.81,308.93 346.31,310.38 346.82,311.69 347.34,312.88 347.86,313.92 348.41,314.91 348.98,315.83 349.57,316.69 350.18,317.48 350.82,318.21 351.47,318.88 352.15,319.48 352.85,320.02 353.55,320.49 354.25,320.89 354.96,321.23 355.67,321.50 356.37,321.70 357.08,321.83 357.79,321.90 358.51,321.90 359.21,321.88 359.90,321.83 360.58,321.76 361.25,321.67 361.90,321.55 362.55,321.41 363.19,321.24 363.81,321.06 364.36,320.89 364.83,320.75 365.22,320.63 365.53,320.54 365.77,320.47 365.92,320.42 366.00,320.40" fill="none" stroke="#f02828" stroke-width="1.0" stroke-linejoin="round"/>
<polyline points="293.40,317.00 293.53,316.94 293.79,316.81 294.19,316.62 294.71,316.38 295.37,316.06 296.16,315.69 297.08,315.25 298.12,314.75 299.18,314.24 300.23,313.73 301.28,313.21 302.34,312.69 303.40,312.16 304.46,311.62 305.52,311.07 306.58,310.52 307.64,309.98 308.70,309.43 309.76,308.88 310.82,308.34 311.87,307.80 312.92,307.26 313.97,306.72 315.03,306.18 316.08,305.64 317.13,305.11 318.18,304.57 319.24,304.03 320.30,303.49 321.36,302.96 322.42,302.42 323.48,301.88 324.49,301.37 325.44,300.90 326.34,300.45 327.18,300.03 327.97,299.64 328.71,299.28 329.39,298.95 330.01,298.65 330.56,298.39 331.03,298.16 331.42,297.97 331.73,297.82 331.97,297.71 332.12,297.64 332.20,297.60" fill="none" stroke="#111" stroke-width="0.9" stroke-linejoin="round"/>
<polyline points="332.20,297.90 332.23,297.94 332.29,298.03 332.39,298.16 332.51,298.34 332.67,298.56 332.86,298.82 333.07,299.12 333.32,299.47 333.63,299.69 334.00,299.78 334.42,299.74 334.90,299.56 335.44,299.26 336.04,298.82 336.69,298.25 337.41,297.55 338.14,296.88 338.89,296.25 339.67,295.66 340.46,295.09 341.27,294.57 342.11,294.07 342.96,293.61 343.84,293.19 344.73,292.74 345.65,292.26 346.59,291.75 347.56,291.22 348.54,290.66 349.55,290.08 350.57,289.47 351.62,288.83 352.61,288.25 353.53,287.73 354.39,287.27 355.18,286.86 355.91,286.51 356.58,286.22 357.18,285.99 357.72,285.81 358.29,285.53 358.89,285.13 359.53,284.63 360.20,284.02 360.90,283.30 361.63,282.47 362.40,281.53 363.20,280.47 363.90,279.56 364.50,278.77 365.00,278.11 365.40,277.59 365.70,277.19 365.90,276.93 366.00,276.80" fill="none" stroke="#111" stroke-width="1.0" stroke-linejoin="round"/>
<text x="432.10" y="262.40" font-size="6.7" text-anchor="middle" fill="#111">Drug 42 h after release</text>
<line x1="396.60" y1="266.80" x2="396.60" y2="329.10" stroke="#3a3a3a" stroke-width="0.9"/>
<line x1="396.60" y1="329.10" x2="469.00" y2="329.10" stroke="#3a3a3a" stroke-width="0.9"/>
<text x="394.30" y="269.20" font-size="6.7" text-anchor="end" fill="#111">200</text>
<line x1="396.60" y1="266.80" x2="398.40" y2="266.80" stroke="#3a3a3a" stroke-width="0.7"/>
<text x="394.30" y="284.80" font-size="6.7" text-anchor="end" fill="#111">150</text>
<line x1="396.60" y1="282.40" x2="398.40" y2="282.40" stroke="#3a3a3a" stroke-width="0.7"/>
<text x="394.30" y="300.40" font-size="6.7" text-anchor="end" fill="#111">100</text>
<line x1="396.60" y1="298.00" x2="398.40" y2="298.00" stroke="#3a3a3a" stroke-width="0.7"/>
<text x="394.30" y="316.00" font-size="6.7" text-anchor="end" fill="#111">50</text>
<line x1="396.60" y1="313.60" x2="398.40" y2="313.60" stroke="#3a3a3a" stroke-width="0.7"/>
<text x="394.30" y="331.50" font-size="6.7" text-anchor="end" fill="#111">0</text>
<line x1="396.60" y1="329.10" x2="398.40" y2="329.10" stroke="#3a3a3a" stroke-width="0.7"/>
<text x="396.60" y="338.00" font-size="6.7" text-anchor="middle" fill="#111">20</text>
<line x1="396.60" y1="329.10" x2="396.60" y2="327.30" stroke="#3a3a3a" stroke-width="0.7"/>
<text x="414.70" y="338.00" font-size="6.7" text-anchor="middle" fill="#111">30</text>
<line x1="414.70" y1="329.10" x2="414.70" y2="327.30" stroke="#3a3a3a" stroke-width="0.7"/>
<text x="432.80" y="338.00" font-size="6.7" text-anchor="middle" fill="#111">40</text>
<line x1="432.80" y1="329.10" x2="432.80" y2="327.30" stroke="#3a3a3a" stroke-width="0.7"/>
<text x="450.90" y="338.00" font-size="6.7" text-anchor="middle" fill="#111">50</text>
<line x1="450.90" y1="329.10" x2="450.90" y2="327.30" stroke="#3a3a3a" stroke-width="0.7"/>
<text x="469.00" y="338.00" font-size="6.7" text-anchor="middle" fill="#111">60</text>
<line x1="469.00" y1="329.10" x2="469.00" y2="327.30" stroke="#3a3a3a" stroke-width="0.7"/>
<text x="431.60" y="347.00" font-size="6.7" text-anchor="middle" fill="#111">Time after release (h)</text>
<text transform="translate(378.00,300.50) rotate(-90)" y="2.40" font-size="6.7" text-anchor="middle" fill="#111">E2F activity (a.u.)</text>
<line x1="435.50" y1="269.50" x2="435.50" y2="329.10" stroke="#111" stroke-width="0.8" stroke-dasharray="1.4,1.1"/>
<path d="M433.00,265.20 L438.00,265.20 L435.50,270.20 Z" fill="#111"/>
<polyline points="396.60,320.30 396.69,320.22 396.87,320.05 397.14,319.80 397.51,319.47 397.96,319.06 398.50,318.56 399.14,317.98 399.86,317.32 400.60,316.62 401.35,315.88 402.10,315.10 402.87,314.28 403.65,313.42 404.44,312.52 405.24,311.59 406.06,310.61 406.87,309.64 407.68,308.67 408.49,307.71 409.31,306.74 410.12,305.78 410.93,304.83 411.74,303.88 412.56,302.92 413.37,302.00 414.18,301.09 414.99,300.21 415.81,299.34 416.62,298.50 417.43,297.68 418.24,296.89 419.06,296.11 419.87,295.37 420.68,294.67 421.49,294.00 422.31,293.37 423.12,292.78 423.93,292.22 424.74,291.69 425.56,291.21 426.36,290.74 427.15,290.29 427.93,289.87 428.70,289.46 429.45,289.07 430.20,288.71 430.94,288.36 431.66,288.04 432.33,287.70 432.95,287.36 433.51,287.01 434.02,286.64 434.47,286.27 434.86,285.89 435.21,285.50 435.49,285.10 435.80,284.82 436.12,284.68 436.45,284.65 436.80,284.75 437.17,284.97 437.55,285.32 437.94,285.80 438.36,286.40 438.79,287.08 439.25,287.83 439.73,288.67 440.24,289.58 440.77,290.57 441.32,291.64 441.90,292.79 442.50,294.01 443.13,295.24 443.78,296.46 444.46,297.68 445.17,298.90 445.90,300.11 446.66,301.33 447.44,302.54 448.26,303.76 449.07,304.94 449.88,306.11 450.69,307.24 451.51,308.36 452.32,309.44 453.13,310.51 453.94,311.54 454.76,312.56 455.62,313.57 456.53,314.58 457.49,315.59 458.51,316.61 459.57,317.62 460.68,318.63 461.84,319.64 463.06,320.66 464.12,321.54 465.03,322.30 465.78,322.93 466.39,323.44 466.85,323.82 467.15,324.07 467.30,324.20" fill="none" stroke="#f5a8a8" stroke-width="2.4" stroke-linejoin="round"/>
<polyline points="396.60,320.00 396.69,319.91 396.87,319.74 397.14,319.48 397.51,319.14 397.96,318.71 398.50,318.20 399.14,317.59 399.86,316.91 400.60,316.18 401.35,315.41 402.10,314.60 402.87,313.75 403.65,312.86 404.44,311.93 405.24,310.96 406.06,309.94 406.87,308.93 407.68,307.92 408.49,306.91 409.31,305.89 410.12,304.88 410.93,303.87 411.74,302.86 412.56,301.84 413.37,300.86 414.18,299.89 414.99,298.96 415.81,298.04 416.62,297.16 417.43,296.29 418.24,295.46 419.06,294.64 419.87,293.86 420.68,293.09 421.49,292.36 422.31,291.64 423.12,290.96 423.93,290.29 424.74,289.66 425.56,289.04 426.36,288.47 427.15,287.93 427.93,287.42 428.70,286.95 429.45,286.52 430.20,286.12 430.94,285.76 431.66,285.44 432.32,285.11 432.92,284.77 433.45,284.43 433.92,284.09 434.33,283.74 434.67,283.39 434.94,283.03 435.16,282.67 435.43,282.34 435.76,282.03 436.15,281.76 436.60,281.52 437.11,281.30 437.68,281.12 438.31,280.96 438.99,280.84 439.75,280.70 440.57,280.56 441.45,280.41 442.40,280.24 443.42,280.07 444.50,279.89 445.64,279.70 446.86,279.50 448.07,279.33 449.28,279.18 450.49,279.05 451.71,278.95 452.92,278.88 454.13,278.83 455.34,278.80 456.56,278.80 457.72,278.83 458.83,278.88 459.89,278.95 460.91,279.05 461.87,279.18 462.78,279.33 463.64,279.50 464.46,279.70 465.17,279.88 465.78,280.03 466.28,280.15 466.69,280.25 467.00,280.32 467.20,280.38 467.30,280.40" fill="none" stroke="#c4c4c4" stroke-width="3.0" stroke-linejoin="round"/>
<polyline points="396.60,320.30 396.69,320.22 396.87,320.05 397.14,319.80 397.51,319.47 397.96,319.06 398.50,318.56 399.14,317.98 399.86,317.32 400.60,316.62 401.35,315.88 402.10,315.10 402.87,314.28 403.65,313.42 404.44,312.52 405.24,311.59 406.06,310.61 406.87,309.64 407.68,308.67 408.49,307.71 409.31,306.74 410.12,305.78 410.93,304.83 411.74,303.88 412.56,302.92 413.37,302.00 414.18,301.09 414.99,300.21 415.81,299.34 416.62,298.50 417.43,297.68 418.24,296.89 419.06,296.11 419.87,295.37 420.68,294.67 421.49,294.00 422.31,293.37 423.12,292.78 423.93,292.22 424.74,291.69 425.56,291.21 426.36,290.74 427.15,290.29 427.93,289.87 428.70,289.46 429.45,289.07 430.20,288.71 430.94,288.36 431.66,288.04 432.33,287.70 432.95,287.36 433.51,287.01 434.02,286.64 434.47,286.27 434.86,285.89 435.21,285.50 435.49,285.10 435.80,284.82 436.12,284.68 436.45,284.65 436.80,284.75 437.17,284.97 437.55,285.32 437.94,285.80 438.36,286.40 438.79,287.08 439.25,287.83 439.73,288.67 440.24,289.58 440.77,290.57 441.32,291.64 441.90,292.79 442.50,294.01 443.13,295.24 443.78,296.46 444.46,297.68 445.17,298.90 445.90,300.11 446.66,301.33 447.44,302.54 448.26,303.76 449.07,304.94 449.88,306.11 450.69,307.24 451.51,308.36 452.32,309.44 453.13,310.51 453.94,311.54 454.76,312.56 455.62,313.57 456.53,314.58 457.49,315.59 458.51,316.61 459.57,317.62 460.68,318.63 461.84,319.64 463.06,320.66 464.12,321.54 465.03,322.30 465.78,322.93 466.39,323.44 466.85,323.82 467.15,324.07 467.30,324.20" fill="none" stroke="#f02828" stroke-width="1.0" stroke-linejoin="round"/>
<polyline points="396.60,320.00 396.69,319.91 396.87,319.74 397.14,319.48 397.51,319.14 397.96,318.71 398.50,318.20 399.14,317.59 399.86,316.91 400.60,316.18 401.35,315.41 402.10,314.60 402.87,313.75 403.65,312.86 404.44,311.93 405.24,310.96 406.06,309.94 406.87,308.93 407.68,307.92 408.49,306.91 409.31,305.89 410.12,304.88 410.93,303.87 411.74,302.86 412.56,301.84 413.37,300.86 414.18,299.89 414.99,298.96 415.81,298.04 416.62,297.16 417.43,296.29 418.24,295.46 419.06,294.64 419.87,293.86 420.68,293.09 421.49,292.36 422.31,291.64 423.12,290.96 423.93,290.29 424.74,289.66 425.56,289.04 426.36,288.47 427.15,287.93 427.93,287.42 428.70,286.95 429.45,286.52 430.20,286.12 430.94,285.76 431.66,285.44 432.32,285.11 432.92,284.77 433.45,284.43 433.92,284.09 434.33,283.74 434.67,283.39 434.94,283.03 435.16,282.67 435.43,282.34 435.76,282.03 436.15,281.76 436.60,281.52 437.11,281.30 437.68,281.12 438.31,280.96 438.99,280.84 439.75,280.70 440.57,280.56 441.45,280.41 442.40,280.24 443.42,280.07 444.50,279.89 445.64,279.70 446.86,279.50 448.07,279.33 449.28,279.18 450.49,279.05 451.71,278.95 452.92,278.88 454.13,278.83 455.34,278.80 456.56,278.80 457.72,278.83 458.83,278.88 459.89,278.95 460.91,279.05 461.87,279.18 462.78,279.33 463.64,279.50 464.46,279.70 465.17,279.88 465.78,280.03 466.28,280.15 466.69,280.25 467.00,280.32 467.20,280.38 467.30,280.40" fill="none" stroke="#111" stroke-width="1.0" stroke-linejoin="round"/>
<text x="480.50" y="233.74" font-size="11" font-weight="bold" fill="#000">j</text>
<line x1="503.40" y1="266.80" x2="503.40" y2="328.80" stroke="#3a3a3a" stroke-width="0.9"/>
<line x1="503.40" y1="328.80" x2="575.70" y2="328.80" stroke="#3a3a3a" stroke-width="0.9"/>
<text x="501.10" y="269.20" font-size="6.7" text-anchor="end" fill="#111">200</text>
<line x1="503.40" y1="266.80" x2="505.20" y2="266.80" stroke="#3a3a3a" stroke-width="0.7"/>
<text x="501.10" y="285.10" font-size="6.7" text-anchor="end" fill="#111">150</text>
<line x1="503.40" y1="282.70" x2="505.20" y2="282.70" stroke="#3a3a3a" stroke-width="0.7"/>
<text x="501.10" y="300.60" font-size="6.7" text-anchor="end" fill="#111">100</text>
<line x1="503.40" y1="298.20" x2="505.20" y2="298.20" stroke="#3a3a3a" stroke-width="0.7"/>
<text x="501.10" y="316.00" font-size="6.7" text-anchor="end" fill="#111">50</text>
<line x1="503.40" y1="313.60" x2="505.20" y2="313.60" stroke="#3a3a3a" stroke-width="0.7"/>
<text x="501.10" y="331.20" font-size="6.7" text-anchor="end" fill="#111">0</text>
<line x1="503.40" y1="328.80" x2="505.20" y2="328.80" stroke="#3a3a3a" stroke-width="0.7"/>
<text x="504.40" y="338.80" font-size="6.7" text-anchor="middle" fill="#111">0.4</text>
<line x1="504.40" y1="328.80" x2="504.40" y2="327.00" stroke="#3a3a3a" stroke-width="0.7"/>
<text x="538.90" y="338.80" font-size="6.7" text-anchor="middle" fill="#111">0.5</text>
<line x1="538.90" y1="328.80" x2="538.90" y2="327.00" stroke="#3a3a3a" stroke-width="0.7"/>
<text x="573.80" y="338.80" font-size="6.7" text-anchor="middle" fill="#111">0.6</text>
<line x1="573.80" y1="328.80" x2="573.80" y2="327.00" stroke="#3a3a3a" stroke-width="0.7"/>
<text x="539.10" y="347.00" font-size="6.7" text-anchor="middle" fill="#111">CDK2 activity (a.u.)</text>
<text transform="translate(484.20,299.00) rotate(-90)" y="2.40" font-size="6.7" text-anchor="middle" fill="#111">E2F activity (a.u.)</text>
<text x="509.00" y="265.10" font-size="6.7" fill="#111">Arrow intervals</text>
<text x="509.00" y="272.00" font-size="6.7" fill="#111">= 5 h</text>
<line x1="507.60" y1="242.90" x2="514.50" y2="242.90" stroke="#111" stroke-width="1.1"/>
<path d="M517,242.9 L513.2,241.0 L513.2,244.8 Z" fill="#111"/>
<text x="518.30" y="245.30" font-size="6.7" fill="#111">DMSO</text>
<line x1="507.60" y1="250.00" x2="514.50" y2="250.00" stroke="#f02828" stroke-width="1.1"/>
<path d="M517,250.0 L513.2,248.1 L513.2,251.9 Z" fill="#f02828"/>
<text x="518.30" y="252.40" font-size="6.7" fill="#111">EGFRi (5 μM)</text>
<polyline points="522.20,320.00 550.70,288.10 551.60,299.30 517.90,314.80 513.60,321.70" fill="none" stroke="#f02828" stroke-width="1.0" stroke-linejoin="round"/>
<polyline points="520.50,322.60 549.00,285.50" fill="none" stroke="#555" stroke-width="1.0" stroke-linejoin="round"/>
<polyline points="549.00,285.50 549.04,285.46 549.12,285.38 549.24,285.26 549.41,285.09 549.61,284.89 549.85,284.65 550.14,284.36 550.46,284.04 550.83,283.71 551.23,283.39 551.67,283.06 552.15,282.74 552.67,282.41 553.23,282.09 553.83,281.76 554.47,281.44 555.11,281.14 555.75,280.87 556.39,280.63 557.03,280.42 557.68,280.23 558.33,280.08 558.97,279.95 559.62,279.85 560.30,279.75 561.00,279.65 561.73,279.54 562.49,279.43 563.27,279.33 564.08,279.22 564.92,279.11 565.78,278.99 566.54,278.90 567.18,278.81 567.72,278.74 568.15,278.68 568.48,278.64 568.69,278.61 568.80,278.60" fill="none" stroke="#111" stroke-width="1.0" stroke-linejoin="round"/>
<polyline points="523.94,320.20 524.00,318.00 521.89,318.62" fill="none" stroke="#555" stroke-width="0.8" stroke-linejoin="miter"/>
<polyline points="529.94,312.50 530.00,310.30 527.89,310.92" fill="none" stroke="#555" stroke-width="0.8" stroke-linejoin="miter"/>
<polyline points="535.94,304.70 536.00,302.50 533.89,303.12" fill="none" stroke="#555" stroke-width="0.8" stroke-linejoin="miter"/>
<polyline points="541.94,296.80 542.00,294.60 539.89,295.22" fill="none" stroke="#555" stroke-width="0.8" stroke-linejoin="miter"/>
<polyline points="558.52,281.51 560.20,279.80 558.05,278.73" fill="none" stroke="#111" stroke-width="0.9" stroke-linejoin="miter"/>
<polyline points="567.12,280.31 568.80,278.60 566.65,277.53" fill="none" stroke="#111" stroke-width="0.9" stroke-linejoin="miter"/>
<polyline points="526.78,317.79 527.00,315.60 524.85,316.07" fill="none" stroke="#f02828" stroke-width="0.8" stroke-linejoin="miter"/>
<polyline points="534.08,309.29 534.30,307.10 532.15,307.57" fill="none" stroke="#f02828" stroke-width="0.8" stroke-linejoin="miter"/>
<polyline points="544.48,295.89 544.70,293.70 542.55,294.17" fill="none" stroke="#f02828" stroke-width="0.8" stroke-linejoin="miter"/>
<polyline points="550.07,297.20 551.60,299.30 553.13,297.20" fill="none" stroke="#f02828" stroke-width="1.0" stroke-linejoin="miter"/>
<polyline points="519.17,312.53 517.90,314.80 520.45,315.31" fill="none" stroke="#f02828" stroke-width="1.0" stroke-linejoin="miter"/>
<polyline points="513.42,319.11 513.60,321.70 516.01,320.72" fill="none" stroke="#f02828" stroke-width="1.0" stroke-linejoin="miter"/>
<circle cx="549.50" cy="284.50" r="1.4" fill="#9a40e8" stroke="none" stroke-width="0.6"/>
<circle cx="551.20" cy="288.30" r="1.4" fill="#9a40e8" stroke="none" stroke-width="0.6"/>
<circle cx="542.10" cy="315.20" r="1.4" fill="#9a40e8" stroke="none" stroke-width="0.6"/>
<text x="545.80" y="317.60" font-size="6.7" fill="#111">Drug</text>
<text x="545.80" y="324.00" font-size="6.7" fill="#111">treatment</text>
<text x="591.20" y="233.74" font-size="11" font-weight="bold" fill="#000">k</text>
<line x1="613.20" y1="242.50" x2="617.70" y2="242.50" stroke="#111" stroke-width="1.2"/>
<text x="619.70" y="244.90" font-size="6.7" fill="#111">S/G2</text>
<line x1="613.20" y1="249.90" x2="617.70" y2="249.90" stroke="#f02828" stroke-width="1.2"/>
<text x="619.70" y="252.30" font-size="6.7" fill="#111">G1</text>
<text x="645.80" y="261.90" font-size="6.7" text-anchor="middle" fill="#111">EGFRi (5 μM)</text>
<line x1="609.20" y1="267.00" x2="609.20" y2="329.40" stroke="#3a3a3a" stroke-width="0.9"/>
<line x1="609.20" y1="329.40" x2="681.80" y2="329.40" stroke="#3a3a3a" stroke-width="0.9"/>
<text x="606.70" y="269.40" font-size="6.7" text-anchor="end" fill="#111">2</text>
<line x1="609.20" y1="267.00" x2="611.00" y2="267.00" stroke="#3a3a3a" stroke-width="0.7"/>
<text x="606.70" y="300.70" font-size="6.7" text-anchor="end" fill="#111">1</text>
<line x1="609.20" y1="298.30" x2="611.00" y2="298.30" stroke="#3a3a3a" stroke-width="0.7"/>
<text x="606.70" y="331.70" font-size="6.7" text-anchor="end" fill="#111">0</text>
<line x1="609.20" y1="329.30" x2="611.00" y2="329.30" stroke="#3a3a3a" stroke-width="0.7"/>
<text x="609.20" y="337.50" font-size="6.7" text-anchor="middle" fill="#111">20</text>
<line x1="609.20" y1="329.40" x2="609.20" y2="327.60" stroke="#3a3a3a" stroke-width="0.7"/>
<text x="627.40" y="337.50" font-size="6.7" text-anchor="middle" fill="#111">30</text>
<line x1="627.40" y1="329.40" x2="627.40" y2="327.60" stroke="#3a3a3a" stroke-width="0.7"/>
<text x="645.60" y="337.50" font-size="6.7" text-anchor="middle" fill="#111">40</text>
<line x1="645.60" y1="329.40" x2="645.60" y2="327.60" stroke="#3a3a3a" stroke-width="0.7"/>
<text x="663.80" y="337.50" font-size="6.7" text-anchor="middle" fill="#111">50</text>
<line x1="663.80" y1="329.40" x2="663.80" y2="327.60" stroke="#3a3a3a" stroke-width="0.7"/>
<text x="682.00" y="337.50" font-size="6.7" text-anchor="middle" fill="#111">60</text>
<line x1="682.00" y1="329.40" x2="682.00" y2="327.60" stroke="#3a3a3a" stroke-width="0.7"/>
<text x="645.00" y="347.00" font-size="6.7" text-anchor="middle" fill="#111">Time after release (h)</text>
<text transform="translate(597.00,301.40) rotate(-90)" y="2.40" font-size="6.7" text-anchor="middle" fill="#111">CDK2 activity (a.u.)</text>
<line x1="648.40" y1="269.50" x2="648.40" y2="329.40" stroke="#222" stroke-width="0.9" stroke-dasharray="1.5,1.7"/>
<path d="M645.90,264.30 L650.90,264.30 L648.40,269.30 Z" fill="#111"/>
<polyline points="609.20,304.35 610.55,303.73 611.90,303.37 613.25,302.19 614.60,301.51 616.20,301.29 617.80,300.58 619.40,300.61 620.60,299.75 621.80,298.94 623.00,297.27 624.20,296.50 625.20,298.24 626.20,300.91 627.60,299.84 629.00,298.24 630.60,298.85 632.20,298.50 633.80,297.85 635.02,296.84 636.25,295.41 637.48,294.29 638.70,293.83 640.30,292.09 641.90,290.96 643.50,289.74 644.77,287.93 646.03,286.76 647.30,285.14 648.75,284.09 650.20,282.32 651.47,281.47 652.73,280.37 654.00,279.56 655.60,279.06 657.20,278.58 658.80,279.00 660.08,278.83 661.37,278.51 662.65,278.21 663.93,277.65 665.22,277.40 666.50,277.29 667.78,277.24 669.07,278.10 670.35,277.90 671.63,278.51 672.92,278.22 674.20,278.96 675.56,278.53 676.92,277.36 678.28,277.25 679.64,277.63 681.00,276.90" fill="none" stroke="#222" stroke-width="0.8" stroke-linejoin="round"/>
<polyline points="609.20,308.27 610.42,308.61 611.63,307.86 612.85,307.37 614.07,307.76 615.28,307.75 616.50,307.07 617.78,306.40 619.07,306.17 620.35,306.31 621.63,305.62 622.92,304.50 624.20,304.15 625.48,304.17 626.77,304.29 628.05,305.20 629.33,304.74 630.62,305.29 631.90,305.35 633.18,304.61 634.47,304.67 635.75,303.58 637.03,303.61 638.32,302.60 639.60,302.42 640.94,301.45 642.28,300.75 643.62,300.69 644.96,299.76 646.30,298.50 647.30,293.78 648.30,287.81 649.75,286.04 651.20,284.55 652.62,283.62 654.05,282.35 655.48,282.51 656.90,281.01 658.10,281.06 659.30,281.57 660.50,281.13 661.70,281.10 662.90,280.87 664.10,280.89 665.30,281.38 666.50,281.04 667.78,281.25 669.07,280.87 670.35,280.80 671.63,281.16 672.92,280.53 674.20,280.47 675.56,280.57 676.92,279.68 678.28,279.45 679.64,280.01 681.00,279.40" fill="none" stroke="#222" stroke-width="0.8" stroke-linejoin="round"/>
<polyline points="609.20,311.52 610.55,309.72 611.90,308.44 613.25,307.76 614.60,306.74 615.88,305.68 617.17,306.12 618.45,305.73 619.73,305.14 621.02,304.64 622.30,304.00 623.50,304.18 624.70,305.34 625.90,304.85 627.10,305.55 628.30,305.34 629.50,306.15 630.70,306.16 631.90,306.09 633.18,305.83 634.47,306.22 635.75,305.42 637.03,305.43 638.32,305.61 639.60,305.75 640.94,305.31 642.28,304.78 643.62,305.22 644.96,304.30 646.30,303.92 647.75,301.32 649.20,298.65 650.50,296.33 651.80,294.51 653.10,292.77 654.52,292.00 655.95,290.58 657.38,289.84 658.80,289.39 660.08,289.33 661.37,288.86 662.65,288.74 663.93,288.48 665.22,287.89 666.50,287.64 667.95,286.89 669.40,287.06 670.85,286.13 672.30,285.66 673.54,284.99 674.79,285.88 676.03,286.00 677.27,286.52 678.51,286.38 679.76,287.33 681.00,287.10" fill="none" stroke="#222" stroke-width="0.8" stroke-linejoin="round"/>
<polyline points="609.20,305.88 610.44,306.46 611.69,306.76 612.93,307.03 614.18,306.98 615.42,307.06 616.67,307.26 617.91,307.49 619.16,307.04 620.40,307.49 621.60,307.83 622.80,307.92 624.00,307.59 625.20,308.09 626.40,308.29 627.60,308.12 628.80,308.30 630.00,308.18 631.20,308.38 632.40,308.41 633.60,307.88 634.80,308.44 636.00,308.79 637.20,308.68 638.40,308.53 639.60,308.19 640.88,308.20 642.17,307.71 643.45,307.24 644.73,307.31 646.02,306.22 647.30,306.55 648.75,304.40 650.20,303.55 651.65,302.01 653.10,300.33 654.30,300.56 655.50,300.12 656.70,300.00 657.90,300.07 659.10,299.17 660.30,298.69 661.50,298.74 662.70,298.88 663.98,297.92 665.27,297.40 666.55,297.66 667.83,296.93 669.12,296.23 670.40,296.19 671.85,295.13 673.30,294.97 674.75,294.00 676.20,293.73 677.80,296.04 679.40,298.08 681.00,299.60" fill="none" stroke="#222" stroke-width="0.8" stroke-linejoin="round"/>
<polyline points="609.20,320.18 610.42,319.85 611.63,320.22 612.85,320.12 614.07,320.10 615.28,320.63 616.50,321.14 617.78,320.98 619.07,320.68 620.35,320.75 621.63,319.91 622.92,319.64 624.20,319.75 625.48,319.09 626.77,318.55 628.05,318.26 629.33,317.99 630.62,317.38 631.90,316.72 633.18,316.44 634.47,315.78 635.75,314.45 637.03,313.27 638.32,312.43 639.60,312.47 641.05,310.19 642.50,309.41 643.95,307.82 645.40,306.11 646.67,305.66 647.93,303.95 649.20,303.14 650.47,300.95 651.73,298.02 653.00,296.33 654.50,293.24 656.00,291.00" fill="none" stroke="#222" stroke-width="0.8" stroke-linejoin="round"/>
<polyline points="609.20,312.85 610.44,312.88 611.69,313.39 612.93,313.36 614.18,313.59 615.42,313.71 616.67,313.92 617.91,314.12 619.16,314.03 620.40,313.79 621.60,312.91 622.80,311.63 624.00,310.43 625.20,309.68 626.40,308.77 627.60,307.33 628.80,306.32 630.00,305.29 631.45,305.06 632.90,304.46 634.35,304.06 635.80,303.68 637.08,303.89 638.37,304.64 639.65,305.18 640.93,305.08 642.22,306.14 643.50,306.46 644.78,305.57 646.07,305.33 647.35,304.99 648.63,304.72 649.92,303.88 651.20,303.55 652.62,305.19 654.05,306.56 655.48,308.09 656.90,309.17 658.35,310.51 659.80,311.39 661.25,312.96 662.70,314.22 663.92,314.19 665.14,314.34 666.36,314.08 667.58,314.65 668.80,314.80 670.02,314.89 671.24,314.68 672.46,314.95 673.68,314.71 674.90,315.22 676.12,315.28 677.34,315.01 678.56,314.92 679.78,315.27 681.00,315.40" fill="none" stroke="#f02828" stroke-width="0.8" stroke-linejoin="round"/>
<polyline points="609.20,316.04 610.51,316.09 611.82,315.79 613.13,315.37 614.44,315.82 615.75,315.19 617.06,315.61 618.37,315.07 619.68,315.08 620.99,315.30 622.30,314.75 623.50,313.92 624.70,313.34 625.90,312.64 627.10,311.89 628.30,310.95 629.50,310.29 630.70,309.13 631.90,308.61 633.10,307.76 634.30,307.60 635.50,307.57 636.70,307.15 637.90,307.21 639.10,306.90 640.30,306.57 641.50,306.54 642.78,306.19 644.07,305.87 645.35,305.77 646.63,305.94 647.92,305.83 649.20,305.20 650.65,305.40 652.10,305.23 653.55,304.67 655.00,304.45 656.45,305.89 657.90,307.83 659.35,309.50 660.80,311.27 662.08,311.57 663.37,312.93 664.65,313.31 665.93,313.93 667.22,314.91 668.50,315.44 669.75,315.31 671.00,315.37 672.25,314.86 673.50,315.11 674.75,314.94 676.00,315.24 677.25,315.14 678.50,314.60 679.75,314.66 681.00,314.60" fill="none" stroke="#f02828" stroke-width="0.8" stroke-linejoin="round"/>
<polyline points="609.20,317.64 610.45,317.77 611.70,317.95 612.95,317.93 614.20,317.55 615.45,317.36 616.70,317.18 617.95,317.40 619.20,317.53 620.45,316.89 621.70,317.26 622.95,316.65 624.20,316.69 625.57,315.89 626.94,315.40 628.31,314.33 629.69,313.54 631.06,312.91 632.43,311.74 633.80,311.36 635.01,310.57 636.22,310.48 637.44,309.94 638.65,309.54 639.86,309.41 641.08,308.98 642.29,308.58 643.50,308.24 644.73,308.03 645.96,307.49 647.19,307.24 648.41,307.25 649.64,306.97 650.87,306.61 652.10,306.55 653.55,307.60 655.00,309.00 656.45,309.79 657.90,311.37 659.24,312.38 660.58,313.40 661.92,313.95 663.26,314.91 664.60,316.30 665.86,315.80 667.12,316.35 668.38,316.27 669.65,315.74 670.91,315.82 672.17,316.16 673.43,315.83 674.69,315.72 675.95,316.23 677.22,315.95 678.48,316.20 679.74,315.74 681.00,316.00" fill="none" stroke="#f02828" stroke-width="0.8" stroke-linejoin="round"/>
<polyline points="609.20,313.93 610.42,314.61 611.63,314.63 612.85,315.24 614.07,316.06 615.28,316.70 616.50,317.23 617.71,316.27 618.92,316.18 620.14,315.99 621.35,315.45 622.56,315.22 623.78,314.51 624.99,314.06 626.20,313.72 627.57,313.13 628.94,312.95 630.31,312.38 631.69,311.88 633.06,311.04 634.43,310.52 635.80,309.99 637.00,309.71 638.20,309.09 639.40,308.32 640.60,307.02 641.80,306.27 643.00,306.17 644.20,305.10 645.40,304.59 646.68,303.96 647.97,303.74 649.25,303.46 650.53,303.08 651.82,302.89 653.10,302.16 654.52,304.09 655.95,305.64 657.38,306.63 658.80,308.27 660.08,309.42 661.37,310.13 662.65,310.94 663.93,311.87 665.22,313.06 666.50,313.66 667.71,314.48 668.92,314.63 670.12,314.77 671.33,315.09 672.54,315.13 673.75,315.18 674.96,315.53 676.17,315.67 677.38,316.21 678.58,316.30 679.79,316.12 681.00,316.50" fill="none" stroke="#f02828" stroke-width="0.8" stroke-linejoin="round"/>
<polyline points="609.20,317.19 610.45,316.95 611.70,316.84 612.95,316.75 614.20,316.33 615.45,316.55 616.70,316.42 617.95,316.16 619.20,316.09 620.45,315.96 621.70,315.58 622.95,315.68 624.20,315.10 625.57,313.99 626.94,312.78 628.31,311.16 629.69,310.10 631.06,309.00 632.43,307.69 633.80,306.11 635.25,305.91 636.70,305.02 638.15,304.09 639.60,303.61 640.94,303.93 642.28,304.28 643.62,304.56 644.96,305.37 646.30,305.50 647.66,306.12 649.02,306.74 650.38,307.48 651.74,307.39 653.10,308.38 654.38,309.27 655.67,309.73 656.95,310.63 658.23,311.19 659.52,312.09 660.80,313.01 662.06,312.96 663.32,313.21 664.59,313.82 665.85,313.71 667.11,313.82 668.38,314.29 669.64,314.15 670.90,314.60 672.16,314.49 673.42,314.75 674.69,314.38 675.95,314.89 677.21,315.15 678.48,314.79 679.74,315.56 681.00,315.40" fill="none" stroke="#f02828" stroke-width="0.8" stroke-linejoin="round"/>
<polyline points="609.20,311.86 610.44,311.98 611.69,311.67 612.93,311.80 614.18,311.78 615.42,311.29 616.67,311.81 617.91,311.34 619.16,311.32 620.40,311.27 621.68,310.46 622.97,309.75 624.25,309.36 625.53,308.64 626.82,307.80 628.10,307.45 629.30,306.92 630.50,306.48 631.70,306.41 632.90,306.03 634.10,305.87 635.30,306.05 636.50,305.56 637.70,305.68 639.07,305.16 640.44,304.26 641.81,304.50 643.19,304.05 644.56,303.03 645.93,303.20 647.30,302.45 648.58,303.12 649.87,304.10 651.15,304.22 652.43,305.05 653.72,305.97 655.00,306.46 656.28,307.41 657.57,308.90 658.85,309.92 660.13,310.91 661.42,311.70 662.70,313.19 663.92,313.20 665.14,313.15 666.36,313.17 667.58,313.63 668.80,313.47 670.02,313.82 671.24,314.10 672.46,314.08 673.68,314.07 674.90,314.42 676.12,314.44 677.34,314.81 678.56,314.77 679.78,315.22 681.00,315.00" fill="none" stroke="#f02828" stroke-width="0.8" stroke-linejoin="round"/>
</svg></body></html>
